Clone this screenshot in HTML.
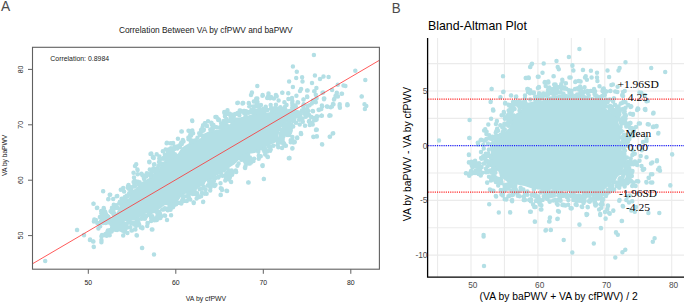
<!DOCTYPE html>
<html><head><meta charset="utf-8"><style>
html,body{margin:0;padding:0;background:#fff;width:685px;height:304px;overflow:hidden}
svg{display:block;font-family:"Liberation Sans",sans-serif}
</style></head><body>
<svg width="685" height="304" viewBox="0 0 685 304">
<rect width="685" height="304" fill="#fff"/>
<path d="M103.68 218.65 L106.18 220.34 L111.99 223.79 L112.3 224 L115.76 226.59 L118.83 225.81 L119.19 225.74 L119.55 225.7 L119.91 225.71 L120.27 225.75 L120.62 225.82 L120.96 225.94 L121.29 226.08 L122.38 226.64 L123.48 223.38 L123.61 223.07 L123.76 222.77 L123.94 222.49 L124.14 222.22 L124.37 221.98 L124.63 221.76 L124.9 221.56 L125.19 221.39 L125.49 221.25 L125.81 221.14 L126.13 221.06 L126.47 221.02 L126.8 221 L131.07 221 L135.13 219.98 L138.29 218.53 L141.64 216.3 L145.12 213.91 L145.42 213.73 L145.73 213.58 L146.05 213.46 L146.39 213.37 L146.73 213.32 L147.08 213.3 L147.42 213.31 L147.77 213.36 L148.1 213.45 L148.43 213.56 L148.74 213.71 L149.04 213.89 L149.32 214.09 L149.57 214.33 L150.66 215.42 L151.69 214.36 L151.95 214.12 L152.22 213.91 L152.52 213.73 L152.84 213.58 L153.17 213.46 L153.51 213.37 L153.85 213.32 L154.2 213.3 L156.76 213.3 L158.18 210.51 L158.34 210.23 L158.53 209.97 L158.73 209.72 L158.96 209.5 L159.21 209.29 L163.91 205.79 L164.19 205.6 L164.5 205.44 L164.81 205.31 L165.14 205.21 L165.48 205.14 L165.82 205.1 L166.16 205.1 L166.5 205.14 L166.84 205.2 L167.17 205.3 L168.64 205.82 L168.69 205.66 L168.81 205.36 L168.96 205.06 L169.14 204.78 L169.34 204.52 L169.57 204.28 L169.82 204.06 L170.09 203.87 L170.38 203.7 L170.68 203.56 L170.99 203.45 L171.31 203.37 L171.64 203.32 L171.97 203.3 L172.3 203.31 L174.64 203.51 L177.57 201.69 L181.86 195.75 L182.09 195.47 L182.34 195.21 L182.62 194.98 L182.92 194.78 L183.24 194.62 L183.58 194.48 L190.68 192.08 L190.85 192.03 L195.94 190.59 L198.79 187.66 L199.07 187.41 L199.37 187.18 L199.69 186.99 L200.03 186.84 L204.4 185.14 L205.08 183.09 L205.2 182.78 L205.35 182.48 L205.53 182.2 L205.73 181.94 L205.96 181.69 L206.21 181.47 L206.48 181.28 L206.76 181.11 L207.07 180.96 L207.38 180.85 L207.7 180.77 L212.21 179.85 L213.81 177.52 L214.02 177.24 L214.26 176.99 L214.52 176.76 L214.81 176.56 L215.11 176.38 L219.81 173.98 L220.08 173.86 L225.36 171.71 L227.25 169.9 L229.63 167.53 L229.91 167.27 L230.22 167.05 L234.6 164.26 L240.33 158.53 L240.54 158.33 L240.77 158.15 L241.01 157.99 L246.91 154.49 L247.2 154.34 L247.5 154.21 L247.8 154.12 L248.12 154.05 L254.82 152.92 L262.33 149.75 L266.67 146.42 L266.93 146.24 L267.2 146.09 L267.48 145.96 L273.27 143.6 L277.56 141.5 L279.86 139.78 L278.81 137.43 L278.68 137.1 L278.58 136.76 L278.52 136.41 L278.5 136.05 L278.51 135.69 L278.56 135.34 L279.56 130.14 L279.64 129.81 L279.75 129.49 L279.9 129.18 L280.07 128.89 L280.27 128.61 L280.49 128.36 L283.99 124.76 L284.21 124.56 L284.44 124.37 L289.24 120.87 L289.52 120.69 L289.81 120.53 L290.12 120.41 L290.43 120.31 L295.12 119.11 L301.86 117.32 L302.45 113.14 L302.01 111.16 L299.76 110.38 L291.29 108.58 L287.55 109.36 L281.97 111.72 L281.65 111.84 L281.33 111.92 L281.01 111.98 L280.68 112 L280.34 111.99 L280.02 111.95 L274.77 111.06 L270.73 111.92 L270.58 111.95 L264.68 112.95 L264.3 112.99 L263.91 112.99 L263.52 112.95 L258.39 112.1 L253.34 113.81 L246.75 116.11 L246.5 116.18 L246.24 116.24 L240.34 117.34 L240.02 117.39 L239.7 117.4 L234.76 117.4 L233.33 120.27 L233.14 120.59 L232.93 120.9 L232.67 121.17 L227.97 125.87 L227.72 126.11 L227.44 126.32 L227.14 126.49 L226.82 126.64 L220.92 129.04 L220.61 129.15 L220.28 129.23 L219.96 129.28 L216.31 129.66 L211.87 130.79 L207.5 131.91 L203.81 133.68 L200.83 137.76 L200.61 138.03 L200.38 138.27 L200.12 138.49 L199.84 138.68 L199.54 138.84 L194.84 141.14 L194.5 141.29 L194.15 141.4 L189.96 142.44 L186.98 144.49 L186.79 144.61 L181.63 147.67 L178.49 152.82 L178.29 153.11 L178.07 153.38 L177.82 153.62 L177.55 153.84 L177.25 154.03 L168.95 158.83 L168.75 158.94 L162.63 161.96 L158.76 168.9 L158.6 169.16 L158.42 169.4 L158.22 169.63 L158 169.84 L153.41 173.84 L150.01 177.34 L149.77 177.57 L149.51 177.77 L149.22 177.95 L141.43 182.36 L137.02 187.33 L136.71 187.63 L136.38 187.89 L133.13 190.12 L130.48 192.69 L129.61 196.48 L129.52 196.81 L129.4 197.13 L129.24 197.43 L129.06 197.72 L128.85 197.98 L128.62 198.23 L128.36 198.45 L128.08 198.65 L124.61 200.87 L120.78 203.8 L118.74 208.82 L118.63 209.06 L118.51 209.29 L115.01 215.19 L114.83 215.46 L114.62 215.72 L114.38 215.96 L114.13 216.18 L113.86 216.37 L113.57 216.53 L113.26 216.67 L112.94 216.77 L112.62 216.84 L104.25 218.35 L103.68 218.65 Z" fill="#b3dfe5"/>
<path d="M74.75 229.9a2.25 2.25 0 1 0 4.5 0a2.25 2.25 0 1 0 -4.5 0M81.75 235.2a2.25 2.25 0 1 0 4.5 0a2.25 2.25 0 1 0 -4.5 0M87.65 239.9a2.25 2.25 0 1 0 4.5 0a2.25 2.25 0 1 0 -4.5 0M91.15 241.5a2.25 2.25 0 1 0 4.5 0a2.25 2.25 0 1 0 -4.5 0M91.55 246.9a2.25 2.25 0 1 0 4.5 0a2.25 2.25 0 1 0 -4.5 0M99.25 236.4a2.25 2.25 0 1 0 4.5 0a2.25 2.25 0 1 0 -4.5 0M99.25 241a2.25 2.25 0 1 0 4.5 0a2.25 2.25 0 1 0 -4.5 0M102.75 235.2a2.25 2.25 0 1 0 4.5 0a2.25 2.25 0 1 0 -4.5 0M105.15 231.7a2.25 2.25 0 1 0 4.5 0a2.25 2.25 0 1 0 -4.5 0M107.45 235.2a2.25 2.25 0 1 0 4.5 0a2.25 2.25 0 1 0 -4.5 0M91.15 203.7a2.25 2.25 0 1 0 4.5 0a2.25 2.25 0 1 0 -4.5 0M94.65 207.9a2.25 2.25 0 1 0 4.5 0a2.25 2.25 0 1 0 -4.5 0M101.65 208.4a2.25 2.25 0 1 0 4.5 0a2.25 2.25 0 1 0 -4.5 0M102.75 213a2.25 2.25 0 1 0 4.5 0a2.25 2.25 0 1 0 -4.5 0M100.95 191.3a2.25 2.25 0 1 0 4.5 0a2.25 2.25 0 1 0 -4.5 0M107.45 194.8a2.25 2.25 0 1 0 4.5 0a2.25 2.25 0 1 0 -4.5 0M106.25 199a2.25 2.25 0 1 0 4.5 0a2.25 2.25 0 1 0 -4.5 0M109.75 208.4a2.25 2.25 0 1 0 4.5 0a2.25 2.25 0 1 0 -4.5 0M122.65 230.6a2.25 2.25 0 1 0 4.5 0a2.25 2.25 0 1 0 -4.5 0M129.65 230.6a2.25 2.25 0 1 0 4.5 0a2.25 2.25 0 1 0 -4.5 0M134.35 235.2a2.25 2.25 0 1 0 4.5 0a2.25 2.25 0 1 0 -4.5 0M133.15 229.4a2.25 2.25 0 1 0 4.5 0a2.25 2.25 0 1 0 -4.5 0M140.15 228.2a2.25 2.25 0 1 0 4.5 0a2.25 2.25 0 1 0 -4.5 0M149.55 229.4a2.25 2.25 0 1 0 4.5 0a2.25 2.25 0 1 0 -4.5 0M139.75 248a2.25 2.25 0 1 0 4.5 0a2.25 2.25 0 1 0 -4.5 0M151.75 254.6a2.25 2.25 0 1 0 4.5 0a2.25 2.25 0 1 0 -4.5 0M162.35 215.4a2.25 2.25 0 1 0 4.5 0a2.25 2.25 0 1 0 -4.5 0M164.75 220a2.25 2.25 0 1 0 4.5 0a2.25 2.25 0 1 0 -4.5 0M191.55 202.5a2.25 2.25 0 1 0 4.5 0a2.25 2.25 0 1 0 -4.5 0M200.95 201.8a2.25 2.25 0 1 0 4.5 0a2.25 2.25 0 1 0 -4.5 0M203.25 193.2a2.25 2.25 0 1 0 4.5 0a2.25 2.25 0 1 0 -4.5 0M218.45 194.8a2.25 2.25 0 1 0 4.5 0a2.25 2.25 0 1 0 -4.5 0M219.15 188.5a2.25 2.25 0 1 0 4.5 0a2.25 2.25 0 1 0 -4.5 0M224.25 190.8a2.25 2.25 0 1 0 4.5 0a2.25 2.25 0 1 0 -4.5 0M148.25 154a2.25 2.25 0 1 0 4.5 0a2.25 2.25 0 1 0 -4.5 0M150.65 157.5a2.25 2.25 0 1 0 4.5 0a2.25 2.25 0 1 0 -4.5 0M147.05 162.2a2.25 2.25 0 1 0 4.5 0a2.25 2.25 0 1 0 -4.5 0M151.75 164.5a2.25 2.25 0 1 0 4.5 0a2.25 2.25 0 1 0 -4.5 0M157.65 158.2a2.25 2.25 0 1 0 4.5 0a2.25 2.25 0 1 0 -4.5 0M163.45 155.2a2.25 2.25 0 1 0 4.5 0a2.25 2.25 0 1 0 -4.5 0M166.95 149.3a2.25 2.25 0 1 0 4.5 0a2.25 2.25 0 1 0 -4.5 0M164.65 142.8a2.25 2.25 0 1 0 4.5 0a2.25 2.25 0 1 0 -4.5 0M169.25 143.5a2.25 2.25 0 1 0 4.5 0a2.25 2.25 0 1 0 -4.5 0M140.05 175a2.25 2.25 0 1 0 4.5 0a2.25 2.25 0 1 0 -4.5 0M200.85 201.9a2.25 2.25 0 1 0 4.5 0a2.25 2.25 0 1 0 -4.5 0M191.45 203.1a2.25 2.25 0 1 0 4.5 0a2.25 2.25 0 1 0 -4.5 0M187.95 199.6a2.25 2.25 0 1 0 4.5 0a2.25 2.25 0 1 0 -4.5 0M204.35 193.7a2.25 2.25 0 1 0 4.5 0a2.25 2.25 0 1 0 -4.5 0M218.35 194.9a2.25 2.25 0 1 0 4.5 0a2.25 2.25 0 1 0 -4.5 0M219.55 189.1a2.25 2.25 0 1 0 4.5 0a2.25 2.25 0 1 0 -4.5 0M224.65 190.9a2.25 2.25 0 1 0 4.5 0a2.25 2.25 0 1 0 -4.5 0M228.85 182.1a2.25 2.25 0 1 0 4.5 0a2.25 2.25 0 1 0 -4.5 0M230.05 173.9a2.25 2.25 0 1 0 4.5 0a2.25 2.25 0 1 0 -4.5 0M233.55 170.4a2.25 2.25 0 1 0 4.5 0a2.25 2.25 0 1 0 -4.5 0M242.85 168a2.25 2.25 0 1 0 4.5 0a2.25 2.25 0 1 0 -4.5 0M246.35 163.4a2.25 2.25 0 1 0 4.5 0a2.25 2.25 0 1 0 -4.5 0M245.95 182.5a2.25 2.25 0 1 0 4.5 0a2.25 2.25 0 1 0 -4.5 0M260.45 165.2a2.25 2.25 0 1 0 4.5 0a2.25 2.25 0 1 0 -4.5 0M261.55 179a2.25 2.25 0 1 0 4.5 0a2.25 2.25 0 1 0 -4.5 0M265.05 156.4a2.25 2.25 0 1 0 4.5 0a2.25 2.25 0 1 0 -4.5 0M287.25 158.2a2.25 2.25 0 1 0 4.5 0a2.25 2.25 0 1 0 -4.5 0M290.05 148.2a2.25 2.25 0 1 0 4.5 0a2.25 2.25 0 1 0 -4.5 0M288.45 142.3a2.25 2.25 0 1 0 4.5 0a2.25 2.25 0 1 0 -4.5 0M291.95 142.3a2.25 2.25 0 1 0 4.5 0a2.25 2.25 0 1 0 -4.5 0M249.65 92.8a2.25 2.25 0 1 0 4.5 0a2.25 2.25 0 1 0 -4.5 0M260.35 95.1a2.25 2.25 0 1 0 4.5 0a2.25 2.25 0 1 0 -4.5 0M266.25 93.5a2.25 2.25 0 1 0 4.5 0a2.25 2.25 0 1 0 -4.5 0M273.65 95.1a2.25 2.25 0 1 0 4.5 0a2.25 2.25 0 1 0 -4.5 0M279.95 92.8a2.25 2.25 0 1 0 4.5 0a2.25 2.25 0 1 0 -4.5 0M286.05 93.3a2.25 2.25 0 1 0 4.5 0a2.25 2.25 0 1 0 -4.5 0M267.85 98.2a2.25 2.25 0 1 0 4.5 0a2.25 2.25 0 1 0 -4.5 0M253.85 99.3a2.25 2.25 0 1 0 4.5 0a2.25 2.25 0 1 0 -4.5 0M235.15 102.9a2.25 2.25 0 1 0 4.5 0a2.25 2.25 0 1 0 -4.5 0M240.95 102.9a2.25 2.25 0 1 0 4.5 0a2.25 2.25 0 1 0 -4.5 0M246.85 104a2.25 2.25 0 1 0 4.5 0a2.25 2.25 0 1 0 -4.5 0M254.95 104a2.25 2.25 0 1 0 4.5 0a2.25 2.25 0 1 0 -4.5 0M222.25 112.2a2.25 2.25 0 1 0 4.5 0a2.25 2.25 0 1 0 -4.5 0M226.95 113.4a2.25 2.25 0 1 0 4.5 0a2.25 2.25 0 1 0 -4.5 0M214.15 116.9a2.25 2.25 0 1 0 4.5 0a2.25 2.25 0 1 0 -4.5 0M202.85 123.2a2.25 2.25 0 1 0 4.5 0a2.25 2.25 0 1 0 -4.5 0M209.45 123.2a2.25 2.25 0 1 0 4.5 0a2.25 2.25 0 1 0 -4.5 0M215.95 119.9a2.25 2.25 0 1 0 4.5 0a2.25 2.25 0 1 0 -4.5 0M237.45 111a2.25 2.25 0 1 0 4.5 0a2.25 2.25 0 1 0 -4.5 0M344.95 105.2a2.25 2.25 0 1 0 4.5 0a2.25 2.25 0 1 0 -4.5 0M337.45 106.8a2.25 2.25 0 1 0 4.5 0a2.25 2.25 0 1 0 -4.5 0M329.75 106.4a2.25 2.25 0 1 0 4.5 0a2.25 2.25 0 1 0 -4.5 0M325.05 106.8a2.25 2.25 0 1 0 4.5 0a2.25 2.25 0 1 0 -4.5 0M319.25 115.7a2.25 2.25 0 1 0 4.5 0a2.25 2.25 0 1 0 -4.5 0M327.45 115.2a2.25 2.25 0 1 0 4.5 0a2.25 2.25 0 1 0 -4.5 0M313.45 119.9a2.25 2.25 0 1 0 4.5 0a2.25 2.25 0 1 0 -4.5 0M314.55 129.7a2.25 2.25 0 1 0 4.5 0a2.25 2.25 0 1 0 -4.5 0M330.95 133.2a2.25 2.25 0 1 0 4.5 0a2.25 2.25 0 1 0 -4.5 0M327.45 136.7a2.25 2.25 0 1 0 4.5 0a2.25 2.25 0 1 0 -4.5 0M311.05 136.7a2.25 2.25 0 1 0 4.5 0a2.25 2.25 0 1 0 -4.5 0M314.55 136.3a2.25 2.25 0 1 0 4.5 0a2.25 2.25 0 1 0 -4.5 0M319.75 144.2a2.25 2.25 0 1 0 4.5 0a2.25 2.25 0 1 0 -4.5 0M298.65 133.9a2.25 2.25 0 1 0 4.5 0a2.25 2.25 0 1 0 -4.5 0M294.75 137.9a2.25 2.25 0 1 0 4.5 0a2.25 2.25 0 1 0 -4.5 0M290.05 139.5a2.25 2.25 0 1 0 4.5 0a2.25 2.25 0 1 0 -4.5 0M291.25 142.6a2.25 2.25 0 1 0 4.5 0a2.25 2.25 0 1 0 -4.5 0M290.05 148.4a2.25 2.25 0 1 0 4.5 0a2.25 2.25 0 1 0 -4.5 0M281.85 143.7a2.25 2.25 0 1 0 4.5 0a2.25 2.25 0 1 0 -4.5 0M286.55 158.2a2.25 2.25 0 1 0 4.5 0a2.25 2.25 0 1 0 -4.5 0M276.05 147.2a2.25 2.25 0 1 0 4.5 0a2.25 2.25 0 1 0 -4.5 0M307.55 125a2.25 2.25 0 1 0 4.5 0a2.25 2.25 0 1 0 -4.5 0M309.85 122.7a2.25 2.25 0 1 0 4.5 0a2.25 2.25 0 1 0 -4.5 0M312.25 118a2.25 2.25 0 1 0 4.5 0a2.25 2.25 0 1 0 -4.5 0M311.65 55a2.25 2.25 0 1 0 4.5 0a2.25 2.25 0 1 0 -4.5 0M290.65 66.5a2.25 2.25 0 1 0 4.5 0a2.25 2.25 0 1 0 -4.5 0M294.55 71.8a2.25 2.25 0 1 0 4.5 0a2.25 2.25 0 1 0 -4.5 0M353.05 70.7a2.25 2.25 0 1 0 4.5 0a2.25 2.25 0 1 0 -4.5 0M312.65 75.6a2.25 2.25 0 1 0 4.5 0a2.25 2.25 0 1 0 -4.5 0M321.25 76.6a2.25 2.25 0 1 0 4.5 0a2.25 2.25 0 1 0 -4.5 0M326.35 77a2.25 2.25 0 1 0 4.5 0a2.25 2.25 0 1 0 -4.5 0M299.85 77.2a2.25 2.25 0 1 0 4.5 0a2.25 2.25 0 1 0 -4.5 0M293.95 77.9a2.25 2.25 0 1 0 4.5 0a2.25 2.25 0 1 0 -4.5 0M317.75 79.1a2.25 2.25 0 1 0 4.5 0a2.25 2.25 0 1 0 -4.5 0M363.05 80a2.25 2.25 0 1 0 4.5 0a2.25 2.25 0 1 0 -4.5 0M286.85 81.4a2.25 2.25 0 1 0 4.5 0a2.25 2.25 0 1 0 -4.5 0M300.25 81.4a2.25 2.25 0 1 0 4.5 0a2.25 2.25 0 1 0 -4.5 0M309.75 82.9a2.25 2.25 0 1 0 4.5 0a2.25 2.25 0 1 0 -4.5 0M255.05 86.1a2.25 2.25 0 1 0 4.5 0a2.25 2.25 0 1 0 -4.5 0M290.65 87.1a2.25 2.25 0 1 0 4.5 0a2.25 2.25 0 1 0 -4.5 0M314.15 88a2.25 2.25 0 1 0 4.5 0a2.25 2.25 0 1 0 -4.5 0M335.55 84.8a2.25 2.25 0 1 0 4.5 0a2.25 2.25 0 1 0 -4.5 0M341.25 85.5a2.25 2.25 0 1 0 4.5 0a2.25 2.25 0 1 0 -4.5 0M343.15 86.1a2.25 2.25 0 1 0 4.5 0a2.25 2.25 0 1 0 -4.5 0M298.85 89a2.25 2.25 0 1 0 4.5 0a2.25 2.25 0 1 0 -4.5 0M305.35 90.5a2.25 2.25 0 1 0 4.5 0a2.25 2.25 0 1 0 -4.5 0M297.75 90.9a2.25 2.25 0 1 0 4.5 0a2.25 2.25 0 1 0 -4.5 0M329.85 90a2.25 2.25 0 1 0 4.5 0a2.25 2.25 0 1 0 -4.5 0M312.25 91.3a2.25 2.25 0 1 0 4.5 0a2.25 2.25 0 1 0 -4.5 0M249.65 92.4a2.25 2.25 0 1 0 4.5 0a2.25 2.25 0 1 0 -4.5 0M280.15 92.8a2.25 2.25 0 1 0 4.5 0a2.25 2.25 0 1 0 -4.5 0M285.95 93.2a2.25 2.25 0 1 0 4.5 0a2.25 2.25 0 1 0 -4.5 0M266.25 93.8a2.25 2.25 0 1 0 4.5 0a2.25 2.25 0 1 0 -4.5 0M320.25 92.8a2.25 2.25 0 1 0 4.5 0a2.25 2.25 0 1 0 -4.5 0M334.55 92.8a2.25 2.25 0 1 0 4.5 0a2.25 2.25 0 1 0 -4.5 0M333.65 95.7a2.25 2.25 0 1 0 4.5 0a2.25 2.25 0 1 0 -4.5 0M339.35 93.8a2.25 2.25 0 1 0 4.5 0a2.25 2.25 0 1 0 -4.5 0M313.55 94.7a2.25 2.25 0 1 0 4.5 0a2.25 2.25 0 1 0 -4.5 0M294.15 95.7a2.25 2.25 0 1 0 4.5 0a2.25 2.25 0 1 0 -4.5 0M260.15 95.7a2.25 2.25 0 1 0 4.5 0a2.25 2.25 0 1 0 -4.5 0M305.05 97a2.25 2.25 0 1 0 4.5 0a2.25 2.25 0 1 0 -4.5 0M289.75 98.1a2.25 2.25 0 1 0 4.5 0a2.25 2.25 0 1 0 -4.5 0M274.45 96.2a2.25 2.25 0 1 0 4.5 0a2.25 2.25 0 1 0 -4.5 0M271.65 98.5a2.25 2.25 0 1 0 4.5 0a2.25 2.25 0 1 0 -4.5 0M268.75 97a2.25 2.25 0 1 0 4.5 0a2.25 2.25 0 1 0 -4.5 0M264.95 98.1a2.25 2.25 0 1 0 4.5 0a2.25 2.25 0 1 0 -4.5 0M255.05 98.5a2.25 2.25 0 1 0 4.5 0a2.25 2.25 0 1 0 -4.5 0M321.65 98.5a2.25 2.25 0 1 0 4.5 0a2.25 2.25 0 1 0 -4.5 0M331.75 99.5a2.25 2.25 0 1 0 4.5 0a2.25 2.25 0 1 0 -4.5 0M359.35 96.6a2.25 2.25 0 1 0 4.5 0a2.25 2.25 0 1 0 -4.5 0M301.15 99.5a2.25 2.25 0 1 0 4.5 0a2.25 2.25 0 1 0 -4.5 0M276.35 100.4a2.25 2.25 0 1 0 4.5 0a2.25 2.25 0 1 0 -4.5 0M310.75 100.4a2.25 2.25 0 1 0 4.5 0a2.25 2.25 0 1 0 -4.5 0M313.55 102.3a2.25 2.25 0 1 0 4.5 0a2.25 2.25 0 1 0 -4.5 0M251.55 101.4a2.25 2.25 0 1 0 4.5 0a2.25 2.25 0 1 0 -4.5 0M282.15 102.3a2.25 2.25 0 1 0 4.5 0a2.25 2.25 0 1 0 -4.5 0M295.45 102.3a2.25 2.25 0 1 0 4.5 0a2.25 2.25 0 1 0 -4.5 0M362.25 104.3a2.25 2.25 0 1 0 4.5 0a2.25 2.25 0 1 0 -4.5 0M345.05 104.3a2.25 2.25 0 1 0 4.5 0a2.25 2.25 0 1 0 -4.5 0M337.45 104.3a2.25 2.25 0 1 0 4.5 0a2.25 2.25 0 1 0 -4.5 0M330.75 103.9a2.25 2.25 0 1 0 4.5 0a2.25 2.25 0 1 0 -4.5 0M133.95 164.3a2.25 2.25 0 1 0 4.5 0a2.25 2.25 0 1 0 -4.5 0M135.15 169.6a2.25 2.25 0 1 0 4.5 0a2.25 2.25 0 1 0 -4.5 0M147.25 161.9a2.25 2.25 0 1 0 4.5 0a2.25 2.25 0 1 0 -4.5 0M149.15 154.2a2.25 2.25 0 1 0 4.5 0a2.25 2.25 0 1 0 -4.5 0M151.45 157.9a2.25 2.25 0 1 0 4.5 0a2.25 2.25 0 1 0 -4.5 0M164.35 143.2a2.25 2.25 0 1 0 4.5 0a2.25 2.25 0 1 0 -4.5 0M170.15 143.2a2.25 2.25 0 1 0 4.5 0a2.25 2.25 0 1 0 -4.5 0M167.85 149.1a2.25 2.25 0 1 0 4.5 0a2.25 2.25 0 1 0 -4.5 0M179.55 131.5a2.25 2.25 0 1 0 4.5 0a2.25 2.25 0 1 0 -4.5 0M187.75 131.5a2.25 2.25 0 1 0 4.5 0a2.25 2.25 0 1 0 -4.5 0M190.05 130.4a2.25 2.25 0 1 0 4.5 0a2.25 2.25 0 1 0 -4.5 0M187.75 136.2a2.25 2.25 0 1 0 4.5 0a2.25 2.25 0 1 0 -4.5 0M190.05 121a2.25 2.25 0 1 0 4.5 0a2.25 2.25 0 1 0 -4.5 0M202.85 123.4a2.25 2.25 0 1 0 4.5 0a2.25 2.25 0 1 0 -4.5 0M209.45 123.4a2.25 2.25 0 1 0 4.5 0a2.25 2.25 0 1 0 -4.5 0M214.55 117.5a2.25 2.25 0 1 0 4.5 0a2.25 2.25 0 1 0 -4.5 0M216.95 119.9a2.25 2.25 0 1 0 4.5 0a2.25 2.25 0 1 0 -4.5 0M222.05 112.1a2.25 2.25 0 1 0 4.5 0a2.25 2.25 0 1 0 -4.5 0M226.25 114a2.25 2.25 0 1 0 4.5 0a2.25 2.25 0 1 0 -4.5 0M235.65 102.8a2.25 2.25 0 1 0 4.5 0a2.25 2.25 0 1 0 -4.5 0M240.25 103.5a2.25 2.25 0 1 0 4.5 0a2.25 2.25 0 1 0 -4.5 0M246.55 103.5a2.25 2.25 0 1 0 4.5 0a2.25 2.25 0 1 0 -4.5 0M247.25 105.8a2.25 2.25 0 1 0 4.5 0a2.25 2.25 0 1 0 -4.5 0M253.85 101.9a2.25 2.25 0 1 0 4.5 0a2.25 2.25 0 1 0 -4.5 0M254.25 105.1a2.25 2.25 0 1 0 4.5 0a2.25 2.25 0 1 0 -4.5 0M237.45 110.5a2.25 2.25 0 1 0 4.5 0a2.25 2.25 0 1 0 -4.5 0M200.55 130.4a2.25 2.25 0 1 0 4.5 0a2.25 2.25 0 1 0 -4.5 0M244.95 160.7a2.25 2.25 0 1 0 4.5 0a2.25 2.25 0 1 0 -4.5 0M247.25 163.1a2.25 2.25 0 1 0 4.5 0a2.25 2.25 0 1 0 -4.5 0M242.65 167.8a2.25 2.25 0 1 0 4.5 0a2.25 2.25 0 1 0 -4.5 0M298.95 133.9a2.25 2.25 0 1 0 4.5 0a2.25 2.25 0 1 0 -4.5 0M295.05 137.9a2.25 2.25 0 1 0 4.5 0a2.25 2.25 0 1 0 -4.5 0M290.15 137a2.25 2.25 0 1 0 4.5 0a2.25 2.25 0 1 0 -4.5 0M288.95 140.5a2.25 2.25 0 1 0 4.5 0a2.25 2.25 0 1 0 -4.5 0M292.45 142.3a2.25 2.25 0 1 0 4.5 0a2.25 2.25 0 1 0 -4.5 0M290.15 148.4a2.25 2.25 0 1 0 4.5 0a2.25 2.25 0 1 0 -4.5 0M283.65 145.8a2.25 2.25 0 1 0 4.5 0a2.25 2.25 0 1 0 -4.5 0M287.15 158a2.25 2.25 0 1 0 4.5 0a2.25 2.25 0 1 0 -4.5 0M265.65 157.1a2.25 2.25 0 1 0 4.5 0a2.25 2.25 0 1 0 -4.5 0M260.35 165.9a2.25 2.25 0 1 0 4.5 0a2.25 2.25 0 1 0 -4.5 0M261.65 179a2.25 2.25 0 1 0 4.5 0a2.25 2.25 0 1 0 -4.5 0M311.15 137a2.25 2.25 0 1 0 4.5 0a2.25 2.25 0 1 0 -4.5 0M314.65 136.5a2.25 2.25 0 1 0 4.5 0a2.25 2.25 0 1 0 -4.5 0M319.95 144.4a2.25 2.25 0 1 0 4.5 0a2.25 2.25 0 1 0 -4.5 0M327.75 136.7a2.25 2.25 0 1 0 4.5 0a2.25 2.25 0 1 0 -4.5 0M330.45 133.5a2.25 2.25 0 1 0 4.5 0a2.25 2.25 0 1 0 -4.5 0M313.75 130a2.25 2.25 0 1 0 4.5 0a2.25 2.25 0 1 0 -4.5 0M288.35 130.9a2.25 2.25 0 1 0 4.5 0a2.25 2.25 0 1 0 -4.5 0M284.05 133.2a2.25 2.25 0 1 0 4.5 0a2.25 2.25 0 1 0 -4.5 0M359.55 96.5a2.25 2.25 0 1 0 4.5 0a2.25 2.25 0 1 0 -4.5 0M364.05 106a2.25 2.25 0 1 0 4.5 0a2.25 2.25 0 1 0 -4.5 0M362.65 108.9a2.25 2.25 0 1 0 4.5 0a2.25 2.25 0 1 0 -4.5 0M345.45 105.1a2.25 2.25 0 1 0 4.5 0a2.25 2.25 0 1 0 -4.5 0M337.35 105.4a2.25 2.25 0 1 0 4.5 0a2.25 2.25 0 1 0 -4.5 0M337.65 107.8a2.25 2.25 0 1 0 4.5 0a2.25 2.25 0 1 0 -4.5 0M331.25 104.2a2.25 2.25 0 1 0 4.5 0a2.25 2.25 0 1 0 -4.5 0M328.55 107.2a2.25 2.25 0 1 0 4.5 0a2.25 2.25 0 1 0 -4.5 0M324.95 106.6a2.25 2.25 0 1 0 4.5 0a2.25 2.25 0 1 0 -4.5 0M319.65 105.4a2.25 2.25 0 1 0 4.5 0a2.25 2.25 0 1 0 -4.5 0M316.65 110.1a2.25 2.25 0 1 0 4.5 0a2.25 2.25 0 1 0 -4.5 0M319.05 108.9a2.25 2.25 0 1 0 4.5 0a2.25 2.25 0 1 0 -4.5 0M322.05 98.5a2.25 2.25 0 1 0 4.5 0a2.25 2.25 0 1 0 -4.5 0M332.05 98.9a2.25 2.25 0 1 0 4.5 0a2.25 2.25 0 1 0 -4.5 0M334.45 93.6a2.25 2.25 0 1 0 4.5 0a2.25 2.25 0 1 0 -4.5 0M333.25 95.9a2.25 2.25 0 1 0 4.5 0a2.25 2.25 0 1 0 -4.5 0M339.75 93.8a2.25 2.25 0 1 0 4.5 0a2.25 2.25 0 1 0 -4.5 0M335.65 96.5a2.25 2.25 0 1 0 4.5 0a2.25 2.25 0 1 0 -4.5 0M328.25 115.4a2.25 2.25 0 1 0 4.5 0a2.25 2.25 0 1 0 -4.5 0M319.65 115.8a2.25 2.25 0 1 0 4.5 0a2.25 2.25 0 1 0 -4.5 0M315.25 116.6a2.25 2.25 0 1 0 4.5 0a2.25 2.25 0 1 0 -4.5 0M310.75 111.3a2.25 2.25 0 1 0 4.5 0a2.25 2.25 0 1 0 -4.5 0M306.05 111.1a2.25 2.25 0 1 0 4.5 0a2.25 2.25 0 1 0 -4.5 0M308.95 117.2a2.25 2.25 0 1 0 4.5 0a2.25 2.25 0 1 0 -4.5 0M311.95 120.2a2.25 2.25 0 1 0 4.5 0a2.25 2.25 0 1 0 -4.5 0M314.35 119.6a2.25 2.25 0 1 0 4.5 0a2.25 2.25 0 1 0 -4.5 0M306.65 121.4a2.25 2.25 0 1 0 4.5 0a2.25 2.25 0 1 0 -4.5 0M301.85 113.7a2.25 2.25 0 1 0 4.5 0a2.25 2.25 0 1 0 -4.5 0M304.85 96.5a2.25 2.25 0 1 0 4.5 0a2.25 2.25 0 1 0 -4.5 0M301.35 99.5a2.25 2.25 0 1 0 4.5 0a2.25 2.25 0 1 0 -4.5 0M309.55 103.6a2.25 2.25 0 1 0 4.5 0a2.25 2.25 0 1 0 -4.5 0M313.15 101.8a2.25 2.25 0 1 0 4.5 0a2.25 2.25 0 1 0 -4.5 0M314.35 98.3a2.25 2.25 0 1 0 4.5 0a2.25 2.25 0 1 0 -4.5 0M311.95 91.2a2.25 2.25 0 1 0 4.5 0a2.25 2.25 0 1 0 -4.5 0M320.85 92.4a2.25 2.25 0 1 0 4.5 0a2.25 2.25 0 1 0 -4.5 0M304.85 90.6a2.25 2.25 0 1 0 4.5 0a2.25 2.25 0 1 0 -4.5 0M149.15 154.1a2.25 2.25 0 1 0 4.5 0a2.25 2.25 0 1 0 -4.5 0M151.15 157.7a2.25 2.25 0 1 0 4.5 0a2.25 2.25 0 1 0 -4.5 0M146.95 161.8a2.25 2.25 0 1 0 4.5 0a2.25 2.25 0 1 0 -4.5 0M152.05 164.2a2.25 2.25 0 1 0 4.5 0a2.25 2.25 0 1 0 -4.5 0M157.05 158.3a2.25 2.25 0 1 0 4.5 0a2.25 2.25 0 1 0 -4.5 0M133.95 164.2a2.25 2.25 0 1 0 4.5 0a2.25 2.25 0 1 0 -4.5 0M132.75 166a2.25 2.25 0 1 0 4.5 0a2.25 2.25 0 1 0 -4.5 0M135.35 170.1a2.25 2.25 0 1 0 4.5 0a2.25 2.25 0 1 0 -4.5 0M131.25 172.8a2.25 2.25 0 1 0 4.5 0a2.25 2.25 0 1 0 -4.5 0M139.25 173.7a2.25 2.25 0 1 0 4.5 0a2.25 2.25 0 1 0 -4.5 0M147.55 169.5a2.25 2.25 0 1 0 4.5 0a2.25 2.25 0 1 0 -4.5 0M133.35 182a2.25 2.25 0 1 0 4.5 0a2.25 2.25 0 1 0 -4.5 0M126.25 184.9a2.25 2.25 0 1 0 4.5 0a2.25 2.25 0 1 0 -4.5 0M100.85 191.2a2.25 2.25 0 1 0 4.5 0a2.25 2.25 0 1 0 -4.5 0M107.95 194.7a2.25 2.25 0 1 0 4.5 0a2.25 2.25 0 1 0 -4.5 0M105.95 199.2a2.25 2.25 0 1 0 4.5 0a2.25 2.25 0 1 0 -4.5 0M91.35 203.7a2.25 2.25 0 1 0 4.5 0a2.25 2.25 0 1 0 -4.5 0M94.95 207.7a2.25 2.25 0 1 0 4.5 0a2.25 2.25 0 1 0 -4.5 0M101.45 208.1a2.25 2.25 0 1 0 4.5 0a2.25 2.25 0 1 0 -4.5 0M102.65 211.6a2.25 2.25 0 1 0 4.5 0a2.25 2.25 0 1 0 -4.5 0M109.75 207.7a2.25 2.25 0 1 0 4.5 0a2.25 2.25 0 1 0 -4.5 0M114.45 196.2a2.25 2.25 0 1 0 4.5 0a2.25 2.25 0 1 0 -4.5 0M118.55 189.7a2.25 2.25 0 1 0 4.5 0a2.25 2.25 0 1 0 -4.5 0M125.65 186.2a2.25 2.25 0 1 0 4.5 0a2.25 2.25 0 1 0 -4.5 0M99.05 217a2.25 2.25 0 1 0 4.5 0a2.25 2.25 0 1 0 -4.5 0M74.85 230.1a2.25 2.25 0 1 0 4.5 0a2.25 2.25 0 1 0 -4.5 0M81.75 235.1a2.25 2.25 0 1 0 4.5 0a2.25 2.25 0 1 0 -4.5 0M87.85 239.6a2.25 2.25 0 1 0 4.5 0a2.25 2.25 0 1 0 -4.5 0M90.85 241.6a2.25 2.25 0 1 0 4.5 0a2.25 2.25 0 1 0 -4.5 0M91.45 246.7a2.25 2.25 0 1 0 4.5 0a2.25 2.25 0 1 0 -4.5 0M96.15 228.6a2.25 2.25 0 1 0 4.5 0a2.25 2.25 0 1 0 -4.5 0M97.95 226.2a2.25 2.25 0 1 0 4.5 0a2.25 2.25 0 1 0 -4.5 0M99.15 236.3a2.25 2.25 0 1 0 4.5 0a2.25 2.25 0 1 0 -4.5 0M99.15 239.9a2.25 2.25 0 1 0 4.5 0a2.25 2.25 0 1 0 -4.5 0M99.15 242.2a2.25 2.25 0 1 0 4.5 0a2.25 2.25 0 1 0 -4.5 0M99.75 235.1a2.25 2.25 0 1 0 4.5 0a2.25 2.25 0 1 0 -4.5 0M103.25 233.9a2.25 2.25 0 1 0 4.5 0a2.25 2.25 0 1 0 -4.5 0M105.65 230.4a2.25 2.25 0 1 0 4.5 0a2.25 2.25 0 1 0 -4.5 0M106.85 234.5a2.25 2.25 0 1 0 4.5 0a2.25 2.25 0 1 0 -4.5 0M104.45 235.7a2.25 2.25 0 1 0 4.5 0a2.25 2.25 0 1 0 -4.5 0M109.15 229.8a2.25 2.25 0 1 0 4.5 0a2.25 2.25 0 1 0 -4.5 0M122.75 231.6a2.25 2.25 0 1 0 4.5 0a2.25 2.25 0 1 0 -4.5 0M129.25 230.4a2.25 2.25 0 1 0 4.5 0a2.25 2.25 0 1 0 -4.5 0M132.85 229.2a2.25 2.25 0 1 0 4.5 0a2.25 2.25 0 1 0 -4.5 0M139.95 227.4a2.25 2.25 0 1 0 4.5 0a2.25 2.25 0 1 0 -4.5 0M134.65 235.4a2.25 2.25 0 1 0 4.5 0a2.25 2.25 0 1 0 -4.5 0M139.95 248.1a2.25 2.25 0 1 0 4.5 0a2.25 2.25 0 1 0 -4.5 0M145.25 223a2.25 2.25 0 1 0 4.5 0a2.25 2.25 0 1 0 -4.5 0M140.15 227.5a2.25 2.25 0 1 0 4.5 0a2.25 2.25 0 1 0 -4.5 0M145.45 223.3a2.25 2.25 0 1 0 4.5 0a2.25 2.25 0 1 0 -4.5 0M150.15 229.5a2.25 2.25 0 1 0 4.5 0a2.25 2.25 0 1 0 -4.5 0M154.55 220.1a2.25 2.25 0 1 0 4.5 0a2.25 2.25 0 1 0 -4.5 0M162.85 215.7a2.25 2.25 0 1 0 4.5 0a2.25 2.25 0 1 0 -4.5 0M164.75 220.1a2.25 2.25 0 1 0 4.5 0a2.25 2.25 0 1 0 -4.5 0M168.25 209.7a2.25 2.25 0 1 0 4.5 0a2.25 2.25 0 1 0 -4.5 0M187.85 199.6a2.25 2.25 0 1 0 4.5 0a2.25 2.25 0 1 0 -4.5 0M191.35 202.5a2.25 2.25 0 1 0 4.5 0a2.25 2.25 0 1 0 -4.5 0M194.35 198.4a2.25 2.25 0 1 0 4.5 0a2.25 2.25 0 1 0 -4.5 0M200.85 202a2.25 2.25 0 1 0 4.5 0a2.25 2.25 0 1 0 -4.5 0M202.65 193.7a2.25 2.25 0 1 0 4.5 0a2.25 2.25 0 1 0 -4.5 0M218.55 188.3a2.25 2.25 0 1 0 4.5 0a2.25 2.25 0 1 0 -4.5 0M219.75 190.1a2.25 2.25 0 1 0 4.5 0a2.25 2.25 0 1 0 -4.5 0M224.85 191.1a2.25 2.25 0 1 0 4.5 0a2.25 2.25 0 1 0 -4.5 0M218.55 194.9a2.25 2.25 0 1 0 4.5 0a2.25 2.25 0 1 0 -4.5 0M228.65 181.8a2.25 2.25 0 1 0 4.5 0a2.25 2.25 0 1 0 -4.5 0M226.85 179.5a2.25 2.25 0 1 0 4.5 0a2.25 2.25 0 1 0 -4.5 0M246.35 182.4a2.25 2.25 0 1 0 4.5 0a2.25 2.25 0 1 0 -4.5 0M229.85 174.7a2.25 2.25 0 1 0 4.5 0a2.25 2.25 0 1 0 -4.5 0M233.95 172.1a2.25 2.25 0 1 0 4.5 0a2.25 2.25 0 1 0 -4.5 0M229.85 171.8a2.25 2.25 0 1 0 4.5 0a2.25 2.25 0 1 0 -4.5 0M244.65 161a2.25 2.25 0 1 0 4.5 0a2.25 2.25 0 1 0 -4.5 0M247.65 163.4a2.25 2.25 0 1 0 4.5 0a2.25 2.25 0 1 0 -4.5 0M256.45 158.7a2.25 2.25 0 1 0 4.5 0a2.25 2.25 0 1 0 -4.5 0M260.05 165.5a2.25 2.25 0 1 0 4.5 0a2.25 2.25 0 1 0 -4.5 0M265.55 156.9a2.25 2.25 0 1 0 4.5 0a2.25 2.25 0 1 0 -4.5 0M287.25 158.1a2.25 2.25 0 1 0 4.5 0a2.25 2.25 0 1 0 -4.5 0M290.25 148.3a2.25 2.25 0 1 0 4.5 0a2.25 2.25 0 1 0 -4.5 0M283.15 145.7a2.25 2.25 0 1 0 4.5 0a2.25 2.25 0 1 0 -4.5 0M292.55 142.1a2.25 2.25 0 1 0 4.5 0a2.25 2.25 0 1 0 -4.5 0M288.45 140.3a2.25 2.25 0 1 0 4.5 0a2.25 2.25 0 1 0 -4.5 0M294.95 137.6a2.25 2.25 0 1 0 4.5 0a2.25 2.25 0 1 0 -4.5 0M284.85 135a2.25 2.25 0 1 0 4.5 0a2.25 2.25 0 1 0 -4.5 0M189.85 120.4a2.25 2.25 0 1 0 4.5 0a2.25 2.25 0 1 0 -4.5 0M202.55 123.2a2.25 2.25 0 1 0 4.5 0a2.25 2.25 0 1 0 -4.5 0M209.05 122.8a2.25 2.25 0 1 0 4.5 0a2.25 2.25 0 1 0 -4.5 0M213.15 116.9a2.25 2.25 0 1 0 4.5 0a2.25 2.25 0 1 0 -4.5 0M216.15 119.3a2.25 2.25 0 1 0 4.5 0a2.25 2.25 0 1 0 -4.5 0M222.05 112.8a2.25 2.25 0 1 0 4.5 0a2.25 2.25 0 1 0 -4.5 0M226.25 113.9a2.25 2.25 0 1 0 4.5 0a2.25 2.25 0 1 0 -4.5 0M222.65 116.3a2.25 2.25 0 1 0 4.5 0a2.25 2.25 0 1 0 -4.5 0M223.25 121a2.25 2.25 0 1 0 4.5 0a2.25 2.25 0 1 0 -4.5 0M237.45 110.4a2.25 2.25 0 1 0 4.5 0a2.25 2.25 0 1 0 -4.5 0M235.05 103a2.25 2.25 0 1 0 4.5 0a2.25 2.25 0 1 0 -4.5 0M240.45 103a2.25 2.25 0 1 0 4.5 0a2.25 2.25 0 1 0 -4.5 0M246.55 103a2.25 2.25 0 1 0 4.5 0a2.25 2.25 0 1 0 -4.5 0M246.95 106.2a2.25 2.25 0 1 0 4.5 0a2.25 2.25 0 1 0 -4.5 0M254.05 98.6a2.25 2.25 0 1 0 4.5 0a2.25 2.25 0 1 0 -4.5 0M255.25 102.1a2.25 2.25 0 1 0 4.5 0a2.25 2.25 0 1 0 -4.5 0M248.75 95a2.25 2.25 0 1 0 4.5 0a2.25 2.25 0 1 0 -4.5 0M260.55 95.6a2.25 2.25 0 1 0 4.5 0a2.25 2.25 0 1 0 -4.5 0M265.85 96.2a2.25 2.25 0 1 0 4.5 0a2.25 2.25 0 1 0 -4.5 0M263.45 106.8a2.25 2.25 0 1 0 4.5 0a2.25 2.25 0 1 0 -4.5 0M212.65 127a2.25 2.25 0 1 0 4.5 0a2.25 2.25 0 1 0 -4.5 0M219.15 125.2a2.25 2.25 0 1 0 4.5 0a2.25 2.25 0 1 0 -4.5 0M148.95 153.6a2.25 2.25 0 1 0 4.5 0a2.25 2.25 0 1 0 -4.5 0M151.35 157.2a2.25 2.25 0 1 0 4.5 0a2.25 2.25 0 1 0 -4.5 0M162.65 154.6a2.25 2.25 0 1 0 4.5 0a2.25 2.25 0 1 0 -4.5 0M164.75 143a2.25 2.25 0 1 0 4.5 0a2.25 2.25 0 1 0 -4.5 0M168.25 143.3a2.25 2.25 0 1 0 4.5 0a2.25 2.25 0 1 0 -4.5 0M170.85 143a2.25 2.25 0 1 0 4.5 0a2.25 2.25 0 1 0 -4.5 0M167.35 149.3a2.25 2.25 0 1 0 4.5 0a2.25 2.25 0 1 0 -4.5 0M179.15 131.5a2.25 2.25 0 1 0 4.5 0a2.25 2.25 0 1 0 -4.5 0M186.25 130.7a2.25 2.25 0 1 0 4.5 0a2.25 2.25 0 1 0 -4.5 0M189.85 130.7a2.25 2.25 0 1 0 4.5 0a2.25 2.25 0 1 0 -4.5 0M188.05 134.5a2.25 2.25 0 1 0 4.5 0a2.25 2.25 0 1 0 -4.5 0M187.45 137.8a2.25 2.25 0 1 0 4.5 0a2.25 2.25 0 1 0 -4.5 0M196.95 133.3a2.25 2.25 0 1 0 4.5 0a2.25 2.25 0 1 0 -4.5 0M201.65 129.5a2.25 2.25 0 1 0 4.5 0a2.25 2.25 0 1 0 -4.5 0M305.75 111a2.25 2.25 0 1 0 4.5 0a2.25 2.25 0 1 0 -4.5 0M310.45 111a2.25 2.25 0 1 0 4.5 0a2.25 2.25 0 1 0 -4.5 0M316.35 109.8a2.25 2.25 0 1 0 4.5 0a2.25 2.25 0 1 0 -4.5 0M319.95 106.3a2.25 2.25 0 1 0 4.5 0a2.25 2.25 0 1 0 -4.5 0M324.65 106.5a2.25 2.25 0 1 0 4.5 0a2.25 2.25 0 1 0 -4.5 0M327.05 115.8a2.25 2.25 0 1 0 4.5 0a2.25 2.25 0 1 0 -4.5 0M319.35 115.8a2.25 2.25 0 1 0 4.5 0a2.25 2.25 0 1 0 -4.5 0M314.65 116.3a2.25 2.25 0 1 0 4.5 0a2.25 2.25 0 1 0 -4.5 0M309.25 116.9a2.25 2.25 0 1 0 4.5 0a2.25 2.25 0 1 0 -4.5 0M312.85 119.9a2.25 2.25 0 1 0 4.5 0a2.25 2.25 0 1 0 -4.5 0M306.95 121.1a2.25 2.25 0 1 0 4.5 0a2.25 2.25 0 1 0 -4.5 0M310.45 124.6a2.25 2.25 0 1 0 4.5 0a2.25 2.25 0 1 0 -4.5 0M302.75 125.8a2.25 2.25 0 1 0 4.5 0a2.25 2.25 0 1 0 -4.5 0M297.45 124.6a2.25 2.25 0 1 0 4.5 0a2.25 2.25 0 1 0 -4.5 0M290.95 126.4a2.25 2.25 0 1 0 4.5 0a2.25 2.25 0 1 0 -4.5 0M288.55 130a2.25 2.25 0 1 0 4.5 0a2.25 2.25 0 1 0 -4.5 0M314.05 129.4a2.25 2.25 0 1 0 4.5 0a2.25 2.25 0 1 0 -4.5 0M298.65 132.9a2.25 2.25 0 1 0 4.5 0a2.25 2.25 0 1 0 -4.5 0M321.75 99.2a2.25 2.25 0 1 0 4.5 0a2.25 2.25 0 1 0 -4.5 0M42.95 260.9a2.25 2.25 0 1 0 4.5 0a2.25 2.25 0 1 0 -4.5 0M199.32 130.77a2.25 2.25 0 1 0 4.5 0a2.25 2.25 0 1 0 -4.5 0M122.12 199.07a2.25 2.25 0 1 0 4.5 0a2.25 2.25 0 1 0 -4.5 0M91.62 221.54a2.25 2.25 0 1 0 4.5 0a2.25 2.25 0 1 0 -4.5 0M238.73 158.87a2.25 2.25 0 1 0 4.5 0a2.25 2.25 0 1 0 -4.5 0M155.18 168.27a2.25 2.25 0 1 0 4.5 0a2.25 2.25 0 1 0 -4.5 0M237.91 110.89a2.25 2.25 0 1 0 4.5 0a2.25 2.25 0 1 0 -4.5 0M112.48 226.05a2.25 2.25 0 1 0 4.5 0a2.25 2.25 0 1 0 -4.5 0M189.16 142.05a2.25 2.25 0 1 0 4.5 0a2.25 2.25 0 1 0 -4.5 0M304.07 113.66a2.25 2.25 0 1 0 4.5 0a2.25 2.25 0 1 0 -4.5 0M177.2 145.62a2.25 2.25 0 1 0 4.5 0a2.25 2.25 0 1 0 -4.5 0M147.01 214.55a2.25 2.25 0 1 0 4.5 0a2.25 2.25 0 1 0 -4.5 0M226.77 172.65a2.25 2.25 0 1 0 4.5 0a2.25 2.25 0 1 0 -4.5 0M131.72 186a2.25 2.25 0 1 0 4.5 0a2.25 2.25 0 1 0 -4.5 0M120.27 198.63a2.25 2.25 0 1 0 4.5 0a2.25 2.25 0 1 0 -4.5 0M286.19 128.45a2.25 2.25 0 1 0 4.5 0a2.25 2.25 0 1 0 -4.5 0M123.4 226.46a2.25 2.25 0 1 0 4.5 0a2.25 2.25 0 1 0 -4.5 0M121.83 191.47a2.25 2.25 0 1 0 4.5 0a2.25 2.25 0 1 0 -4.5 0M289.99 102.99a2.25 2.25 0 1 0 4.5 0a2.25 2.25 0 1 0 -4.5 0M109.72 210.53a2.25 2.25 0 1 0 4.5 0a2.25 2.25 0 1 0 -4.5 0M229.45 172.01a2.25 2.25 0 1 0 4.5 0a2.25 2.25 0 1 0 -4.5 0M168.09 156.37a2.25 2.25 0 1 0 4.5 0a2.25 2.25 0 1 0 -4.5 0M245.83 155.88a2.25 2.25 0 1 0 4.5 0a2.25 2.25 0 1 0 -4.5 0M124.18 226.43a2.25 2.25 0 1 0 4.5 0a2.25 2.25 0 1 0 -4.5 0M142.75 177.07a2.25 2.25 0 1 0 4.5 0a2.25 2.25 0 1 0 -4.5 0M248.11 112.02a2.25 2.25 0 1 0 4.5 0a2.25 2.25 0 1 0 -4.5 0M133.03 185.93a2.25 2.25 0 1 0 4.5 0a2.25 2.25 0 1 0 -4.5 0M102.62 214.49a2.25 2.25 0 1 0 4.5 0a2.25 2.25 0 1 0 -4.5 0M119.35 198.7a2.25 2.25 0 1 0 4.5 0a2.25 2.25 0 1 0 -4.5 0M111.35 214.84a2.25 2.25 0 1 0 4.5 0a2.25 2.25 0 1 0 -4.5 0M271.41 108.56a2.25 2.25 0 1 0 4.5 0a2.25 2.25 0 1 0 -4.5 0M199.79 192.94a2.25 2.25 0 1 0 4.5 0a2.25 2.25 0 1 0 -4.5 0M278.15 107.3a2.25 2.25 0 1 0 4.5 0a2.25 2.25 0 1 0 -4.5 0M136.32 222.71a2.25 2.25 0 1 0 4.5 0a2.25 2.25 0 1 0 -4.5 0M162.99 155.19a2.25 2.25 0 1 0 4.5 0a2.25 2.25 0 1 0 -4.5 0M228.38 117.01a2.25 2.25 0 1 0 4.5 0a2.25 2.25 0 1 0 -4.5 0M133.98 181.58a2.25 2.25 0 1 0 4.5 0a2.25 2.25 0 1 0 -4.5 0M99.07 213.24a2.25 2.25 0 1 0 4.5 0a2.25 2.25 0 1 0 -4.5 0M211.08 126.95a2.25 2.25 0 1 0 4.5 0a2.25 2.25 0 1 0 -4.5 0M216.48 176.8a2.25 2.25 0 1 0 4.5 0a2.25 2.25 0 1 0 -4.5 0M281.04 110.61a2.25 2.25 0 1 0 4.5 0a2.25 2.25 0 1 0 -4.5 0M281.5 143.26a2.25 2.25 0 1 0 4.5 0a2.25 2.25 0 1 0 -4.5 0M298.67 117.89a2.25 2.25 0 1 0 4.5 0a2.25 2.25 0 1 0 -4.5 0M113.31 208.03a2.25 2.25 0 1 0 4.5 0a2.25 2.25 0 1 0 -4.5 0M189.67 140.77a2.25 2.25 0 1 0 4.5 0a2.25 2.25 0 1 0 -4.5 0M281.96 125.14a2.25 2.25 0 1 0 4.5 0a2.25 2.25 0 1 0 -4.5 0M289.02 127.28a2.25 2.25 0 1 0 4.5 0a2.25 2.25 0 1 0 -4.5 0M282.65 106.92a2.25 2.25 0 1 0 4.5 0a2.25 2.25 0 1 0 -4.5 0M208.73 185.18a2.25 2.25 0 1 0 4.5 0a2.25 2.25 0 1 0 -4.5 0M135.69 181.72a2.25 2.25 0 1 0 4.5 0a2.25 2.25 0 1 0 -4.5 0M124.15 225.9a2.25 2.25 0 1 0 4.5 0a2.25 2.25 0 1 0 -4.5 0M166.71 154.87a2.25 2.25 0 1 0 4.5 0a2.25 2.25 0 1 0 -4.5 0M269.76 111.57a2.25 2.25 0 1 0 4.5 0a2.25 2.25 0 1 0 -4.5 0M268.43 105a2.25 2.25 0 1 0 4.5 0a2.25 2.25 0 1 0 -4.5 0M172.23 204.78a2.25 2.25 0 1 0 4.5 0a2.25 2.25 0 1 0 -4.5 0M140.59 216.09a2.25 2.25 0 1 0 4.5 0a2.25 2.25 0 1 0 -4.5 0M227.63 113.74a2.25 2.25 0 1 0 4.5 0a2.25 2.25 0 1 0 -4.5 0M155.02 170.43a2.25 2.25 0 1 0 4.5 0a2.25 2.25 0 1 0 -4.5 0M199.63 135.14a2.25 2.25 0 1 0 4.5 0a2.25 2.25 0 1 0 -4.5 0M126.99 222.58a2.25 2.25 0 1 0 4.5 0a2.25 2.25 0 1 0 -4.5 0M157.26 156.42a2.25 2.25 0 1 0 4.5 0a2.25 2.25 0 1 0 -4.5 0M125.54 195.97a2.25 2.25 0 1 0 4.5 0a2.25 2.25 0 1 0 -4.5 0M135.76 219.4a2.25 2.25 0 1 0 4.5 0a2.25 2.25 0 1 0 -4.5 0M268.84 108.26a2.25 2.25 0 1 0 4.5 0a2.25 2.25 0 1 0 -4.5 0M236.32 163.61a2.25 2.25 0 1 0 4.5 0a2.25 2.25 0 1 0 -4.5 0M195.22 137.67a2.25 2.25 0 1 0 4.5 0a2.25 2.25 0 1 0 -4.5 0M273.69 110.38a2.25 2.25 0 1 0 4.5 0a2.25 2.25 0 1 0 -4.5 0M97.65 217.09a2.25 2.25 0 1 0 4.5 0a2.25 2.25 0 1 0 -4.5 0M300.55 121.74a2.25 2.25 0 1 0 4.5 0a2.25 2.25 0 1 0 -4.5 0M275.6 110.08a2.25 2.25 0 1 0 4.5 0a2.25 2.25 0 1 0 -4.5 0M144.98 226a2.25 2.25 0 1 0 4.5 0a2.25 2.25 0 1 0 -4.5 0M109.77 224.89a2.25 2.25 0 1 0 4.5 0a2.25 2.25 0 1 0 -4.5 0M245.74 158.65a2.25 2.25 0 1 0 4.5 0a2.25 2.25 0 1 0 -4.5 0M287.06 123.46a2.25 2.25 0 1 0 4.5 0a2.25 2.25 0 1 0 -4.5 0M213.11 178.12a2.25 2.25 0 1 0 4.5 0a2.25 2.25 0 1 0 -4.5 0M279.68 110.69a2.25 2.25 0 1 0 4.5 0a2.25 2.25 0 1 0 -4.5 0M210.1 130.28a2.25 2.25 0 1 0 4.5 0a2.25 2.25 0 1 0 -4.5 0M280.49 141.14a2.25 2.25 0 1 0 4.5 0a2.25 2.25 0 1 0 -4.5 0M247.65 157.61a2.25 2.25 0 1 0 4.5 0a2.25 2.25 0 1 0 -4.5 0M138.66 227.59a2.25 2.25 0 1 0 4.5 0a2.25 2.25 0 1 0 -4.5 0M152.63 220.04a2.25 2.25 0 1 0 4.5 0a2.25 2.25 0 1 0 -4.5 0M209.59 124.61a2.25 2.25 0 1 0 4.5 0a2.25 2.25 0 1 0 -4.5 0M101.25 223.02a2.25 2.25 0 1 0 4.5 0a2.25 2.25 0 1 0 -4.5 0M282.28 144.45a2.25 2.25 0 1 0 4.5 0a2.25 2.25 0 1 0 -4.5 0M186.14 137.38a2.25 2.25 0 1 0 4.5 0a2.25 2.25 0 1 0 -4.5 0M113.49 229.76a2.25 2.25 0 1 0 4.5 0a2.25 2.25 0 1 0 -4.5 0M301.47 104.28a2.25 2.25 0 1 0 4.5 0a2.25 2.25 0 1 0 -4.5 0M179.53 144.08a2.25 2.25 0 1 0 4.5 0a2.25 2.25 0 1 0 -4.5 0M304.94 108.92a2.25 2.25 0 1 0 4.5 0a2.25 2.25 0 1 0 -4.5 0M244.96 157.7a2.25 2.25 0 1 0 4.5 0a2.25 2.25 0 1 0 -4.5 0M267.74 146.46a2.25 2.25 0 1 0 4.5 0a2.25 2.25 0 1 0 -4.5 0M248.74 162.59a2.25 2.25 0 1 0 4.5 0a2.25 2.25 0 1 0 -4.5 0M228.79 117.18a2.25 2.25 0 1 0 4.5 0a2.25 2.25 0 1 0 -4.5 0M289.99 107.63a2.25 2.25 0 1 0 4.5 0a2.25 2.25 0 1 0 -4.5 0M121.69 225.36a2.25 2.25 0 1 0 4.5 0a2.25 2.25 0 1 0 -4.5 0M120.94 235.46a2.25 2.25 0 1 0 4.5 0a2.25 2.25 0 1 0 -4.5 0M287.35 125.89a2.25 2.25 0 1 0 4.5 0a2.25 2.25 0 1 0 -4.5 0M239.2 159.74a2.25 2.25 0 1 0 4.5 0a2.25 2.25 0 1 0 -4.5 0M168.73 148.16a2.25 2.25 0 1 0 4.5 0a2.25 2.25 0 1 0 -4.5 0M178.69 143.26a2.25 2.25 0 1 0 4.5 0a2.25 2.25 0 1 0 -4.5 0M271.03 110.49a2.25 2.25 0 1 0 4.5 0a2.25 2.25 0 1 0 -4.5 0M245.84 154.8a2.25 2.25 0 1 0 4.5 0a2.25 2.25 0 1 0 -4.5 0M107.79 230.07a2.25 2.25 0 1 0 4.5 0a2.25 2.25 0 1 0 -4.5 0M167.2 206.87a2.25 2.25 0 1 0 4.5 0a2.25 2.25 0 1 0 -4.5 0M168.82 215.36a2.25 2.25 0 1 0 4.5 0a2.25 2.25 0 1 0 -4.5 0M242.12 159.31a2.25 2.25 0 1 0 4.5 0a2.25 2.25 0 1 0 -4.5 0M223.96 174.51a2.25 2.25 0 1 0 4.5 0a2.25 2.25 0 1 0 -4.5 0M255.91 151.55a2.25 2.25 0 1 0 4.5 0a2.25 2.25 0 1 0 -4.5 0M135.36 174.2a2.25 2.25 0 1 0 4.5 0a2.25 2.25 0 1 0 -4.5 0M258.87 111.51a2.25 2.25 0 1 0 4.5 0a2.25 2.25 0 1 0 -4.5 0M176.9 202.68a2.25 2.25 0 1 0 4.5 0a2.25 2.25 0 1 0 -4.5 0M281.14 142.78a2.25 2.25 0 1 0 4.5 0a2.25 2.25 0 1 0 -4.5 0M291.98 119.83a2.25 2.25 0 1 0 4.5 0a2.25 2.25 0 1 0 -4.5 0M168.52 151.86a2.25 2.25 0 1 0 4.5 0a2.25 2.25 0 1 0 -4.5 0M123.79 223.92a2.25 2.25 0 1 0 4.5 0a2.25 2.25 0 1 0 -4.5 0M229.2 117.52a2.25 2.25 0 1 0 4.5 0a2.25 2.25 0 1 0 -4.5 0M163.37 149.38a2.25 2.25 0 1 0 4.5 0a2.25 2.25 0 1 0 -4.5 0M256.82 107.29a2.25 2.25 0 1 0 4.5 0a2.25 2.25 0 1 0 -4.5 0M258.69 105.12a2.25 2.25 0 1 0 4.5 0a2.25 2.25 0 1 0 -4.5 0M120.92 226.46a2.25 2.25 0 1 0 4.5 0a2.25 2.25 0 1 0 -4.5 0M172.1 148.97a2.25 2.25 0 1 0 4.5 0a2.25 2.25 0 1 0 -4.5 0M121.02 201.04a2.25 2.25 0 1 0 4.5 0a2.25 2.25 0 1 0 -4.5 0M207.47 180.87a2.25 2.25 0 1 0 4.5 0a2.25 2.25 0 1 0 -4.5 0M148.85 217.82a2.25 2.25 0 1 0 4.5 0a2.25 2.25 0 1 0 -4.5 0M274.61 111.26a2.25 2.25 0 1 0 4.5 0a2.25 2.25 0 1 0 -4.5 0M142.68 218.76a2.25 2.25 0 1 0 4.5 0a2.25 2.25 0 1 0 -4.5 0M201.43 130.3a2.25 2.25 0 1 0 4.5 0a2.25 2.25 0 1 0 -4.5 0M188.65 193.48a2.25 2.25 0 1 0 4.5 0a2.25 2.25 0 1 0 -4.5 0M224.11 175.06a2.25 2.25 0 1 0 4.5 0a2.25 2.25 0 1 0 -4.5 0M128.71 190.53a2.25 2.25 0 1 0 4.5 0a2.25 2.25 0 1 0 -4.5 0M179.09 142.58a2.25 2.25 0 1 0 4.5 0a2.25 2.25 0 1 0 -4.5 0M271.11 145.68a2.25 2.25 0 1 0 4.5 0a2.25 2.25 0 1 0 -4.5 0M135.81 222.13a2.25 2.25 0 1 0 4.5 0a2.25 2.25 0 1 0 -4.5 0M239.37 157.96a2.25 2.25 0 1 0 4.5 0a2.25 2.25 0 1 0 -4.5 0M151.48 168.59a2.25 2.25 0 1 0 4.5 0a2.25 2.25 0 1 0 -4.5 0M132.42 186.48a2.25 2.25 0 1 0 4.5 0a2.25 2.25 0 1 0 -4.5 0M181.24 200.91a2.25 2.25 0 1 0 4.5 0a2.25 2.25 0 1 0 -4.5 0M247 112.07a2.25 2.25 0 1 0 4.5 0a2.25 2.25 0 1 0 -4.5 0M284.6 130.1a2.25 2.25 0 1 0 4.5 0a2.25 2.25 0 1 0 -4.5 0M152.86 170.64a2.25 2.25 0 1 0 4.5 0a2.25 2.25 0 1 0 -4.5 0M200.49 188.42a2.25 2.25 0 1 0 4.5 0a2.25 2.25 0 1 0 -4.5 0M241.46 111.12a2.25 2.25 0 1 0 4.5 0a2.25 2.25 0 1 0 -4.5 0M251.44 108.17a2.25 2.25 0 1 0 4.5 0a2.25 2.25 0 1 0 -4.5 0M164.07 159.91a2.25 2.25 0 1 0 4.5 0a2.25 2.25 0 1 0 -4.5 0M223.03 180.61a2.25 2.25 0 1 0 4.5 0a2.25 2.25 0 1 0 -4.5 0M264.38 150.98a2.25 2.25 0 1 0 4.5 0a2.25 2.25 0 1 0 -4.5 0M283.75 127.44a2.25 2.25 0 1 0 4.5 0a2.25 2.25 0 1 0 -4.5 0M268.02 148.8a2.25 2.25 0 1 0 4.5 0a2.25 2.25 0 1 0 -4.5 0M157.45 160.21a2.25 2.25 0 1 0 4.5 0a2.25 2.25 0 1 0 -4.5 0M293.54 106.42a2.25 2.25 0 1 0 4.5 0a2.25 2.25 0 1 0 -4.5 0M228.45 120.68a2.25 2.25 0 1 0 4.5 0a2.25 2.25 0 1 0 -4.5 0M149.24 218.1a2.25 2.25 0 1 0 4.5 0a2.25 2.25 0 1 0 -4.5 0M287.16 121.23a2.25 2.25 0 1 0 4.5 0a2.25 2.25 0 1 0 -4.5 0M225.19 113.63a2.25 2.25 0 1 0 4.5 0a2.25 2.25 0 1 0 -4.5 0M186.08 193.57a2.25 2.25 0 1 0 4.5 0a2.25 2.25 0 1 0 -4.5 0M225.26 110.33a2.25 2.25 0 1 0 4.5 0a2.25 2.25 0 1 0 -4.5 0M156.91 164.93a2.25 2.25 0 1 0 4.5 0a2.25 2.25 0 1 0 -4.5 0M155.5 218.6a2.25 2.25 0 1 0 4.5 0a2.25 2.25 0 1 0 -4.5 0M227.58 173.87a2.25 2.25 0 1 0 4.5 0a2.25 2.25 0 1 0 -4.5 0M243.83 111.22a2.25 2.25 0 1 0 4.5 0a2.25 2.25 0 1 0 -4.5 0M193.12 193.98a2.25 2.25 0 1 0 4.5 0a2.25 2.25 0 1 0 -4.5 0M131.35 182.11a2.25 2.25 0 1 0 4.5 0a2.25 2.25 0 1 0 -4.5 0M148.42 175.91a2.25 2.25 0 1 0 4.5 0a2.25 2.25 0 1 0 -4.5 0M300.33 118.44a2.25 2.25 0 1 0 4.5 0a2.25 2.25 0 1 0 -4.5 0M218.9 123.48a2.25 2.25 0 1 0 4.5 0a2.25 2.25 0 1 0 -4.5 0M180.77 198.57a2.25 2.25 0 1 0 4.5 0a2.25 2.25 0 1 0 -4.5 0M136.77 184.17a2.25 2.25 0 1 0 4.5 0a2.25 2.25 0 1 0 -4.5 0M217.68 127.5a2.25 2.25 0 1 0 4.5 0a2.25 2.25 0 1 0 -4.5 0M122.65 196.93a2.25 2.25 0 1 0 4.5 0a2.25 2.25 0 1 0 -4.5 0M266.21 146.61a2.25 2.25 0 1 0 4.5 0a2.25 2.25 0 1 0 -4.5 0M291.02 120.8a2.25 2.25 0 1 0 4.5 0a2.25 2.25 0 1 0 -4.5 0M179.06 203.54a2.25 2.25 0 1 0 4.5 0a2.25 2.25 0 1 0 -4.5 0M109.87 227.78a2.25 2.25 0 1 0 4.5 0a2.25 2.25 0 1 0 -4.5 0M105.18 215.9a2.25 2.25 0 1 0 4.5 0a2.25 2.25 0 1 0 -4.5 0M118 202.61a2.25 2.25 0 1 0 4.5 0a2.25 2.25 0 1 0 -4.5 0M127.97 227.14a2.25 2.25 0 1 0 4.5 0a2.25 2.25 0 1 0 -4.5 0M151.07 168.43a2.25 2.25 0 1 0 4.5 0a2.25 2.25 0 1 0 -4.5 0M143.83 216.45a2.25 2.25 0 1 0 4.5 0a2.25 2.25 0 1 0 -4.5 0M219.4 127.02a2.25 2.25 0 1 0 4.5 0a2.25 2.25 0 1 0 -4.5 0M275.89 142.39a2.25 2.25 0 1 0 4.5 0a2.25 2.25 0 1 0 -4.5 0M190.65 194.01a2.25 2.25 0 1 0 4.5 0a2.25 2.25 0 1 0 -4.5 0M120.01 189.54a2.25 2.25 0 1 0 4.5 0a2.25 2.25 0 1 0 -4.5 0M225.34 121.3a2.25 2.25 0 1 0 4.5 0a2.25 2.25 0 1 0 -4.5 0M211.18 124.94a2.25 2.25 0 1 0 4.5 0a2.25 2.25 0 1 0 -4.5 0M293.72 122.68a2.25 2.25 0 1 0 4.5 0a2.25 2.25 0 1 0 -4.5 0M124.11 227.36a2.25 2.25 0 1 0 4.5 0a2.25 2.25 0 1 0 -4.5 0M267.92 150.81a2.25 2.25 0 1 0 4.5 0a2.25 2.25 0 1 0 -4.5 0M226.03 121.09a2.25 2.25 0 1 0 4.5 0a2.25 2.25 0 1 0 -4.5 0M139.05 218.84a2.25 2.25 0 1 0 4.5 0a2.25 2.25 0 1 0 -4.5 0M279.66 131.67a2.25 2.25 0 1 0 4.5 0a2.25 2.25 0 1 0 -4.5 0M295.86 102.46a2.25 2.25 0 1 0 4.5 0a2.25 2.25 0 1 0 -4.5 0M258.46 156.2a2.25 2.25 0 1 0 4.5 0a2.25 2.25 0 1 0 -4.5 0M98.93 211.01a2.25 2.25 0 1 0 4.5 0a2.25 2.25 0 1 0 -4.5 0M237.14 115.35a2.25 2.25 0 1 0 4.5 0a2.25 2.25 0 1 0 -4.5 0M256 151.6a2.25 2.25 0 1 0 4.5 0a2.25 2.25 0 1 0 -4.5 0M212.77 185.29a2.25 2.25 0 1 0 4.5 0a2.25 2.25 0 1 0 -4.5 0M280.3 142.82a2.25 2.25 0 1 0 4.5 0a2.25 2.25 0 1 0 -4.5 0M280.67 134.98a2.25 2.25 0 1 0 4.5 0a2.25 2.25 0 1 0 -4.5 0M263.67 108.45a2.25 2.25 0 1 0 4.5 0a2.25 2.25 0 1 0 -4.5 0M121.2 225.39a2.25 2.25 0 1 0 4.5 0a2.25 2.25 0 1 0 -4.5 0M256.5 155.63a2.25 2.25 0 1 0 4.5 0a2.25 2.25 0 1 0 -4.5 0M262.97 154.59a2.25 2.25 0 1 0 4.5 0a2.25 2.25 0 1 0 -4.5 0M187.32 193.18a2.25 2.25 0 1 0 4.5 0a2.25 2.25 0 1 0 -4.5 0M303.85 115.71a2.25 2.25 0 1 0 4.5 0a2.25 2.25 0 1 0 -4.5 0M277.84 138.91a2.25 2.25 0 1 0 4.5 0a2.25 2.25 0 1 0 -4.5 0M248 158.79a2.25 2.25 0 1 0 4.5 0a2.25 2.25 0 1 0 -4.5 0M278.05 137.78a2.25 2.25 0 1 0 4.5 0a2.25 2.25 0 1 0 -4.5 0M167.46 204.74a2.25 2.25 0 1 0 4.5 0a2.25 2.25 0 1 0 -4.5 0M282.46 109.81a2.25 2.25 0 1 0 4.5 0a2.25 2.25 0 1 0 -4.5 0M279.2 129.64a2.25 2.25 0 1 0 4.5 0a2.25 2.25 0 1 0 -4.5 0M261.32 149.67a2.25 2.25 0 1 0 4.5 0a2.25 2.25 0 1 0 -4.5 0M262.74 110.7a2.25 2.25 0 1 0 4.5 0a2.25 2.25 0 1 0 -4.5 0M174.52 203.11a2.25 2.25 0 1 0 4.5 0a2.25 2.25 0 1 0 -4.5 0M109.41 212.19a2.25 2.25 0 1 0 4.5 0a2.25 2.25 0 1 0 -4.5 0M121.68 223.71a2.25 2.25 0 1 0 4.5 0a2.25 2.25 0 1 0 -4.5 0M103.01 212.01a2.25 2.25 0 1 0 4.5 0a2.25 2.25 0 1 0 -4.5 0M268.45 149.61a2.25 2.25 0 1 0 4.5 0a2.25 2.25 0 1 0 -4.5 0M172.3 146.83a2.25 2.25 0 1 0 4.5 0a2.25 2.25 0 1 0 -4.5 0M216.06 177.57a2.25 2.25 0 1 0 4.5 0a2.25 2.25 0 1 0 -4.5 0M264.85 151.52a2.25 2.25 0 1 0 4.5 0a2.25 2.25 0 1 0 -4.5 0M126.9 193.24a2.25 2.25 0 1 0 4.5 0a2.25 2.25 0 1 0 -4.5 0M156.74 162.11a2.25 2.25 0 1 0 4.5 0a2.25 2.25 0 1 0 -4.5 0M210.41 126.55a2.25 2.25 0 1 0 4.5 0a2.25 2.25 0 1 0 -4.5 0M177.67 146.99a2.25 2.25 0 1 0 4.5 0a2.25 2.25 0 1 0 -4.5 0M127.95 190.31a2.25 2.25 0 1 0 4.5 0a2.25 2.25 0 1 0 -4.5 0M170.7 207.16a2.25 2.25 0 1 0 4.5 0a2.25 2.25 0 1 0 -4.5 0M196.87 197.06a2.25 2.25 0 1 0 4.5 0a2.25 2.25 0 1 0 -4.5 0M169.97 204.62a2.25 2.25 0 1 0 4.5 0a2.25 2.25 0 1 0 -4.5 0M117.96 229.21a2.25 2.25 0 1 0 4.5 0a2.25 2.25 0 1 0 -4.5 0M219.44 126.95a2.25 2.25 0 1 0 4.5 0a2.25 2.25 0 1 0 -4.5 0M304.38 114.52a2.25 2.25 0 1 0 4.5 0a2.25 2.25 0 1 0 -4.5 0M164.45 208.94a2.25 2.25 0 1 0 4.5 0a2.25 2.25 0 1 0 -4.5 0M115.01 195.98a2.25 2.25 0 1 0 4.5 0a2.25 2.25 0 1 0 -4.5 0M131.75 177.54a2.25 2.25 0 1 0 4.5 0a2.25 2.25 0 1 0 -4.5 0M107.47 232.37a2.25 2.25 0 1 0 4.5 0a2.25 2.25 0 1 0 -4.5 0M153.28 218.38a2.25 2.25 0 1 0 4.5 0a2.25 2.25 0 1 0 -4.5 0M122.56 229.09a2.25 2.25 0 1 0 4.5 0a2.25 2.25 0 1 0 -4.5 0M197.56 189.16a2.25 2.25 0 1 0 4.5 0a2.25 2.25 0 1 0 -4.5 0M113.11 229.65a2.25 2.25 0 1 0 4.5 0a2.25 2.25 0 1 0 -4.5 0M151.97 171.54a2.25 2.25 0 1 0 4.5 0a2.25 2.25 0 1 0 -4.5 0M257.3 107.54a2.25 2.25 0 1 0 4.5 0a2.25 2.25 0 1 0 -4.5 0M280.39 139.48a2.25 2.25 0 1 0 4.5 0a2.25 2.25 0 1 0 -4.5 0M186.65 197.47a2.25 2.25 0 1 0 4.5 0a2.25 2.25 0 1 0 -4.5 0M283.24 110.12a2.25 2.25 0 1 0 4.5 0a2.25 2.25 0 1 0 -4.5 0M304.6 112.35a2.25 2.25 0 1 0 4.5 0a2.25 2.25 0 1 0 -4.5 0M262.24 111.97a2.25 2.25 0 1 0 4.5 0a2.25 2.25 0 1 0 -4.5 0M204.82 125.96a2.25 2.25 0 1 0 4.5 0a2.25 2.25 0 1 0 -4.5 0M231.54 116.61a2.25 2.25 0 1 0 4.5 0a2.25 2.25 0 1 0 -4.5 0M160.03 209.39a2.25 2.25 0 1 0 4.5 0a2.25 2.25 0 1 0 -4.5 0M175.67 138.87a2.25 2.25 0 1 0 4.5 0a2.25 2.25 0 1 0 -4.5 0M219.18 125.91a2.25 2.25 0 1 0 4.5 0a2.25 2.25 0 1 0 -4.5 0M144.56 173.3a2.25 2.25 0 1 0 4.5 0a2.25 2.25 0 1 0 -4.5 0M149.11 171.47a2.25 2.25 0 1 0 4.5 0a2.25 2.25 0 1 0 -4.5 0M109.38 231.6a2.25 2.25 0 1 0 4.5 0a2.25 2.25 0 1 0 -4.5 0M255.58 110.82a2.25 2.25 0 1 0 4.5 0a2.25 2.25 0 1 0 -4.5 0M103.49 222.9a2.25 2.25 0 1 0 4.5 0a2.25 2.25 0 1 0 -4.5 0M169.79 154.52a2.25 2.25 0 1 0 4.5 0a2.25 2.25 0 1 0 -4.5 0M210.96 185.15a2.25 2.25 0 1 0 4.5 0a2.25 2.25 0 1 0 -4.5 0M256.57 105.89a2.25 2.25 0 1 0 4.5 0a2.25 2.25 0 1 0 -4.5 0M229.75 120.79a2.25 2.25 0 1 0 4.5 0a2.25 2.25 0 1 0 -4.5 0M242.23 160.39a2.25 2.25 0 1 0 4.5 0a2.25 2.25 0 1 0 -4.5 0M249.49 111.28a2.25 2.25 0 1 0 4.5 0a2.25 2.25 0 1 0 -4.5 0M218.25 183.32a2.25 2.25 0 1 0 4.5 0a2.25 2.25 0 1 0 -4.5 0M134.7 225.46a2.25 2.25 0 1 0 4.5 0a2.25 2.25 0 1 0 -4.5 0M206.9 181.39a2.25 2.25 0 1 0 4.5 0a2.25 2.25 0 1 0 -4.5 0M245.84 156.52a2.25 2.25 0 1 0 4.5 0a2.25 2.25 0 1 0 -4.5 0M232.99 114.11a2.25 2.25 0 1 0 4.5 0a2.25 2.25 0 1 0 -4.5 0M230.53 119.48a2.25 2.25 0 1 0 4.5 0a2.25 2.25 0 1 0 -4.5 0M110.96 198.89a2.25 2.25 0 1 0 4.5 0a2.25 2.25 0 1 0 -4.5 0M148.9 173.43a2.25 2.25 0 1 0 4.5 0a2.25 2.25 0 1 0 -4.5 0M224.99 173.71a2.25 2.25 0 1 0 4.5 0a2.25 2.25 0 1 0 -4.5 0M146.18 214.78a2.25 2.25 0 1 0 4.5 0a2.25 2.25 0 1 0 -4.5 0M93.65 220a2.25 2.25 0 1 0 4.5 0a2.25 2.25 0 1 0 -4.5 0M246.46 112.82a2.25 2.25 0 1 0 4.5 0a2.25 2.25 0 1 0 -4.5 0M179.89 200.6a2.25 2.25 0 1 0 4.5 0a2.25 2.25 0 1 0 -4.5 0M226.36 170.36a2.25 2.25 0 1 0 4.5 0a2.25 2.25 0 1 0 -4.5 0M165.93 152.12a2.25 2.25 0 1 0 4.5 0a2.25 2.25 0 1 0 -4.5 0M184.14 196.23a2.25 2.25 0 1 0 4.5 0a2.25 2.25 0 1 0 -4.5 0M241.94 159.14a2.25 2.25 0 1 0 4.5 0a2.25 2.25 0 1 0 -4.5 0M162.57 208.18a2.25 2.25 0 1 0 4.5 0a2.25 2.25 0 1 0 -4.5 0M211.08 181.48a2.25 2.25 0 1 0 4.5 0a2.25 2.25 0 1 0 -4.5 0M243.18 116.39a2.25 2.25 0 1 0 4.5 0a2.25 2.25 0 1 0 -4.5 0M257.68 110.27a2.25 2.25 0 1 0 4.5 0a2.25 2.25 0 1 0 -4.5 0M287.71 132.65a2.25 2.25 0 1 0 4.5 0a2.25 2.25 0 1 0 -4.5 0M286.63 135.11a2.25 2.25 0 1 0 4.5 0a2.25 2.25 0 1 0 -4.5 0M227.66 177.14a2.25 2.25 0 1 0 4.5 0a2.25 2.25 0 1 0 -4.5 0M166.79 156a2.25 2.25 0 1 0 4.5 0a2.25 2.25 0 1 0 -4.5 0M112.31 214.9a2.25 2.25 0 1 0 4.5 0a2.25 2.25 0 1 0 -4.5 0M108.31 211.18a2.25 2.25 0 1 0 4.5 0a2.25 2.25 0 1 0 -4.5 0M281.13 134.22a2.25 2.25 0 1 0 4.5 0a2.25 2.25 0 1 0 -4.5 0M190.85 133.22a2.25 2.25 0 1 0 4.5 0a2.25 2.25 0 1 0 -4.5 0M249.44 111.04a2.25 2.25 0 1 0 4.5 0a2.25 2.25 0 1 0 -4.5 0M300.94 106.18a2.25 2.25 0 1 0 4.5 0a2.25 2.25 0 1 0 -4.5 0M132.38 180.68a2.25 2.25 0 1 0 4.5 0a2.25 2.25 0 1 0 -4.5 0M261.85 109.19a2.25 2.25 0 1 0 4.5 0a2.25 2.25 0 1 0 -4.5 0M110.27 226.02a2.25 2.25 0 1 0 4.5 0a2.25 2.25 0 1 0 -4.5 0M200.2 127.72a2.25 2.25 0 1 0 4.5 0a2.25 2.25 0 1 0 -4.5 0M158.17 217.97a2.25 2.25 0 1 0 4.5 0a2.25 2.25 0 1 0 -4.5 0M257.87 112.04a2.25 2.25 0 1 0 4.5 0a2.25 2.25 0 1 0 -4.5 0M207.38 181.17a2.25 2.25 0 1 0 4.5 0a2.25 2.25 0 1 0 -4.5 0M235.43 113.06a2.25 2.25 0 1 0 4.5 0a2.25 2.25 0 1 0 -4.5 0M278.94 110.81a2.25 2.25 0 1 0 4.5 0a2.25 2.25 0 1 0 -4.5 0M169.24 156.57a2.25 2.25 0 1 0 4.5 0a2.25 2.25 0 1 0 -4.5 0M283.19 125.38a2.25 2.25 0 1 0 4.5 0a2.25 2.25 0 1 0 -4.5 0M98.63 221.84a2.25 2.25 0 1 0 4.5 0a2.25 2.25 0 1 0 -4.5 0M155.33 212.15a2.25 2.25 0 1 0 4.5 0a2.25 2.25 0 1 0 -4.5 0M303.55 116.63a2.25 2.25 0 1 0 4.5 0a2.25 2.25 0 1 0 -4.5 0M121.2 200.62a2.25 2.25 0 1 0 4.5 0a2.25 2.25 0 1 0 -4.5 0M118.7 229.65a2.25 2.25 0 1 0 4.5 0a2.25 2.25 0 1 0 -4.5 0M176.05 146.3a2.25 2.25 0 1 0 4.5 0a2.25 2.25 0 1 0 -4.5 0M119.94 229.45a2.25 2.25 0 1 0 4.5 0a2.25 2.25 0 1 0 -4.5 0M283.57 132.7a2.25 2.25 0 1 0 4.5 0a2.25 2.25 0 1 0 -4.5 0M101.85 215.33a2.25 2.25 0 1 0 4.5 0a2.25 2.25 0 1 0 -4.5 0M224.1 126.7a2.25 2.25 0 1 0 4.5 0a2.25 2.25 0 1 0 -4.5 0M156.16 166.12a2.25 2.25 0 1 0 4.5 0a2.25 2.25 0 1 0 -4.5 0M301.47 112.18a2.25 2.25 0 1 0 4.5 0a2.25 2.25 0 1 0 -4.5 0M128.89 187.17a2.25 2.25 0 1 0 4.5 0a2.25 2.25 0 1 0 -4.5 0M210.41 129.69a2.25 2.25 0 1 0 4.5 0a2.25 2.25 0 1 0 -4.5 0M201.43 187.11a2.25 2.25 0 1 0 4.5 0a2.25 2.25 0 1 0 -4.5 0M137.35 182.3a2.25 2.25 0 1 0 4.5 0a2.25 2.25 0 1 0 -4.5 0M157.01 158.5a2.25 2.25 0 1 0 4.5 0a2.25 2.25 0 1 0 -4.5 0M149.99 216.18a2.25 2.25 0 1 0 4.5 0a2.25 2.25 0 1 0 -4.5 0M252.87 111.09a2.25 2.25 0 1 0 4.5 0a2.25 2.25 0 1 0 -4.5 0M188.87 135.54a2.25 2.25 0 1 0 4.5 0a2.25 2.25 0 1 0 -4.5 0M235.15 165.76a2.25 2.25 0 1 0 4.5 0a2.25 2.25 0 1 0 -4.5 0M290.09 101.01a2.25 2.25 0 1 0 4.5 0a2.25 2.25 0 1 0 -4.5 0M286.15 98.93a2.25 2.25 0 1 0 4.5 0a2.25 2.25 0 1 0 -4.5 0M160.91 158.64a2.25 2.25 0 1 0 4.5 0a2.25 2.25 0 1 0 -4.5 0M198.77 130a2.25 2.25 0 1 0 4.5 0a2.25 2.25 0 1 0 -4.5 0M279.8 148.1a2.25 2.25 0 1 0 4.5 0a2.25 2.25 0 1 0 -4.5 0M193.3 192.2a2.25 2.25 0 1 0 4.5 0a2.25 2.25 0 1 0 -4.5 0M299.7 110.48a2.25 2.25 0 1 0 4.5 0a2.25 2.25 0 1 0 -4.5 0M223.73 178.31a2.25 2.25 0 1 0 4.5 0a2.25 2.25 0 1 0 -4.5 0M146.69 174.48a2.25 2.25 0 1 0 4.5 0a2.25 2.25 0 1 0 -4.5 0M158.51 158.69a2.25 2.25 0 1 0 4.5 0a2.25 2.25 0 1 0 -4.5 0M184.51 201.1a2.25 2.25 0 1 0 4.5 0a2.25 2.25 0 1 0 -4.5 0M174.14 146.75a2.25 2.25 0 1 0 4.5 0a2.25 2.25 0 1 0 -4.5 0M292.9 105.6a2.25 2.25 0 1 0 4.5 0a2.25 2.25 0 1 0 -4.5 0M240.46 111.64a2.25 2.25 0 1 0 4.5 0a2.25 2.25 0 1 0 -4.5 0M149.63 170.28a2.25 2.25 0 1 0 4.5 0a2.25 2.25 0 1 0 -4.5 0M200.82 125.28a2.25 2.25 0 1 0 4.5 0a2.25 2.25 0 1 0 -4.5 0M197.68 134.86a2.25 2.25 0 1 0 4.5 0a2.25 2.25 0 1 0 -4.5 0M143.96 176.53a2.25 2.25 0 1 0 4.5 0a2.25 2.25 0 1 0 -4.5 0M165.55 210.32a2.25 2.25 0 1 0 4.5 0a2.25 2.25 0 1 0 -4.5 0M124.36 195.7a2.25 2.25 0 1 0 4.5 0a2.25 2.25 0 1 0 -4.5 0M242.88 161.38a2.25 2.25 0 1 0 4.5 0a2.25 2.25 0 1 0 -4.5 0M289.22 125.12a2.25 2.25 0 1 0 4.5 0a2.25 2.25 0 1 0 -4.5 0M172.63 154.17a2.25 2.25 0 1 0 4.5 0a2.25 2.25 0 1 0 -4.5 0M200.7 130.69a2.25 2.25 0 1 0 4.5 0a2.25 2.25 0 1 0 -4.5 0M153.85 169.25a2.25 2.25 0 1 0 4.5 0a2.25 2.25 0 1 0 -4.5 0M251.11 106.46a2.25 2.25 0 1 0 4.5 0a2.25 2.25 0 1 0 -4.5 0M299.69 118.43a2.25 2.25 0 1 0 4.5 0a2.25 2.25 0 1 0 -4.5 0M241.81 156.27a2.25 2.25 0 1 0 4.5 0a2.25 2.25 0 1 0 -4.5 0M237.96 110.53a2.25 2.25 0 1 0 4.5 0a2.25 2.25 0 1 0 -4.5 0M224.76 125.77a2.25 2.25 0 1 0 4.5 0a2.25 2.25 0 1 0 -4.5 0M306.82 115.12a2.25 2.25 0 1 0 4.5 0a2.25 2.25 0 1 0 -4.5 0M243.37 115.59a2.25 2.25 0 1 0 4.5 0a2.25 2.25 0 1 0 -4.5 0M227.36 113.74a2.25 2.25 0 1 0 4.5 0a2.25 2.25 0 1 0 -4.5 0M279.75 109.04a2.25 2.25 0 1 0 4.5 0a2.25 2.25 0 1 0 -4.5 0M307.29 105.21a2.25 2.25 0 1 0 4.5 0a2.25 2.25 0 1 0 -4.5 0M230.22 115.08a2.25 2.25 0 1 0 4.5 0a2.25 2.25 0 1 0 -4.5 0M188.79 141.96a2.25 2.25 0 1 0 4.5 0a2.25 2.25 0 1 0 -4.5 0M276.03 108.94a2.25 2.25 0 1 0 4.5 0a2.25 2.25 0 1 0 -4.5 0M244.74 157.4a2.25 2.25 0 1 0 4.5 0a2.25 2.25 0 1 0 -4.5 0M212.55 184.69a2.25 2.25 0 1 0 4.5 0a2.25 2.25 0 1 0 -4.5 0M173.88 204.22a2.25 2.25 0 1 0 4.5 0a2.25 2.25 0 1 0 -4.5 0M154.42 154.36a2.25 2.25 0 1 0 4.5 0a2.25 2.25 0 1 0 -4.5 0M136.97 224.74a2.25 2.25 0 1 0 4.5 0a2.25 2.25 0 1 0 -4.5 0M114.02 205.28a2.25 2.25 0 1 0 4.5 0a2.25 2.25 0 1 0 -4.5 0M119.45 228.02a2.25 2.25 0 1 0 4.5 0a2.25 2.25 0 1 0 -4.5 0M236.89 113.29a2.25 2.25 0 1 0 4.5 0a2.25 2.25 0 1 0 -4.5 0M263.05 149.34a2.25 2.25 0 1 0 4.5 0a2.25 2.25 0 1 0 -4.5 0M142.92 215.44a2.25 2.25 0 1 0 4.5 0a2.25 2.25 0 1 0 -4.5 0M167.22 157.78a2.25 2.25 0 1 0 4.5 0a2.25 2.25 0 1 0 -4.5 0M131.85 224.54a2.25 2.25 0 1 0 4.5 0a2.25 2.25 0 1 0 -4.5 0M123.54 199.34a2.25 2.25 0 1 0 4.5 0a2.25 2.25 0 1 0 -4.5 0M278.58 135.25a2.25 2.25 0 1 0 4.5 0a2.25 2.25 0 1 0 -4.5 0M243.49 155.44a2.25 2.25 0 1 0 4.5 0a2.25 2.25 0 1 0 -4.5 0M161.39 209.57a2.25 2.25 0 1 0 4.5 0a2.25 2.25 0 1 0 -4.5 0M152.12 171.38a2.25 2.25 0 1 0 4.5 0a2.25 2.25 0 1 0 -4.5 0M283.33 129.13a2.25 2.25 0 1 0 4.5 0a2.25 2.25 0 1 0 -4.5 0M190.02 191.63a2.25 2.25 0 1 0 4.5 0a2.25 2.25 0 1 0 -4.5 0M210.14 129.91a2.25 2.25 0 1 0 4.5 0a2.25 2.25 0 1 0 -4.5 0M180.61 139.96a2.25 2.25 0 1 0 4.5 0a2.25 2.25 0 1 0 -4.5 0M126.6 188.85a2.25 2.25 0 1 0 4.5 0a2.25 2.25 0 1 0 -4.5 0M125.13 233a2.25 2.25 0 1 0 4.5 0a2.25 2.25 0 1 0 -4.5 0M99.43 218.84a2.25 2.25 0 1 0 4.5 0a2.25 2.25 0 1 0 -4.5 0M275.41 144.94a2.25 2.25 0 1 0 4.5 0a2.25 2.25 0 1 0 -4.5 0M103.79 214.36a2.25 2.25 0 1 0 4.5 0a2.25 2.25 0 1 0 -4.5 0M128.97 222.95a2.25 2.25 0 1 0 4.5 0a2.25 2.25 0 1 0 -4.5 0M152.45 220.29a2.25 2.25 0 1 0 4.5 0a2.25 2.25 0 1 0 -4.5 0M170.45 156.6a2.25 2.25 0 1 0 4.5 0a2.25 2.25 0 1 0 -4.5 0M208.72 182.72a2.25 2.25 0 1 0 4.5 0a2.25 2.25 0 1 0 -4.5 0M281.49 126.32a2.25 2.25 0 1 0 4.5 0a2.25 2.25 0 1 0 -4.5 0M251.31 112.84a2.25 2.25 0 1 0 4.5 0a2.25 2.25 0 1 0 -4.5 0M114.79 229.88a2.25 2.25 0 1 0 4.5 0a2.25 2.25 0 1 0 -4.5 0M171.6 205.5a2.25 2.25 0 1 0 4.5 0a2.25 2.25 0 1 0 -4.5 0M208.45 130.74a2.25 2.25 0 1 0 4.5 0a2.25 2.25 0 1 0 -4.5 0M278.59 129.63a2.25 2.25 0 1 0 4.5 0a2.25 2.25 0 1 0 -4.5 0M120.7 230.75a2.25 2.25 0 1 0 4.5 0a2.25 2.25 0 1 0 -4.5 0M242.02 113.35a2.25 2.25 0 1 0 4.5 0a2.25 2.25 0 1 0 -4.5 0M280.94 130.75a2.25 2.25 0 1 0 4.5 0a2.25 2.25 0 1 0 -4.5 0M208.06 183.96a2.25 2.25 0 1 0 4.5 0a2.25 2.25 0 1 0 -4.5 0M246.29 158.47a2.25 2.25 0 1 0 4.5 0a2.25 2.25 0 1 0 -4.5 0M141.86 178.88a2.25 2.25 0 1 0 4.5 0a2.25 2.25 0 1 0 -4.5 0M275.8 110.6a2.25 2.25 0 1 0 4.5 0a2.25 2.25 0 1 0 -4.5 0M206.46 185.02a2.25 2.25 0 1 0 4.5 0a2.25 2.25 0 1 0 -4.5 0M212.4 186.03a2.25 2.25 0 1 0 4.5 0a2.25 2.25 0 1 0 -4.5 0M305.14 115.49a2.25 2.25 0 1 0 4.5 0a2.25 2.25 0 1 0 -4.5 0M129.23 188.05a2.25 2.25 0 1 0 4.5 0a2.25 2.25 0 1 0 -4.5 0M167.34 204.73a2.25 2.25 0 1 0 4.5 0a2.25 2.25 0 1 0 -4.5 0M165.07 158.15a2.25 2.25 0 1 0 4.5 0a2.25 2.25 0 1 0 -4.5 0M285.98 122.22a2.25 2.25 0 1 0 4.5 0a2.25 2.25 0 1 0 -4.5 0M102.15 214.1a2.25 2.25 0 1 0 4.5 0a2.25 2.25 0 1 0 -4.5 0M291.45 107.84a2.25 2.25 0 1 0 4.5 0a2.25 2.25 0 1 0 -4.5 0M117.63 201.64a2.25 2.25 0 1 0 4.5 0a2.25 2.25 0 1 0 -4.5 0M221.57 124.19a2.25 2.25 0 1 0 4.5 0a2.25 2.25 0 1 0 -4.5 0M207.65 180.89a2.25 2.25 0 1 0 4.5 0a2.25 2.25 0 1 0 -4.5 0M225.16 175.54a2.25 2.25 0 1 0 4.5 0a2.25 2.25 0 1 0 -4.5 0M120.97 188.07a2.25 2.25 0 1 0 4.5 0a2.25 2.25 0 1 0 -4.5 0M122.53 200.71a2.25 2.25 0 1 0 4.5 0a2.25 2.25 0 1 0 -4.5 0M222.07 124.57a2.25 2.25 0 1 0 4.5 0a2.25 2.25 0 1 0 -4.5 0M126.63 194.77a2.25 2.25 0 1 0 4.5 0a2.25 2.25 0 1 0 -4.5 0M281.06 143.7a2.25 2.25 0 1 0 4.5 0a2.25 2.25 0 1 0 -4.5 0M261.46 108.74a2.25 2.25 0 1 0 4.5 0a2.25 2.25 0 1 0 -4.5 0M115.78 226.31a2.25 2.25 0 1 0 4.5 0a2.25 2.25 0 1 0 -4.5 0M194.92 193.13a2.25 2.25 0 1 0 4.5 0a2.25 2.25 0 1 0 -4.5 0M203.35 189.6a2.25 2.25 0 1 0 4.5 0a2.25 2.25 0 1 0 -4.5 0M143.13 176.66a2.25 2.25 0 1 0 4.5 0a2.25 2.25 0 1 0 -4.5 0M305.41 106.05a2.25 2.25 0 1 0 4.5 0a2.25 2.25 0 1 0 -4.5 0M132.17 184.05a2.25 2.25 0 1 0 4.5 0a2.25 2.25 0 1 0 -4.5 0M220.18 175.79a2.25 2.25 0 1 0 4.5 0a2.25 2.25 0 1 0 -4.5 0M106.96 222.4a2.25 2.25 0 1 0 4.5 0a2.25 2.25 0 1 0 -4.5 0M170.08 152.86a2.25 2.25 0 1 0 4.5 0a2.25 2.25 0 1 0 -4.5 0M133.88 223.23a2.25 2.25 0 1 0 4.5 0a2.25 2.25 0 1 0 -4.5 0M161.64 157.82a2.25 2.25 0 1 0 4.5 0a2.25 2.25 0 1 0 -4.5 0M242.1 110.9a2.25 2.25 0 1 0 4.5 0a2.25 2.25 0 1 0 -4.5 0M251.87 158.87a2.25 2.25 0 1 0 4.5 0a2.25 2.25 0 1 0 -4.5 0M224.04 173.27a2.25 2.25 0 1 0 4.5 0a2.25 2.25 0 1 0 -4.5 0M281.74 131.29a2.25 2.25 0 1 0 4.5 0a2.25 2.25 0 1 0 -4.5 0M155.72 218.39a2.25 2.25 0 1 0 4.5 0a2.25 2.25 0 1 0 -4.5 0M180.78 195.93a2.25 2.25 0 1 0 4.5 0a2.25 2.25 0 1 0 -4.5 0M282.47 130.27a2.25 2.25 0 1 0 4.5 0a2.25 2.25 0 1 0 -4.5 0M156.76 211.66a2.25 2.25 0 1 0 4.5 0a2.25 2.25 0 1 0 -4.5 0M95.1 223.07a2.25 2.25 0 1 0 4.5 0a2.25 2.25 0 1 0 -4.5 0M141.41 177.28a2.25 2.25 0 1 0 4.5 0a2.25 2.25 0 1 0 -4.5 0M301.28 108.73a2.25 2.25 0 1 0 4.5 0a2.25 2.25 0 1 0 -4.5 0M180.96 197.85a2.25 2.25 0 1 0 4.5 0a2.25 2.25 0 1 0 -4.5 0M219.13 174.24a2.25 2.25 0 1 0 4.5 0a2.25 2.25 0 1 0 -4.5 0M110.94 211.02a2.25 2.25 0 1 0 4.5 0a2.25 2.25 0 1 0 -4.5 0M152.76 171.38a2.25 2.25 0 1 0 4.5 0a2.25 2.25 0 1 0 -4.5 0M131.77 222.68a2.25 2.25 0 1 0 4.5 0a2.25 2.25 0 1 0 -4.5 0M300.43 111.49a2.25 2.25 0 1 0 4.5 0a2.25 2.25 0 1 0 -4.5 0M189.49 140.46a2.25 2.25 0 1 0 4.5 0a2.25 2.25 0 1 0 -4.5 0M170.75 150.4a2.25 2.25 0 1 0 4.5 0a2.25 2.25 0 1 0 -4.5 0M195.47 195.33a2.25 2.25 0 1 0 4.5 0a2.25 2.25 0 1 0 -4.5 0M211.77 180.72a2.25 2.25 0 1 0 4.5 0a2.25 2.25 0 1 0 -4.5 0M205.76 121.28a2.25 2.25 0 1 0 4.5 0a2.25 2.25 0 1 0 -4.5 0M214.3 127.24a2.25 2.25 0 1 0 4.5 0a2.25 2.25 0 1 0 -4.5 0M213.29 184.77a2.25 2.25 0 1 0 4.5 0a2.25 2.25 0 1 0 -4.5 0M160.55 151.24a2.25 2.25 0 1 0 4.5 0a2.25 2.25 0 1 0 -4.5 0M109.4 224.7a2.25 2.25 0 1 0 4.5 0a2.25 2.25 0 1 0 -4.5 0M92.05 219.41a2.25 2.25 0 1 0 4.5 0a2.25 2.25 0 1 0 -4.5 0M205.5 185.46a2.25 2.25 0 1 0 4.5 0a2.25 2.25 0 1 0 -4.5 0M209.78 183.71a2.25 2.25 0 1 0 4.5 0a2.25 2.25 0 1 0 -4.5 0M156.66 165.83a2.25 2.25 0 1 0 4.5 0a2.25 2.25 0 1 0 -4.5 0M265.31 109.96a2.25 2.25 0 1 0 4.5 0a2.25 2.25 0 1 0 -4.5 0M252.75 106.82a2.25 2.25 0 1 0 4.5 0a2.25 2.25 0 1 0 -4.5 0M110.31 212.73a2.25 2.25 0 1 0 4.5 0a2.25 2.25 0 1 0 -4.5 0M157.78 213.72a2.25 2.25 0 1 0 4.5 0a2.25 2.25 0 1 0 -4.5 0M102.15 217.95a2.25 2.25 0 1 0 4.5 0a2.25 2.25 0 1 0 -4.5 0M148.85 221a2.25 2.25 0 1 0 4.5 0a2.25 2.25 0 1 0 -4.5 0M151.82 170.19a2.25 2.25 0 1 0 4.5 0a2.25 2.25 0 1 0 -4.5 0M289.29 124.76a2.25 2.25 0 1 0 4.5 0a2.25 2.25 0 1 0 -4.5 0M274.25 108.58a2.25 2.25 0 1 0 4.5 0a2.25 2.25 0 1 0 -4.5 0M134.37 219.84a2.25 2.25 0 1 0 4.5 0a2.25 2.25 0 1 0 -4.5 0M296.91 119.72a2.25 2.25 0 1 0 4.5 0a2.25 2.25 0 1 0 -4.5 0M231.42 114.56a2.25 2.25 0 1 0 4.5 0a2.25 2.25 0 1 0 -4.5 0M211.78 178.54a2.25 2.25 0 1 0 4.5 0a2.25 2.25 0 1 0 -4.5 0M243.26 166.08a2.25 2.25 0 1 0 4.5 0a2.25 2.25 0 1 0 -4.5 0M155.08 213.34a2.25 2.25 0 1 0 4.5 0a2.25 2.25 0 1 0 -4.5 0M280.08 137a2.25 2.25 0 1 0 4.5 0a2.25 2.25 0 1 0 -4.5 0M249.31 109.93a2.25 2.25 0 1 0 4.5 0a2.25 2.25 0 1 0 -4.5 0M118.06 203.68a2.25 2.25 0 1 0 4.5 0a2.25 2.25 0 1 0 -4.5 0M224.31 125.41a2.25 2.25 0 1 0 4.5 0a2.25 2.25 0 1 0 -4.5 0M243.34 162.35a2.25 2.25 0 1 0 4.5 0a2.25 2.25 0 1 0 -4.5 0M125.92 222.52a2.25 2.25 0 1 0 4.5 0a2.25 2.25 0 1 0 -4.5 0M186.21 139.21a2.25 2.25 0 1 0 4.5 0a2.25 2.25 0 1 0 -4.5 0M188.68 141.91a2.25 2.25 0 1 0 4.5 0a2.25 2.25 0 1 0 -4.5 0M221.5 120.97a2.25 2.25 0 1 0 4.5 0a2.25 2.25 0 1 0 -4.5 0M192.09 192.91a2.25 2.25 0 1 0 4.5 0a2.25 2.25 0 1 0 -4.5 0M276.83 142.67a2.25 2.25 0 1 0 4.5 0a2.25 2.25 0 1 0 -4.5 0M262.99 149.25a2.25 2.25 0 1 0 4.5 0a2.25 2.25 0 1 0 -4.5 0M174.95 148.48a2.25 2.25 0 1 0 4.5 0a2.25 2.25 0 1 0 -4.5 0M226.19 120.66a2.25 2.25 0 1 0 4.5 0a2.25 2.25 0 1 0 -4.5 0M158.93 163.46a2.25 2.25 0 1 0 4.5 0a2.25 2.25 0 1 0 -4.5 0M100.64 218.1a2.25 2.25 0 1 0 4.5 0a2.25 2.25 0 1 0 -4.5 0M285.83 127.46a2.25 2.25 0 1 0 4.5 0a2.25 2.25 0 1 0 -4.5 0M154.93 216.87a2.25 2.25 0 1 0 4.5 0a2.25 2.25 0 1 0 -4.5 0M256.05 151.65a2.25 2.25 0 1 0 4.5 0a2.25 2.25 0 1 0 -4.5 0M280.93 136.96a2.25 2.25 0 1 0 4.5 0a2.25 2.25 0 1 0 -4.5 0M229.45 170.58a2.25 2.25 0 1 0 4.5 0a2.25 2.25 0 1 0 -4.5 0M102.97 220.73a2.25 2.25 0 1 0 4.5 0a2.25 2.25 0 1 0 -4.5 0M277.29 108.84a2.25 2.25 0 1 0 4.5 0a2.25 2.25 0 1 0 -4.5 0M165.03 209.4a2.25 2.25 0 1 0 4.5 0a2.25 2.25 0 1 0 -4.5 0M159.04 216.25a2.25 2.25 0 1 0 4.5 0a2.25 2.25 0 1 0 -4.5 0M211.26 126.71a2.25 2.25 0 1 0 4.5 0a2.25 2.25 0 1 0 -4.5 0M262.13 151.6a2.25 2.25 0 1 0 4.5 0a2.25 2.25 0 1 0 -4.5 0M111.53 204.87a2.25 2.25 0 1 0 4.5 0a2.25 2.25 0 1 0 -4.5 0M191.59 193.06a2.25 2.25 0 1 0 4.5 0a2.25 2.25 0 1 0 -4.5 0M192.72 140.6a2.25 2.25 0 1 0 4.5 0a2.25 2.25 0 1 0 -4.5 0M133.75 225.25a2.25 2.25 0 1 0 4.5 0a2.25 2.25 0 1 0 -4.5 0M111.79 213.23a2.25 2.25 0 1 0 4.5 0a2.25 2.25 0 1 0 -4.5 0M144.07 174.45a2.25 2.25 0 1 0 4.5 0a2.25 2.25 0 1 0 -4.5 0M133.29 181.22a2.25 2.25 0 1 0 4.5 0a2.25 2.25 0 1 0 -4.5 0M282.12 124.85a2.25 2.25 0 1 0 4.5 0a2.25 2.25 0 1 0 -4.5 0M257.99 110.06a2.25 2.25 0 1 0 4.5 0a2.25 2.25 0 1 0 -4.5 0M208.17 187.79a2.25 2.25 0 1 0 4.5 0a2.25 2.25 0 1 0 -4.5 0M221.59 125.75a2.25 2.25 0 1 0 4.5 0a2.25 2.25 0 1 0 -4.5 0M278.45 133.79a2.25 2.25 0 1 0 4.5 0a2.25 2.25 0 1 0 -4.5 0M251.22 160.94a2.25 2.25 0 1 0 4.5 0a2.25 2.25 0 1 0 -4.5 0M116.98 203.22a2.25 2.25 0 1 0 4.5 0a2.25 2.25 0 1 0 -4.5 0M208.06 129.46a2.25 2.25 0 1 0 4.5 0a2.25 2.25 0 1 0 -4.5 0M279.34 138.03a2.25 2.25 0 1 0 4.5 0a2.25 2.25 0 1 0 -4.5 0M236.03 114.13a2.25 2.25 0 1 0 4.5 0a2.25 2.25 0 1 0 -4.5 0M198.64 188.68a2.25 2.25 0 1 0 4.5 0a2.25 2.25 0 1 0 -4.5 0M99.93 212.94a2.25 2.25 0 1 0 4.5 0a2.25 2.25 0 1 0 -4.5 0M140.63 218.53a2.25 2.25 0 1 0 4.5 0a2.25 2.25 0 1 0 -4.5 0M115.49 207.88a2.25 2.25 0 1 0 4.5 0a2.25 2.25 0 1 0 -4.5 0M207.96 190.47a2.25 2.25 0 1 0 4.5 0a2.25 2.25 0 1 0 -4.5 0M220.18 128.31a2.25 2.25 0 1 0 4.5 0a2.25 2.25 0 1 0 -4.5 0M253.02 112.64a2.25 2.25 0 1 0 4.5 0a2.25 2.25 0 1 0 -4.5 0M106.13 216.75a2.25 2.25 0 1 0 4.5 0a2.25 2.25 0 1 0 -4.5 0M156.42 213.82a2.25 2.25 0 1 0 4.5 0a2.25 2.25 0 1 0 -4.5 0M198.87 196.18a2.25 2.25 0 1 0 4.5 0a2.25 2.25 0 1 0 -4.5 0M284.27 105.12a2.25 2.25 0 1 0 4.5 0a2.25 2.25 0 1 0 -4.5 0M116.95 226.8a2.25 2.25 0 1 0 4.5 0a2.25 2.25 0 1 0 -4.5 0M137.51 182.99a2.25 2.25 0 1 0 4.5 0a2.25 2.25 0 1 0 -4.5 0M207.26 181.21a2.25 2.25 0 1 0 4.5 0a2.25 2.25 0 1 0 -4.5 0M181.26 141.52a2.25 2.25 0 1 0 4.5 0a2.25 2.25 0 1 0 -4.5 0M211.18 127.2a2.25 2.25 0 1 0 4.5 0a2.25 2.25 0 1 0 -4.5 0M97.83 217.47a2.25 2.25 0 1 0 4.5 0a2.25 2.25 0 1 0 -4.5 0M290.11 105.1a2.25 2.25 0 1 0 4.5 0a2.25 2.25 0 1 0 -4.5 0M96.35 223.7a2.25 2.25 0 1 0 4.5 0a2.25 2.25 0 1 0 -4.5 0M273.68 104.68a2.25 2.25 0 1 0 4.5 0a2.25 2.25 0 1 0 -4.5 0M224.03 118.91a2.25 2.25 0 1 0 4.5 0a2.25 2.25 0 1 0 -4.5 0M124.47 227.7a2.25 2.25 0 1 0 4.5 0a2.25 2.25 0 1 0 -4.5 0M129 190a2.25 2.25 0 1 0 4.5 0a2.25 2.25 0 1 0 -4.5 0M125.61 187.87a2.25 2.25 0 1 0 4.5 0a2.25 2.25 0 1 0 -4.5 0" fill="#b3dfe5"/>
<line x1="32.5" y1="263.79" x2="379.4" y2="60.27" stroke="#ff3030" stroke-width="0.8"/>
<rect x="32.5" y="47.3" width="346.9" height="221.9" fill="none" stroke="#606060" stroke-width="1.1"/>
<line x1="88.3" y1="269.2" x2="88.3" y2="273.8" stroke="#606060" stroke-width="1"/>
<text x="88.3" y="285.2" font-size="6.9" text-anchor="middle" fill="#222">50</text>
<line x1="175.8" y1="269.2" x2="175.8" y2="273.8" stroke="#606060" stroke-width="1"/>
<text x="175.8" y="285.2" font-size="6.9" text-anchor="middle" fill="#222">60</text>
<line x1="263.3" y1="269.2" x2="263.3" y2="273.8" stroke="#606060" stroke-width="1"/>
<text x="263.3" y="285.2" font-size="6.9" text-anchor="middle" fill="#222">70</text>
<line x1="350.8" y1="269.2" x2="350.8" y2="273.8" stroke="#606060" stroke-width="1"/>
<text x="350.8" y="285.2" font-size="6.9" text-anchor="middle" fill="#222">80</text>
<line x1="28" y1="235.6" x2="32.5" y2="235.6" stroke="#606060" stroke-width="1"/>
<text transform="translate(23.4 235.6) rotate(-90)" font-size="6.9" text-anchor="middle" fill="#222">50</text>
<line x1="28" y1="180.2" x2="32.5" y2="180.2" stroke="#606060" stroke-width="1"/>
<text transform="translate(23.4 180.2) rotate(-90)" font-size="6.9" text-anchor="middle" fill="#222">60</text>
<line x1="28" y1="124.8" x2="32.5" y2="124.8" stroke="#606060" stroke-width="1"/>
<text transform="translate(23.4 124.8) rotate(-90)" font-size="6.9" text-anchor="middle" fill="#222">70</text>
<line x1="28" y1="69.4" x2="32.5" y2="69.4" stroke="#606060" stroke-width="1"/>
<text transform="translate(23.4 69.4) rotate(-90)" font-size="6.9" text-anchor="middle" fill="#222">80</text>
<text x="185.7" y="301.2" font-size="7.1" textLength="40.4" lengthAdjust="spacingAndGlyphs" fill="#222">VA by cfPWV</text>
<text transform="translate(6.6 175.9) rotate(-90)" font-size="7.1" textLength="41" lengthAdjust="spacingAndGlyphs" fill="#222">VA by baPWV</text>
<text x="50.3" y="60.5" font-size="7.4" textLength="58.8" lengthAdjust="spacingAndGlyphs" fill="#222">Correlation: 0.8984</text>
<text x="118.9" y="33.1" font-size="8.8" textLength="173.8" lengthAdjust="spacingAndGlyphs" fill="#222">Correlation Between VA by cfPWV and baPWV</text>
<text x="1" y="11.1" font-size="14.4" textLength="9.2" lengthAdjust="spacingAndGlyphs" fill="#4a4a4a">A</text>
<path d="M437.55 38V277M471 38V277M504.45 38V277M537.9 38V277M571.35 38V277M604.8 38V277M638.25 38V277M671.7 38V277M427.5 63.65H684M427.5 91H684M427.5 118.35H684M427.5 145.7H684M427.5 173.05H684M427.5 200.4H684M427.5 227.75H684M427.5 255.1H684" stroke="#ebebeb" stroke-width="1.1" fill="none"/>
<path d="M487.58 166.48 L491.63 167.17 L492.16 167.29 L492.67 167.46 L493.16 167.69 L493.63 167.98 L497.13 170.38 L497.51 170.67 L497.86 170.99 L498.18 171.35 L498.47 171.74 L498.71 172.15 L498.92 172.59 L499.08 173.04 L499.2 173.5 L499.92 177.04 L502.28 178.25 L502.67 178.47 L503.04 178.73 L507.69 182.29 L511.13 184.8 L517.8 184.8 L518.3 184.83 L518.8 184.9 L524.7 186.1 L525.3 186.26 L531.97 188.52 L539.82 189.65 L540.1 189.7 L545.08 190.71 L551.27 189.67 L551.82 189.61 L552.38 189.61 L552.93 189.67 L558.56 190.62 L558.75 190.56 L559.26 190.45 L559.79 190.4 L560.31 190.41 L560.83 190.47 L567.93 191.67 L568.39 191.77 L568.84 191.91 L569.28 192.1 L569.69 192.33 L570.09 192.59 L572.72 194.55 L577.36 193.04 L577.86 192.91 L578.38 192.83 L578.9 192.8 L579.42 192.83 L579.94 192.91 L580.44 193.04 L587.19 195.23 L593.93 196.37 L594.45 196.49 L594.96 196.66 L598.85 198.21 L599.38 197.94 L600.1 194.4 L600.23 193.91 L600.41 193.43 L600.63 192.97 L600.9 192.54 L601.22 192.13 L601.57 191.76 L601.96 191.43 L606.4 188.03 L610.86 183.56 L611.26 183.21 L611.7 182.89 L612.16 182.63 L615.45 180.98 L617.01 177.8 L617.26 177.35 L617.55 176.93 L617.89 176.54 L618.27 176.19 L618.68 175.87 L619.12 175.6 L619.58 175.38 L620.07 175.21 L620.57 175.09 L623.16 174.6 L622.98 174.32 L622.75 173.88 L622.57 173.41 L622.43 172.94 L622.34 172.44 L622.3 171.95 L622.31 171.45 L622.37 170.95 L622.48 170.47 L622.64 169.99 L622.84 169.54 L626.19 162.93 L626.99 159.8 L626.68 158.03 L623.89 154.29 L623.65 153.94 L623.45 153.57 L621.05 148.87 L620.85 148.44 L620.7 148 L620.59 147.54 L620.52 147.07 L620.5 146.6 L620.5 141.96 L620.21 137.53 L620.2 137.05 L620.24 136.57 L620.32 136.1 L620.45 135.64 L620.62 135.19 L620.83 134.77 L621.08 134.36 L621.37 133.98 L621.7 133.63 L622.05 133.31 L622.44 133.03 L625.19 131.21 L624.44 130.49 L621.27 128.32 L620.86 128.01 L620.49 127.66 L620.15 127.27 L619.86 126.85 L619.61 126.4 L619.41 125.93 L619.26 125.44 L618.06 120.74 L617.96 120.25 L617.91 119.75 L617.91 119.26 L617.95 118.76 L618.05 118.27 L618.2 117.8 L618.32 117.51 L618.25 117.49 L617.81 117.3 L617.4 117.07 L617 116.8 L612.21 113.21 L607.51 109.71 L607.46 109.67 L602.76 106.07 L602.4 105.76 L602.06 105.42 L601.76 105.05 L601.5 104.65 L601.28 104.23 L601.1 103.79 L600.96 103.34 L599.76 98.64 L599.67 98.23 L599.64 98 L599.35 98.06 L598.86 98.1 L598.36 98.09 L597.87 98.03 L591.8 97 L588.01 97.95 L587.5 98.05 L586.97 98.1 L586.45 98.09 L585.93 98.02 L585.41 97.9 L584.92 97.73 L579.05 95.35 L574.85 93.71 L572.55 94.46 L572.08 94.58 L571.61 94.66 L571.13 94.7 L570.64 94.69 L570.17 94.63 L564.11 93.61 L560.44 94.54 L560.32 94.57 L555.52 95.67 L555.23 95.73 L548.54 96.86 L546.19 97.67 L542.14 100.77 L541.75 101.04 L541.34 101.27 L540.9 101.46 L540.45 101.61 L539.99 101.72 L539.52 101.78 L539.04 101.8 L538.57 101.77 L538.1 101.7 L537.64 101.58 L535.37 100.89 L527.9 102.78 L521.94 106.22 L521.93 106.23 L521.97 106.44 L522 106.94 L521.98 107.43 L521.91 107.93 L521.8 108.41 L521.63 108.88 L521.42 109.33 L521.17 109.76 L520.87 110.16 L520.54 110.53 L520.17 110.86 L519.77 111.16 L514.71 114.54 L512.57 118.1 L509.74 126.58 L509.58 127.01 L509.38 127.42 L509.14 127.81 L508.86 128.18 L508.55 128.52 L508.22 128.83 L496.32 138.83 L495.86 139.17 L495.37 139.45 L491.27 141.55 L489.65 143.03 L489.56 143.56 L489.94 146.24 L490.93 152.18 L490.98 152.59 L491 153 L491 159 L490.98 159.46 L490.91 159.92 L490.81 160.37 L490.66 160.81 L490.47 161.24 L488.47 165.24 L488.24 165.65 L487.97 166.03 L487.67 166.39 L487.58 166.48 Z" fill="#b3dfe5"/>
<path d="M577.15 48.9a2.25 2.25 0 1 0 4.5 0a2.25 2.25 0 1 0 -4.5 0M566.65 57.1a2.25 2.25 0 1 0 4.5 0a2.25 2.25 0 1 0 -4.5 0M554.25 61a2.25 2.25 0 1 0 4.5 0a2.25 2.25 0 1 0 -4.5 0M541.45 63.4a2.25 2.25 0 1 0 4.5 0a2.25 2.25 0 1 0 -4.5 0M529.75 63.8a2.25 2.25 0 1 0 4.5 0a2.25 2.25 0 1 0 -4.5 0M528.05 66.9a2.25 2.25 0 1 0 4.5 0a2.25 2.25 0 1 0 -4.5 0M555.45 66.9a2.25 2.25 0 1 0 4.5 0a2.25 2.25 0 1 0 -4.5 0M556.55 69.2a2.25 2.25 0 1 0 4.5 0a2.25 2.25 0 1 0 -4.5 0M570.15 65.7a2.25 2.25 0 1 0 4.5 0a2.25 2.25 0 1 0 -4.5 0M571.05 70.4a2.25 2.25 0 1 0 4.5 0a2.25 2.25 0 1 0 -4.5 0M580.65 69.9a2.25 2.25 0 1 0 4.5 0a2.25 2.25 0 1 0 -4.5 0M540.25 72.7a2.25 2.25 0 1 0 4.5 0a2.25 2.25 0 1 0 -4.5 0M535.55 76.7a2.25 2.25 0 1 0 4.5 0a2.25 2.25 0 1 0 -4.5 0M551.45 76.2a2.25 2.25 0 1 0 4.5 0a2.25 2.25 0 1 0 -4.5 0M523.45 77.9a2.25 2.25 0 1 0 4.5 0a2.25 2.25 0 1 0 -4.5 0M526.65 77.9a2.25 2.25 0 1 0 4.5 0a2.25 2.25 0 1 0 -4.5 0M500.75 76.2a2.25 2.25 0 1 0 4.5 0a2.25 2.25 0 1 0 -4.5 0M489.35 89.1a2.25 2.25 0 1 0 4.5 0a2.25 2.25 0 1 0 -4.5 0M500.95 91.9a2.25 2.25 0 1 0 4.5 0a2.25 2.25 0 1 0 -4.5 0M508.75 95.4a2.25 2.25 0 1 0 4.5 0a2.25 2.25 0 1 0 -4.5 0M513.65 97a2.25 2.25 0 1 0 4.5 0a2.25 2.25 0 1 0 -4.5 0M498.15 97.2a2.25 2.25 0 1 0 4.5 0a2.25 2.25 0 1 0 -4.5 0M488.35 101.9a2.25 2.25 0 1 0 4.5 0a2.25 2.25 0 1 0 -4.5 0M490.75 109.6a2.25 2.25 0 1 0 4.5 0a2.25 2.25 0 1 0 -4.5 0M502.85 103.1a2.25 2.25 0 1 0 4.5 0a2.25 2.25 0 1 0 -4.5 0M525.05 89.1a2.25 2.25 0 1 0 4.5 0a2.25 2.25 0 1 0 -4.5 0M525.75 91.9a2.25 2.25 0 1 0 4.5 0a2.25 2.25 0 1 0 -4.5 0M531.55 92.6a2.25 2.25 0 1 0 4.5 0a2.25 2.25 0 1 0 -4.5 0M536.75 87.4a2.25 2.25 0 1 0 4.5 0a2.25 2.25 0 1 0 -4.5 0M542.55 82.5a2.25 2.25 0 1 0 4.5 0a2.25 2.25 0 1 0 -4.5 0M546.05 81.6a2.25 2.25 0 1 0 4.5 0a2.25 2.25 0 1 0 -4.5 0M551.95 84.4a2.25 2.25 0 1 0 4.5 0a2.25 2.25 0 1 0 -4.5 0M560.05 79.7a2.25 2.25 0 1 0 4.5 0a2.25 2.25 0 1 0 -4.5 0M567.15 77.4a2.25 2.25 0 1 0 4.5 0a2.25 2.25 0 1 0 -4.5 0M573.45 81.6a2.25 2.25 0 1 0 4.5 0a2.25 2.25 0 1 0 -4.5 0M576.45 80.9a2.25 2.25 0 1 0 4.5 0a2.25 2.25 0 1 0 -4.5 0M582.75 77.4a2.25 2.25 0 1 0 4.5 0a2.25 2.25 0 1 0 -4.5 0M563.65 83.2a2.25 2.25 0 1 0 4.5 0a2.25 2.25 0 1 0 -4.5 0M529.25 64.5a2.25 2.25 0 1 0 4.5 0a2.25 2.25 0 1 0 -4.5 0M527.85 66.9a2.25 2.25 0 1 0 4.5 0a2.25 2.25 0 1 0 -4.5 0M570.15 65.2a2.25 2.25 0 1 0 4.5 0a2.25 2.25 0 1 0 -4.5 0M571.15 70.4a2.25 2.25 0 1 0 4.5 0a2.25 2.25 0 1 0 -4.5 0M580.75 69.9a2.25 2.25 0 1 0 4.5 0a2.25 2.25 0 1 0 -4.5 0M588.65 70.8a2.25 2.25 0 1 0 4.5 0a2.25 2.25 0 1 0 -4.5 0M594.75 72.7a2.25 2.25 0 1 0 4.5 0a2.25 2.25 0 1 0 -4.5 0M605.25 70.4a2.25 2.25 0 1 0 4.5 0a2.25 2.25 0 1 0 -4.5 0M616.25 70.4a2.25 2.25 0 1 0 4.5 0a2.25 2.25 0 1 0 -4.5 0M617.35 68a2.25 2.25 0 1 0 4.5 0a2.25 2.25 0 1 0 -4.5 0M623.25 62.2a2.25 2.25 0 1 0 4.5 0a2.25 2.25 0 1 0 -4.5 0M648.95 68a2.25 2.25 0 1 0 4.5 0a2.25 2.25 0 1 0 -4.5 0M662.95 72a2.25 2.25 0 1 0 4.5 0a2.25 2.25 0 1 0 -4.5 0M606.85 76.9a2.25 2.25 0 1 0 4.5 0a2.25 2.25 0 1 0 -4.5 0M609.15 85.1a2.25 2.25 0 1 0 4.5 0a2.25 2.25 0 1 0 -4.5 0M540.25 72.7a2.25 2.25 0 1 0 4.5 0a2.25 2.25 0 1 0 -4.5 0M536.35 76.7a2.25 2.25 0 1 0 4.5 0a2.25 2.25 0 1 0 -4.5 0M551.25 76.2a2.25 2.25 0 1 0 4.5 0a2.25 2.25 0 1 0 -4.5 0M526.25 77.4a2.25 2.25 0 1 0 4.5 0a2.25 2.25 0 1 0 -4.5 0M523.95 77.9a2.25 2.25 0 1 0 4.5 0a2.25 2.25 0 1 0 -4.5 0M583.45 76.2a2.25 2.25 0 1 0 4.5 0a2.25 2.25 0 1 0 -4.5 0M584.65 79.7a2.25 2.25 0 1 0 4.5 0a2.25 2.25 0 1 0 -4.5 0M589.35 77.4a2.25 2.25 0 1 0 4.5 0a2.25 2.25 0 1 0 -4.5 0M594.75 77.4a2.25 2.25 0 1 0 4.5 0a2.25 2.25 0 1 0 -4.5 0M595.15 80.9a2.25 2.25 0 1 0 4.5 0a2.25 2.25 0 1 0 -4.5 0M568.35 77.4a2.25 2.25 0 1 0 4.5 0a2.25 2.25 0 1 0 -4.5 0M560.15 80.9a2.25 2.25 0 1 0 4.5 0a2.25 2.25 0 1 0 -4.5 0M546.15 82.5a2.25 2.25 0 1 0 4.5 0a2.25 2.25 0 1 0 -4.5 0M542.65 82.1a2.25 2.25 0 1 0 4.5 0a2.25 2.25 0 1 0 -4.5 0M572.95 82.1a2.25 2.25 0 1 0 4.5 0a2.25 2.25 0 1 0 -4.5 0M578.35 81.6a2.25 2.25 0 1 0 4.5 0a2.25 2.25 0 1 0 -4.5 0M553.15 84.4a2.25 2.25 0 1 0 4.5 0a2.25 2.25 0 1 0 -4.5 0M525.55 90.2a2.25 2.25 0 1 0 4.5 0a2.25 2.25 0 1 0 -4.5 0M535.65 87.9a2.25 2.25 0 1 0 4.5 0a2.25 2.25 0 1 0 -4.5 0M608.05 90.9a2.25 2.25 0 1 0 4.5 0a2.25 2.25 0 1 0 -4.5 0M615.05 91.9a2.25 2.25 0 1 0 4.5 0a2.25 2.25 0 1 0 -4.5 0M620.85 91.9a2.25 2.25 0 1 0 4.5 0a2.25 2.25 0 1 0 -4.5 0M601.45 88.6a2.25 2.25 0 1 0 4.5 0a2.25 2.25 0 1 0 -4.5 0M637.25 92.6a2.25 2.25 0 1 0 4.5 0a2.25 2.25 0 1 0 -4.5 0M620.85 96.1a2.25 2.25 0 1 0 4.5 0a2.25 2.25 0 1 0 -4.5 0M611.55 98.4a2.25 2.25 0 1 0 4.5 0a2.25 2.25 0 1 0 -4.5 0M644.25 101.2a2.25 2.25 0 1 0 4.5 0a2.25 2.25 0 1 0 -4.5 0M636.05 108.9a2.25 2.25 0 1 0 4.5 0a2.25 2.25 0 1 0 -4.5 0M643.05 108.9a2.25 2.25 0 1 0 4.5 0a2.25 2.25 0 1 0 -4.5 0M627.85 106.1a2.25 2.25 0 1 0 4.5 0a2.25 2.25 0 1 0 -4.5 0M619.75 103.1a2.25 2.25 0 1 0 4.5 0a2.25 2.25 0 1 0 -4.5 0M623.25 107.8a2.25 2.25 0 1 0 4.5 0a2.25 2.25 0 1 0 -4.5 0M488.35 101.9a2.25 2.25 0 1 0 4.5 0a2.25 2.25 0 1 0 -4.5 0M502.85 103.5a2.25 2.25 0 1 0 4.5 0a2.25 2.25 0 1 0 -4.5 0M506.35 104.7a2.25 2.25 0 1 0 4.5 0a2.25 2.25 0 1 0 -4.5 0M491.15 110.5a2.25 2.25 0 1 0 4.5 0a2.25 2.25 0 1 0 -4.5 0M501.65 112.9a2.25 2.25 0 1 0 4.5 0a2.25 2.25 0 1 0 -4.5 0M499.35 115.2a2.25 2.25 0 1 0 4.5 0a2.25 2.25 0 1 0 -4.5 0M488.85 118.7a2.25 2.25 0 1 0 4.5 0a2.25 2.25 0 1 0 -4.5 0M494.65 121a2.25 2.25 0 1 0 4.5 0a2.25 2.25 0 1 0 -4.5 0M486.05 124.5a2.25 2.25 0 1 0 4.5 0a2.25 2.25 0 1 0 -4.5 0M482.95 129.2a2.25 2.25 0 1 0 4.5 0a2.25 2.25 0 1 0 -4.5 0M481.85 130.4a2.25 2.25 0 1 0 4.5 0a2.25 2.25 0 1 0 -4.5 0M484.15 133.9a2.25 2.25 0 1 0 4.5 0a2.25 2.25 0 1 0 -4.5 0M467.35 119.9a2.25 2.25 0 1 0 4.5 0a2.25 2.25 0 1 0 -4.5 0M467.35 138.1a2.25 2.25 0 1 0 4.5 0a2.25 2.25 0 1 0 -4.5 0M436.75 140.4a2.25 2.25 0 1 0 4.5 0a2.25 2.25 0 1 0 -4.5 0M478.35 140.2a2.25 2.25 0 1 0 4.5 0a2.25 2.25 0 1 0 -4.5 0M475.95 144.4a2.25 2.25 0 1 0 4.5 0a2.25 2.25 0 1 0 -4.5 0M466.65 154.9a2.25 2.25 0 1 0 4.5 0a2.25 2.25 0 1 0 -4.5 0M466.65 162.6a2.25 2.25 0 1 0 4.5 0a2.25 2.25 0 1 0 -4.5 0M479.05 157.9a2.25 2.25 0 1 0 4.5 0a2.25 2.25 0 1 0 -4.5 0M473.65 163.1a2.25 2.25 0 1 0 4.5 0a2.25 2.25 0 1 0 -4.5 0M612.75 104.7a2.25 2.25 0 1 0 4.5 0a2.25 2.25 0 1 0 -4.5 0M618.55 103.5a2.25 2.25 0 1 0 4.5 0a2.25 2.25 0 1 0 -4.5 0M623.25 102.3a2.25 2.25 0 1 0 4.5 0a2.25 2.25 0 1 0 -4.5 0M629.05 106.5a2.25 2.25 0 1 0 4.5 0a2.25 2.25 0 1 0 -4.5 0M636.05 108.9a2.25 2.25 0 1 0 4.5 0a2.25 2.25 0 1 0 -4.5 0M643.05 109.3a2.25 2.25 0 1 0 4.5 0a2.25 2.25 0 1 0 -4.5 0M651.25 112.9a2.25 2.25 0 1 0 4.5 0a2.25 2.25 0 1 0 -4.5 0M630.25 114.5a2.25 2.25 0 1 0 4.5 0a2.25 2.25 0 1 0 -4.5 0M622.05 116.4a2.25 2.25 0 1 0 4.5 0a2.25 2.25 0 1 0 -4.5 0M617.35 111.7a2.25 2.25 0 1 0 4.5 0a2.25 2.25 0 1 0 -4.5 0M623.25 118.7a2.25 2.25 0 1 0 4.5 0a2.25 2.25 0 1 0 -4.5 0M624.35 125.7a2.25 2.25 0 1 0 4.5 0a2.25 2.25 0 1 0 -4.5 0M637.25 123.4a2.25 2.25 0 1 0 4.5 0a2.25 2.25 0 1 0 -4.5 0M646.55 124.5a2.25 2.25 0 1 0 4.5 0a2.25 2.25 0 1 0 -4.5 0M653.55 126.2a2.25 2.25 0 1 0 4.5 0a2.25 2.25 0 1 0 -4.5 0M651.25 126.9a2.25 2.25 0 1 0 4.5 0a2.25 2.25 0 1 0 -4.5 0M655.95 133.4a2.25 2.25 0 1 0 4.5 0a2.25 2.25 0 1 0 -4.5 0M630.25 129.2a2.25 2.25 0 1 0 4.5 0a2.25 2.25 0 1 0 -4.5 0M620.85 136.2a2.25 2.25 0 1 0 4.5 0a2.25 2.25 0 1 0 -4.5 0M625.55 140.9a2.25 2.25 0 1 0 4.5 0a2.25 2.25 0 1 0 -4.5 0M618.55 146.7a2.25 2.25 0 1 0 4.5 0a2.25 2.25 0 1 0 -4.5 0M622.05 153.7a2.25 2.25 0 1 0 4.5 0a2.25 2.25 0 1 0 -4.5 0M632.55 153.7a2.25 2.25 0 1 0 4.5 0a2.25 2.25 0 1 0 -4.5 0M639.55 150.2a2.25 2.25 0 1 0 4.5 0a2.25 2.25 0 1 0 -4.5 0M644.25 140.9a2.25 2.25 0 1 0 4.5 0a2.25 2.25 0 1 0 -4.5 0M644.25 157.2a2.25 2.25 0 1 0 4.5 0a2.25 2.25 0 1 0 -4.5 0M638.45 156.1a2.25 2.25 0 1 0 4.5 0a2.25 2.25 0 1 0 -4.5 0M637.25 160.7a2.25 2.25 0 1 0 4.5 0a2.25 2.25 0 1 0 -4.5 0M650.05 162.6a2.25 2.25 0 1 0 4.5 0a2.25 2.25 0 1 0 -4.5 0M654.75 160.3a2.25 2.25 0 1 0 4.5 0a2.25 2.25 0 1 0 -4.5 0M669.95 154.4a2.25 2.25 0 1 0 4.5 0a2.25 2.25 0 1 0 -4.5 0M641.95 168.9a2.25 2.25 0 1 0 4.5 0a2.25 2.25 0 1 0 -4.5 0M657.05 168.9a2.25 2.25 0 1 0 4.5 0a2.25 2.25 0 1 0 -4.5 0M630.25 163.1a2.25 2.25 0 1 0 4.5 0a2.25 2.25 0 1 0 -4.5 0M625.55 167.8a2.25 2.25 0 1 0 4.5 0a2.25 2.25 0 1 0 -4.5 0M463.85 173.2a2.25 2.25 0 1 0 4.5 0a2.25 2.25 0 1 0 -4.5 0M469.65 173.2a2.25 2.25 0 1 0 4.5 0a2.25 2.25 0 1 0 -4.5 0M475.95 170.8a2.25 2.25 0 1 0 4.5 0a2.25 2.25 0 1 0 -4.5 0M484.85 182.5a2.25 2.25 0 1 0 4.5 0a2.25 2.25 0 1 0 -4.5 0M487.65 189.5a2.25 2.25 0 1 0 4.5 0a2.25 2.25 0 1 0 -4.5 0M491.15 190.7a2.25 2.25 0 1 0 4.5 0a2.25 2.25 0 1 0 -4.5 0M502.85 189.5a2.25 2.25 0 1 0 4.5 0a2.25 2.25 0 1 0 -4.5 0M493.55 196.1a2.25 2.25 0 1 0 4.5 0a2.25 2.25 0 1 0 -4.5 0M500.55 195.4a2.25 2.25 0 1 0 4.5 0a2.25 2.25 0 1 0 -4.5 0M507.05 195.4a2.25 2.25 0 1 0 4.5 0a2.25 2.25 0 1 0 -4.5 0M504.05 199.6a2.25 2.25 0 1 0 4.5 0a2.25 2.25 0 1 0 -4.5 0M509.85 201.2a2.25 2.25 0 1 0 4.5 0a2.25 2.25 0 1 0 -4.5 0M515.75 195.8a2.25 2.25 0 1 0 4.5 0a2.25 2.25 0 1 0 -4.5 0M521.55 196.5a2.25 2.25 0 1 0 4.5 0a2.25 2.25 0 1 0 -4.5 0M522.75 200a2.25 2.25 0 1 0 4.5 0a2.25 2.25 0 1 0 -4.5 0M528.55 201.2a2.25 2.25 0 1 0 4.5 0a2.25 2.25 0 1 0 -4.5 0M535.55 200a2.25 2.25 0 1 0 4.5 0a2.25 2.25 0 1 0 -4.5 0M540.25 200a2.25 2.25 0 1 0 4.5 0a2.25 2.25 0 1 0 -4.5 0M532.05 207.1a2.25 2.25 0 1 0 4.5 0a2.25 2.25 0 1 0 -4.5 0M537.85 204.7a2.25 2.25 0 1 0 4.5 0a2.25 2.25 0 1 0 -4.5 0M539.05 209.4a2.25 2.25 0 1 0 4.5 0a2.25 2.25 0 1 0 -4.5 0M528.55 211.7a2.25 2.25 0 1 0 4.5 0a2.25 2.25 0 1 0 -4.5 0M547.25 201.2a2.25 2.25 0 1 0 4.5 0a2.25 2.25 0 1 0 -4.5 0M553.05 200a2.25 2.25 0 1 0 4.5 0a2.25 2.25 0 1 0 -4.5 0M555.45 204.7a2.25 2.25 0 1 0 4.5 0a2.25 2.25 0 1 0 -4.5 0M561.25 204.7a2.25 2.25 0 1 0 4.5 0a2.25 2.25 0 1 0 -4.5 0M565.95 204.7a2.25 2.25 0 1 0 4.5 0a2.25 2.25 0 1 0 -4.5 0M569.45 208.2a2.25 2.25 0 1 0 4.5 0a2.25 2.25 0 1 0 -4.5 0M573.45 204.3a2.25 2.25 0 1 0 4.5 0a2.25 2.25 0 1 0 -4.5 0M579.45 206.6a2.25 2.25 0 1 0 4.5 0a2.25 2.25 0 1 0 -4.5 0M584.15 214.1a2.25 2.25 0 1 0 4.5 0a2.25 2.25 0 1 0 -4.5 0M486.95 204.3a2.25 2.25 0 1 0 4.5 0a2.25 2.25 0 1 0 -4.5 0M496.55 212.4a2.25 2.25 0 1 0 4.5 0a2.25 2.25 0 1 0 -4.5 0M507.95 212.4a2.25 2.25 0 1 0 4.5 0a2.25 2.25 0 1 0 -4.5 0M556.15 211.3a2.25 2.25 0 1 0 4.5 0a2.25 2.25 0 1 0 -4.5 0M547.75 217.6a2.25 2.25 0 1 0 4.5 0a2.25 2.25 0 1 0 -4.5 0M547.25 221.5a2.25 2.25 0 1 0 4.5 0a2.25 2.25 0 1 0 -4.5 0M555.45 218.7a2.25 2.25 0 1 0 4.5 0a2.25 2.25 0 1 0 -4.5 0M532.75 221.8a2.25 2.25 0 1 0 4.5 0a2.25 2.25 0 1 0 -4.5 0M543.75 230a2.25 2.25 0 1 0 4.5 0a2.25 2.25 0 1 0 -4.5 0M548.45 230a2.25 2.25 0 1 0 4.5 0a2.25 2.25 0 1 0 -4.5 0M577.15 224.6a2.25 2.25 0 1 0 4.5 0a2.25 2.25 0 1 0 -4.5 0M481.35 235.1a2.25 2.25 0 1 0 4.5 0a2.25 2.25 0 1 0 -4.5 0M527.85 211.7a2.25 2.25 0 1 0 4.5 0a2.25 2.25 0 1 0 -4.5 0M539.15 209.4a2.25 2.25 0 1 0 4.5 0a2.25 2.25 0 1 0 -4.5 0M556.65 211.7a2.25 2.25 0 1 0 4.5 0a2.25 2.25 0 1 0 -4.5 0M568.35 208.2a2.25 2.25 0 1 0 4.5 0a2.25 2.25 0 1 0 -4.5 0M573.65 204.7a2.25 2.25 0 1 0 4.5 0a2.25 2.25 0 1 0 -4.5 0M579.95 207.1a2.25 2.25 0 1 0 4.5 0a2.25 2.25 0 1 0 -4.5 0M585.35 207.1a2.25 2.25 0 1 0 4.5 0a2.25 2.25 0 1 0 -4.5 0M584.65 214.5a2.25 2.25 0 1 0 4.5 0a2.25 2.25 0 1 0 -4.5 0M592.85 204.7a2.25 2.25 0 1 0 4.5 0a2.25 2.25 0 1 0 -4.5 0M597.95 214.1a2.25 2.25 0 1 0 4.5 0a2.25 2.25 0 1 0 -4.5 0M603.35 218.7a2.25 2.25 0 1 0 4.5 0a2.25 2.25 0 1 0 -4.5 0M605.75 205.9a2.25 2.25 0 1 0 4.5 0a2.25 2.25 0 1 0 -4.5 0M611.05 210.6a2.25 2.25 0 1 0 4.5 0a2.25 2.25 0 1 0 -4.5 0M606.85 212.9a2.25 2.25 0 1 0 4.5 0a2.25 2.25 0 1 0 -4.5 0M617.35 200a2.25 2.25 0 1 0 4.5 0a2.25 2.25 0 1 0 -4.5 0M620.85 206.6a2.25 2.25 0 1 0 4.5 0a2.25 2.25 0 1 0 -4.5 0M629.05 210.6a2.25 2.25 0 1 0 4.5 0a2.25 2.25 0 1 0 -4.5 0M632.55 211.7a2.25 2.25 0 1 0 4.5 0a2.25 2.25 0 1 0 -4.5 0M646.15 212.9a2.25 2.25 0 1 0 4.5 0a2.25 2.25 0 1 0 -4.5 0M657.05 212.9a2.25 2.25 0 1 0 4.5 0a2.25 2.25 0 1 0 -4.5 0M619.75 221.1a2.25 2.25 0 1 0 4.5 0a2.25 2.25 0 1 0 -4.5 0M633.75 207.1a2.25 2.25 0 1 0 4.5 0a2.25 2.25 0 1 0 -4.5 0M532.55 221.5a2.25 2.25 0 1 0 4.5 0a2.25 2.25 0 1 0 -4.5 0M598.65 228.1a2.25 2.25 0 1 0 4.5 0a2.25 2.25 0 1 0 -4.5 0M613.85 232.8a2.25 2.25 0 1 0 4.5 0a2.25 2.25 0 1 0 -4.5 0M625.55 174.8a2.25 2.25 0 1 0 4.5 0a2.25 2.25 0 1 0 -4.5 0M629.05 181.4a2.25 2.25 0 1 0 4.5 0a2.25 2.25 0 1 0 -4.5 0M636.05 181.4a2.25 2.25 0 1 0 4.5 0a2.25 2.25 0 1 0 -4.5 0M644.25 182.5a2.25 2.25 0 1 0 4.5 0a2.25 2.25 0 1 0 -4.5 0M650.05 182.5a2.25 2.25 0 1 0 4.5 0a2.25 2.25 0 1 0 -4.5 0M646.55 177.9a2.25 2.25 0 1 0 4.5 0a2.25 2.25 0 1 0 -4.5 0M650.05 174.3a2.25 2.25 0 1 0 4.5 0a2.25 2.25 0 1 0 -4.5 0M640.75 170.1a2.25 2.25 0 1 0 4.5 0a2.25 2.25 0 1 0 -4.5 0M657.05 167.8a2.25 2.25 0 1 0 4.5 0a2.25 2.25 0 1 0 -4.5 0M657.75 170.8a2.25 2.25 0 1 0 4.5 0a2.25 2.25 0 1 0 -4.5 0M668.05 185.6a2.25 2.25 0 1 0 4.5 0a2.25 2.25 0 1 0 -4.5 0M634.85 165a2.25 2.25 0 1 0 4.5 0a2.25 2.25 0 1 0 -4.5 0M629.05 174.3a2.25 2.25 0 1 0 4.5 0a2.25 2.25 0 1 0 -4.5 0M625.55 196.5a2.25 2.25 0 1 0 4.5 0a2.25 2.25 0 1 0 -4.5 0M626.75 202.4a2.25 2.25 0 1 0 4.5 0a2.25 2.25 0 1 0 -4.5 0M481.35 236.5a2.25 2.25 0 1 0 4.5 0a2.25 2.25 0 1 0 -4.5 0M481.75 266.1a2.25 2.25 0 1 0 4.5 0a2.25 2.25 0 1 0 -4.5 0M532.55 221.8a2.25 2.25 0 1 0 4.5 0a2.25 2.25 0 1 0 -4.5 0M547.55 217.9a2.25 2.25 0 1 0 4.5 0a2.25 2.25 0 1 0 -4.5 0M546.85 221.4a2.25 2.25 0 1 0 4.5 0a2.25 2.25 0 1 0 -4.5 0M555.05 218.9a2.25 2.25 0 1 0 4.5 0a2.25 2.25 0 1 0 -4.5 0M543.25 230.4a2.25 2.25 0 1 0 4.5 0a2.25 2.25 0 1 0 -4.5 0M548.65 230a2.25 2.25 0 1 0 4.5 0a2.25 2.25 0 1 0 -4.5 0M561.45 240a2.25 2.25 0 1 0 4.5 0a2.25 2.25 0 1 0 -4.5 0M570.05 252.6a2.25 2.25 0 1 0 4.5 0a2.25 2.25 0 1 0 -4.5 0M577.25 224.7a2.25 2.25 0 1 0 4.5 0a2.25 2.25 0 1 0 -4.5 0M584.35 215a2.25 2.25 0 1 0 4.5 0a2.25 2.25 0 1 0 -4.5 0M591.55 243.6a2.25 2.25 0 1 0 4.5 0a2.25 2.25 0 1 0 -4.5 0M598.75 228.2a2.25 2.25 0 1 0 4.5 0a2.25 2.25 0 1 0 -4.5 0M603.35 218.6a2.25 2.25 0 1 0 4.5 0a2.25 2.25 0 1 0 -4.5 0M597.95 215a2.25 2.25 0 1 0 4.5 0a2.25 2.25 0 1 0 -4.5 0M619.45 221.1a2.25 2.25 0 1 0 4.5 0a2.25 2.25 0 1 0 -4.5 0M613.75 232.2a2.25 2.25 0 1 0 4.5 0a2.25 2.25 0 1 0 -4.5 0M615.55 234.7a2.25 2.25 0 1 0 4.5 0a2.25 2.25 0 1 0 -4.5 0M623.05 249.7a2.25 2.25 0 1 0 4.5 0a2.25 2.25 0 1 0 -4.5 0M620.15 252.2a2.25 2.25 0 1 0 4.5 0a2.25 2.25 0 1 0 -4.5 0M613.05 257.6a2.25 2.25 0 1 0 4.5 0a2.25 2.25 0 1 0 -4.5 0M652.35 238.2a2.25 2.25 0 1 0 4.5 0a2.25 2.25 0 1 0 -4.5 0M650.55 241.8a2.25 2.25 0 1 0 4.5 0a2.25 2.25 0 1 0 -4.5 0M645.35 100.9a2.25 2.25 0 1 0 4.5 0a2.25 2.25 0 1 0 -4.5 0M628.75 106.2a2.25 2.25 0 1 0 4.5 0a2.25 2.25 0 1 0 -4.5 0M635.85 109a2.25 2.25 0 1 0 4.5 0a2.25 2.25 0 1 0 -4.5 0M642.95 109.2a2.25 2.25 0 1 0 4.5 0a2.25 2.25 0 1 0 -4.5 0M651.25 112.8a2.25 2.25 0 1 0 4.5 0a2.25 2.25 0 1 0 -4.5 0M630.55 114.5a2.25 2.25 0 1 0 4.5 0a2.25 2.25 0 1 0 -4.5 0M637.65 123.4a2.25 2.25 0 1 0 4.5 0a2.25 2.25 0 1 0 -4.5 0M645.95 124.3a2.25 2.25 0 1 0 4.5 0a2.25 2.25 0 1 0 -4.5 0M650.65 127a2.25 2.25 0 1 0 4.5 0a2.25 2.25 0 1 0 -4.5 0M654.25 126.4a2.25 2.25 0 1 0 4.5 0a2.25 2.25 0 1 0 -4.5 0M624.05 126.4a2.25 2.25 0 1 0 4.5 0a2.25 2.25 0 1 0 -4.5 0M631.15 128.7a2.25 2.25 0 1 0 4.5 0a2.25 2.25 0 1 0 -4.5 0M621.65 119.3a2.25 2.25 0 1 0 4.5 0a2.25 2.25 0 1 0 -4.5 0M619.95 95a2.25 2.25 0 1 0 4.5 0a2.25 2.25 0 1 0 -4.5 0M611.65 98.6a2.25 2.25 0 1 0 4.5 0a2.25 2.25 0 1 0 -4.5 0M489.45 88.9a2.25 2.25 0 1 0 4.5 0a2.25 2.25 0 1 0 -4.5 0M501.25 91.8a2.25 2.25 0 1 0 4.5 0a2.25 2.25 0 1 0 -4.5 0M498.25 97.2a2.25 2.25 0 1 0 4.5 0a2.25 2.25 0 1 0 -4.5 0M488.45 101.5a2.25 2.25 0 1 0 4.5 0a2.25 2.25 0 1 0 -4.5 0M490.85 110.4a2.25 2.25 0 1 0 4.5 0a2.25 2.25 0 1 0 -4.5 0M508.95 95.4a2.25 2.25 0 1 0 4.5 0a2.25 2.25 0 1 0 -4.5 0M513.95 96.6a2.25 2.25 0 1 0 4.5 0a2.25 2.25 0 1 0 -4.5 0M503.05 103.1a2.25 2.25 0 1 0 4.5 0a2.25 2.25 0 1 0 -4.5 0M506.85 105.4a2.25 2.25 0 1 0 4.5 0a2.25 2.25 0 1 0 -4.5 0M522.75 95.4a2.25 2.25 0 1 0 4.5 0a2.25 2.25 0 1 0 -4.5 0M525.75 88.9a2.25 2.25 0 1 0 4.5 0a2.25 2.25 0 1 0 -4.5 0M525.75 91.8a2.25 2.25 0 1 0 4.5 0a2.25 2.25 0 1 0 -4.5 0M531.65 93a2.25 2.25 0 1 0 4.5 0a2.25 2.25 0 1 0 -4.5 0M536.65 87.1a2.25 2.25 0 1 0 4.5 0a2.25 2.25 0 1 0 -4.5 0M542.35 82.4a2.25 2.25 0 1 0 4.5 0a2.25 2.25 0 1 0 -4.5 0M543.45 85.9a2.25 2.25 0 1 0 4.5 0a2.25 2.25 0 1 0 -4.5 0M466.95 138a2.25 2.25 0 1 0 4.5 0a2.25 2.25 0 1 0 -4.5 0M466.65 154.5a2.25 2.25 0 1 0 4.5 0a2.25 2.25 0 1 0 -4.5 0M466.65 162.2a2.25 2.25 0 1 0 4.5 0a2.25 2.25 0 1 0 -4.5 0M478.85 139.7a2.25 2.25 0 1 0 4.5 0a2.25 2.25 0 1 0 -4.5 0M478.85 158.1a2.25 2.25 0 1 0 4.5 0a2.25 2.25 0 1 0 -4.5 0M475.55 142.7a2.25 2.25 0 1 0 4.5 0a2.25 2.25 0 1 0 -4.5 0M463.65 173.3a2.25 2.25 0 1 0 4.5 0a2.25 2.25 0 1 0 -4.5 0M469.55 173.5a2.25 2.25 0 1 0 4.5 0a2.25 2.25 0 1 0 -4.5 0M476.05 170.3a2.25 2.25 0 1 0 4.5 0a2.25 2.25 0 1 0 -4.5 0M486.75 176.8a2.25 2.25 0 1 0 4.5 0a2.25 2.25 0 1 0 -4.5 0M484.95 182.8a2.25 2.25 0 1 0 4.5 0a2.25 2.25 0 1 0 -4.5 0M493.25 177.4a2.25 2.25 0 1 0 4.5 0a2.25 2.25 0 1 0 -4.5 0M488.55 189.9a2.25 2.25 0 1 0 4.5 0a2.25 2.25 0 1 0 -4.5 0M490.85 191a2.25 2.25 0 1 0 4.5 0a2.25 2.25 0 1 0 -4.5 0M493.85 196.4a2.25 2.25 0 1 0 4.5 0a2.25 2.25 0 1 0 -4.5 0M499.15 194.6a2.25 2.25 0 1 0 4.5 0a2.25 2.25 0 1 0 -4.5 0M502.75 188.7a2.25 2.25 0 1 0 4.5 0a2.25 2.25 0 1 0 -4.5 0M503.95 199.3a2.25 2.25 0 1 0 4.5 0a2.25 2.25 0 1 0 -4.5 0M507.45 195.8a2.25 2.25 0 1 0 4.5 0a2.25 2.25 0 1 0 -4.5 0M509.85 199.9a2.25 2.25 0 1 0 4.5 0a2.25 2.25 0 1 0 -4.5 0M515.75 195.8a2.25 2.25 0 1 0 4.5 0a2.25 2.25 0 1 0 -4.5 0M521.65 197a2.25 2.25 0 1 0 4.5 0a2.25 2.25 0 1 0 -4.5 0M528.75 199.3a2.25 2.25 0 1 0 4.5 0a2.25 2.25 0 1 0 -4.5 0M533.45 195.8a2.25 2.25 0 1 0 4.5 0a2.25 2.25 0 1 0 -4.5 0M669.85 154.2a2.25 2.25 0 1 0 4.5 0a2.25 2.25 0 1 0 -4.5 0M668.05 185.3a2.25 2.25 0 1 0 4.5 0a2.25 2.25 0 1 0 -4.5 0M502.45 199.3a2.25 2.25 0 1 0 4.5 0a2.25 2.25 0 1 0 -4.5 0M509.55 200.5a2.25 2.25 0 1 0 4.5 0a2.25 2.25 0 1 0 -4.5 0M507.25 195.8a2.25 2.25 0 1 0 4.5 0a2.25 2.25 0 1 0 -4.5 0M515.55 195.8a2.25 2.25 0 1 0 4.5 0a2.25 2.25 0 1 0 -4.5 0M521.45 199.9a2.25 2.25 0 1 0 4.5 0a2.25 2.25 0 1 0 -4.5 0M528.55 201.1a2.25 2.25 0 1 0 4.5 0a2.25 2.25 0 1 0 -4.5 0M530.85 204.6a2.25 2.25 0 1 0 4.5 0a2.25 2.25 0 1 0 -4.5 0M533.25 207a2.25 2.25 0 1 0 4.5 0a2.25 2.25 0 1 0 -4.5 0M536.85 202.3a2.25 2.25 0 1 0 4.5 0a2.25 2.25 0 1 0 -4.5 0M539.15 205.2a2.25 2.25 0 1 0 4.5 0a2.25 2.25 0 1 0 -4.5 0M538.55 209.4a2.25 2.25 0 1 0 4.5 0a2.25 2.25 0 1 0 -4.5 0M540.35 199.9a2.25 2.25 0 1 0 4.5 0a2.25 2.25 0 1 0 -4.5 0M547.45 201.7a2.25 2.25 0 1 0 4.5 0a2.25 2.25 0 1 0 -4.5 0M551.05 200.5a2.25 2.25 0 1 0 4.5 0a2.25 2.25 0 1 0 -4.5 0M554.55 203.4a2.25 2.25 0 1 0 4.5 0a2.25 2.25 0 1 0 -4.5 0M561.65 205.2a2.25 2.25 0 1 0 4.5 0a2.25 2.25 0 1 0 -4.5 0M568.75 208.2a2.25 2.25 0 1 0 4.5 0a2.25 2.25 0 1 0 -4.5 0M573.45 204.6a2.25 2.25 0 1 0 4.5 0a2.25 2.25 0 1 0 -4.5 0M555.75 211.1a2.25 2.25 0 1 0 4.5 0a2.25 2.25 0 1 0 -4.5 0M528.55 211.7a2.25 2.25 0 1 0 4.5 0a2.25 2.25 0 1 0 -4.5 0M507.85 212.3a2.25 2.25 0 1 0 4.5 0a2.25 2.25 0 1 0 -4.5 0M571.15 199.9a2.25 2.25 0 1 0 4.5 0a2.25 2.25 0 1 0 -4.5 0M560.15 204.9a2.25 2.25 0 1 0 4.5 0a2.25 2.25 0 1 0 -4.5 0M563.05 205.4a2.25 2.25 0 1 0 4.5 0a2.25 2.25 0 1 0 -4.5 0M568.95 208.4a2.25 2.25 0 1 0 4.5 0a2.25 2.25 0 1 0 -4.5 0M573.75 204.3a2.25 2.25 0 1 0 4.5 0a2.25 2.25 0 1 0 -4.5 0M579.65 206.6a2.25 2.25 0 1 0 4.5 0a2.25 2.25 0 1 0 -4.5 0M585.55 207.2a2.25 2.25 0 1 0 4.5 0a2.25 2.25 0 1 0 -4.5 0M593.25 205.4a2.25 2.25 0 1 0 4.5 0a2.25 2.25 0 1 0 -4.5 0M596.85 209.6a2.25 2.25 0 1 0 4.5 0a2.25 2.25 0 1 0 -4.5 0M599.15 207.8a2.25 2.25 0 1 0 4.5 0a2.25 2.25 0 1 0 -4.5 0M605.65 205.4a2.25 2.25 0 1 0 4.5 0a2.25 2.25 0 1 0 -4.5 0M605.05 209a2.25 2.25 0 1 0 4.5 0a2.25 2.25 0 1 0 -4.5 0M602.75 212a2.25 2.25 0 1 0 4.5 0a2.25 2.25 0 1 0 -4.5 0M611.05 210.8a2.25 2.25 0 1 0 4.5 0a2.25 2.25 0 1 0 -4.5 0M607.45 213.7a2.25 2.25 0 1 0 4.5 0a2.25 2.25 0 1 0 -4.5 0M597.95 214.3a2.25 2.25 0 1 0 4.5 0a2.25 2.25 0 1 0 -4.5 0M584.95 214.3a2.25 2.25 0 1 0 4.5 0a2.25 2.25 0 1 0 -4.5 0M616.95 200.7a2.25 2.25 0 1 0 4.5 0a2.25 2.25 0 1 0 -4.5 0M620.45 206a2.25 2.25 0 1 0 4.5 0a2.25 2.25 0 1 0 -4.5 0M624.05 200.1a2.25 2.25 0 1 0 4.5 0a2.25 2.25 0 1 0 -4.5 0M629.95 201.3a2.25 2.25 0 1 0 4.5 0a2.25 2.25 0 1 0 -4.5 0M633.45 207.2a2.25 2.25 0 1 0 4.5 0a2.25 2.25 0 1 0 -4.5 0M627.55 195.4a2.25 2.25 0 1 0 4.5 0a2.25 2.25 0 1 0 -4.5 0M629.95 185.9a2.25 2.25 0 1 0 4.5 0a2.25 2.25 0 1 0 -4.5 0M634.65 181.2a2.25 2.25 0 1 0 4.5 0a2.25 2.25 0 1 0 -4.5 0M631.15 182.4a2.25 2.25 0 1 0 4.5 0a2.25 2.25 0 1 0 -4.5 0M630.65 114.7a2.25 2.25 0 1 0 4.5 0a2.25 2.25 0 1 0 -4.5 0M636.55 123.6a2.25 2.25 0 1 0 4.5 0a2.25 2.25 0 1 0 -4.5 0M645.45 124.2a2.25 2.25 0 1 0 4.5 0a2.25 2.25 0 1 0 -4.5 0M651.35 126.6a2.25 2.25 0 1 0 4.5 0a2.25 2.25 0 1 0 -4.5 0M654.35 126a2.25 2.25 0 1 0 4.5 0a2.25 2.25 0 1 0 -4.5 0M656.15 133.1a2.25 2.25 0 1 0 4.5 0a2.25 2.25 0 1 0 -4.5 0M651.35 113a2.25 2.25 0 1 0 4.5 0a2.25 2.25 0 1 0 -4.5 0M643.15 110a2.25 2.25 0 1 0 4.5 0a2.25 2.25 0 1 0 -4.5 0M634.85 110a2.25 2.25 0 1 0 4.5 0a2.25 2.25 0 1 0 -4.5 0M644.25 139a2.25 2.25 0 1 0 4.5 0a2.25 2.25 0 1 0 -4.5 0M640.75 142a2.25 2.25 0 1 0 4.5 0a2.25 2.25 0 1 0 -4.5 0M610.65 84.4a2.25 2.25 0 1 0 4.5 0a2.25 2.25 0 1 0 -4.5 0M608.25 90.9a2.25 2.25 0 1 0 4.5 0a2.25 2.25 0 1 0 -4.5 0M612.95 91.5a2.25 2.25 0 1 0 4.5 0a2.25 2.25 0 1 0 -4.5 0M615.35 86.7a2.25 2.25 0 1 0 4.5 0a2.25 2.25 0 1 0 -4.5 0M622.45 90.9a2.25 2.25 0 1 0 4.5 0a2.25 2.25 0 1 0 -4.5 0M620.05 95.6a2.25 2.25 0 1 0 4.5 0a2.25 2.25 0 1 0 -4.5 0M611.85 98.6a2.25 2.25 0 1 0 4.5 0a2.25 2.25 0 1 0 -4.5 0M621.25 101.5a2.25 2.25 0 1 0 4.5 0a2.25 2.25 0 1 0 -4.5 0M626.05 105.1a2.25 2.25 0 1 0 4.5 0a2.25 2.25 0 1 0 -4.5 0M628.35 106.9a2.25 2.25 0 1 0 4.5 0a2.25 2.25 0 1 0 -4.5 0M630.75 114a2.25 2.25 0 1 0 4.5 0a2.25 2.25 0 1 0 -4.5 0M635.45 108.6a2.25 2.25 0 1 0 4.5 0a2.25 2.25 0 1 0 -4.5 0M642.55 109.2a2.25 2.25 0 1 0 4.5 0a2.25 2.25 0 1 0 -4.5 0M645.55 100.9a2.25 2.25 0 1 0 4.5 0a2.25 2.25 0 1 0 -4.5 0M639.05 92.7a2.25 2.25 0 1 0 4.5 0a2.25 2.25 0 1 0 -4.5 0M642.55 95a2.25 2.25 0 1 0 4.5 0a2.25 2.25 0 1 0 -4.5 0M650.85 113.4a2.25 2.25 0 1 0 4.5 0a2.25 2.25 0 1 0 -4.5 0M620.05 109.2a2.25 2.25 0 1 0 4.5 0a2.25 2.25 0 1 0 -4.5 0M622.45 111.6a2.25 2.25 0 1 0 4.5 0a2.25 2.25 0 1 0 -4.5 0M623.65 115.7a2.25 2.25 0 1 0 4.5 0a2.25 2.25 0 1 0 -4.5 0M634.55 162.4a2.25 2.25 0 1 0 4.5 0a2.25 2.25 0 1 0 -4.5 0M640.45 169.5a2.25 2.25 0 1 0 4.5 0a2.25 2.25 0 1 0 -4.5 0M648.75 163.6a2.25 2.25 0 1 0 4.5 0a2.25 2.25 0 1 0 -4.5 0M654.65 161.2a2.25 2.25 0 1 0 4.5 0a2.25 2.25 0 1 0 -4.5 0M655.85 169.5a2.25 2.25 0 1 0 4.5 0a2.25 2.25 0 1 0 -4.5 0M648.75 174.2a2.25 2.25 0 1 0 4.5 0a2.25 2.25 0 1 0 -4.5 0M646.35 177.8a2.25 2.25 0 1 0 4.5 0a2.25 2.25 0 1 0 -4.5 0M648.75 182.5a2.25 2.25 0 1 0 4.5 0a2.25 2.25 0 1 0 -4.5 0M644.05 181.9a2.25 2.25 0 1 0 4.5 0a2.25 2.25 0 1 0 -4.5 0M635.75 181.3a2.25 2.25 0 1 0 4.5 0a2.25 2.25 0 1 0 -4.5 0M628.65 181.3a2.25 2.25 0 1 0 4.5 0a2.25 2.25 0 1 0 -4.5 0M633.35 186a2.25 2.25 0 1 0 4.5 0a2.25 2.25 0 1 0 -4.5 0M639.25 165.9a2.25 2.25 0 1 0 4.5 0a2.25 2.25 0 1 0 -4.5 0M627.75 128a2.25 2.25 0 1 0 4.5 0a2.25 2.25 0 1 0 -4.5 0M631.75 131a2.25 2.25 0 1 0 4.5 0a2.25 2.25 0 1 0 -4.5 0M633.75 127a2.25 2.25 0 1 0 4.5 0a2.25 2.25 0 1 0 -4.5 0M630.75 136a2.25 2.25 0 1 0 4.5 0a2.25 2.25 0 1 0 -4.5 0M625.75 138a2.25 2.25 0 1 0 4.5 0a2.25 2.25 0 1 0 -4.5 0M625.56 161.99a2.25 2.25 0 1 0 4.5 0a2.25 2.25 0 1 0 -4.5 0M472.81 165.82a2.25 2.25 0 1 0 4.5 0a2.25 2.25 0 1 0 -4.5 0M553.7 191.82a2.25 2.25 0 1 0 4.5 0a2.25 2.25 0 1 0 -4.5 0M466.97 175.71a2.25 2.25 0 1 0 4.5 0a2.25 2.25 0 1 0 -4.5 0M507.17 186.57a2.25 2.25 0 1 0 4.5 0a2.25 2.25 0 1 0 -4.5 0M487.81 138.45a2.25 2.25 0 1 0 4.5 0a2.25 2.25 0 1 0 -4.5 0M566.41 195.42a2.25 2.25 0 1 0 4.5 0a2.25 2.25 0 1 0 -4.5 0M633.08 163.48a2.25 2.25 0 1 0 4.5 0a2.25 2.25 0 1 0 -4.5 0M495.97 185.38a2.25 2.25 0 1 0 4.5 0a2.25 2.25 0 1 0 -4.5 0M599.96 193.12a2.25 2.25 0 1 0 4.5 0a2.25 2.25 0 1 0 -4.5 0M556.53 199.67a2.25 2.25 0 1 0 4.5 0a2.25 2.25 0 1 0 -4.5 0M624.77 123.58a2.25 2.25 0 1 0 4.5 0a2.25 2.25 0 1 0 -4.5 0M506.21 125.71a2.25 2.25 0 1 0 4.5 0a2.25 2.25 0 1 0 -4.5 0M550.18 89.2a2.25 2.25 0 1 0 4.5 0a2.25 2.25 0 1 0 -4.5 0M581.53 194.6a2.25 2.25 0 1 0 4.5 0a2.25 2.25 0 1 0 -4.5 0M483.85 172.21a2.25 2.25 0 1 0 4.5 0a2.25 2.25 0 1 0 -4.5 0M621.43 109.12a2.25 2.25 0 1 0 4.5 0a2.25 2.25 0 1 0 -4.5 0M627.35 127.33a2.25 2.25 0 1 0 4.5 0a2.25 2.25 0 1 0 -4.5 0M566.72 90.14a2.25 2.25 0 1 0 4.5 0a2.25 2.25 0 1 0 -4.5 0M622.93 138.9a2.25 2.25 0 1 0 4.5 0a2.25 2.25 0 1 0 -4.5 0M531.56 189.6a2.25 2.25 0 1 0 4.5 0a2.25 2.25 0 1 0 -4.5 0M629.57 176.12a2.25 2.25 0 1 0 4.5 0a2.25 2.25 0 1 0 -4.5 0M559.07 84.03a2.25 2.25 0 1 0 4.5 0a2.25 2.25 0 1 0 -4.5 0M502.65 124.69a2.25 2.25 0 1 0 4.5 0a2.25 2.25 0 1 0 -4.5 0M608.08 105.95a2.25 2.25 0 1 0 4.5 0a2.25 2.25 0 1 0 -4.5 0M517.29 101.4a2.25 2.25 0 1 0 4.5 0a2.25 2.25 0 1 0 -4.5 0M509.01 114.62a2.25 2.25 0 1 0 4.5 0a2.25 2.25 0 1 0 -4.5 0M511.1 115.25a2.25 2.25 0 1 0 4.5 0a2.25 2.25 0 1 0 -4.5 0M486.05 171.18a2.25 2.25 0 1 0 4.5 0a2.25 2.25 0 1 0 -4.5 0M615.48 107.95a2.25 2.25 0 1 0 4.5 0a2.25 2.25 0 1 0 -4.5 0M480.97 145a2.25 2.25 0 1 0 4.5 0a2.25 2.25 0 1 0 -4.5 0M498.55 189.92a2.25 2.25 0 1 0 4.5 0a2.25 2.25 0 1 0 -4.5 0M477.63 169.41a2.25 2.25 0 1 0 4.5 0a2.25 2.25 0 1 0 -4.5 0M615.23 186.02a2.25 2.25 0 1 0 4.5 0a2.25 2.25 0 1 0 -4.5 0M532.9 96.79a2.25 2.25 0 1 0 4.5 0a2.25 2.25 0 1 0 -4.5 0M486.28 164.26a2.25 2.25 0 1 0 4.5 0a2.25 2.25 0 1 0 -4.5 0M558.87 191.47a2.25 2.25 0 1 0 4.5 0a2.25 2.25 0 1 0 -4.5 0M569.46 194.17a2.25 2.25 0 1 0 4.5 0a2.25 2.25 0 1 0 -4.5 0M541.4 190.7a2.25 2.25 0 1 0 4.5 0a2.25 2.25 0 1 0 -4.5 0M622.42 186.62a2.25 2.25 0 1 0 4.5 0a2.25 2.25 0 1 0 -4.5 0M572.66 196.16a2.25 2.25 0 1 0 4.5 0a2.25 2.25 0 1 0 -4.5 0M506.21 119.97a2.25 2.25 0 1 0 4.5 0a2.25 2.25 0 1 0 -4.5 0M614.82 107.29a2.25 2.25 0 1 0 4.5 0a2.25 2.25 0 1 0 -4.5 0M599.73 103.01a2.25 2.25 0 1 0 4.5 0a2.25 2.25 0 1 0 -4.5 0M505.09 188.52a2.25 2.25 0 1 0 4.5 0a2.25 2.25 0 1 0 -4.5 0M622.11 149.9a2.25 2.25 0 1 0 4.5 0a2.25 2.25 0 1 0 -4.5 0M620.64 108.91a2.25 2.25 0 1 0 4.5 0a2.25 2.25 0 1 0 -4.5 0M512.68 102.11a2.25 2.25 0 1 0 4.5 0a2.25 2.25 0 1 0 -4.5 0M532.66 194.37a2.25 2.25 0 1 0 4.5 0a2.25 2.25 0 1 0 -4.5 0M584.28 195.51a2.25 2.25 0 1 0 4.5 0a2.25 2.25 0 1 0 -4.5 0M572.79 88.99a2.25 2.25 0 1 0 4.5 0a2.25 2.25 0 1 0 -4.5 0M568.5 93.29a2.25 2.25 0 1 0 4.5 0a2.25 2.25 0 1 0 -4.5 0M602.57 94.98a2.25 2.25 0 1 0 4.5 0a2.25 2.25 0 1 0 -4.5 0M492.99 136.88a2.25 2.25 0 1 0 4.5 0a2.25 2.25 0 1 0 -4.5 0M566.03 200.03a2.25 2.25 0 1 0 4.5 0a2.25 2.25 0 1 0 -4.5 0M510.33 194.9a2.25 2.25 0 1 0 4.5 0a2.25 2.25 0 1 0 -4.5 0M509.29 190.82a2.25 2.25 0 1 0 4.5 0a2.25 2.25 0 1 0 -4.5 0M590.69 91.11a2.25 2.25 0 1 0 4.5 0a2.25 2.25 0 1 0 -4.5 0M627.94 128.22a2.25 2.25 0 1 0 4.5 0a2.25 2.25 0 1 0 -4.5 0M476.29 167.44a2.25 2.25 0 1 0 4.5 0a2.25 2.25 0 1 0 -4.5 0M498.33 178.89a2.25 2.25 0 1 0 4.5 0a2.25 2.25 0 1 0 -4.5 0M485.7 143.57a2.25 2.25 0 1 0 4.5 0a2.25 2.25 0 1 0 -4.5 0M580.27 96.45a2.25 2.25 0 1 0 4.5 0a2.25 2.25 0 1 0 -4.5 0M547.24 193.56a2.25 2.25 0 1 0 4.5 0a2.25 2.25 0 1 0 -4.5 0M626.33 163.55a2.25 2.25 0 1 0 4.5 0a2.25 2.25 0 1 0 -4.5 0M619.19 137.44a2.25 2.25 0 1 0 4.5 0a2.25 2.25 0 1 0 -4.5 0M616.22 106.5a2.25 2.25 0 1 0 4.5 0a2.25 2.25 0 1 0 -4.5 0M599.78 198.64a2.25 2.25 0 1 0 4.5 0a2.25 2.25 0 1 0 -4.5 0M514.12 104.43a2.25 2.25 0 1 0 4.5 0a2.25 2.25 0 1 0 -4.5 0M538.9 94.78a2.25 2.25 0 1 0 4.5 0a2.25 2.25 0 1 0 -4.5 0M549.37 91.96a2.25 2.25 0 1 0 4.5 0a2.25 2.25 0 1 0 -4.5 0M503.37 117.85a2.25 2.25 0 1 0 4.5 0a2.25 2.25 0 1 0 -4.5 0M526.95 199.97a2.25 2.25 0 1 0 4.5 0a2.25 2.25 0 1 0 -4.5 0M594.22 204.5a2.25 2.25 0 1 0 4.5 0a2.25 2.25 0 1 0 -4.5 0M606.54 192.27a2.25 2.25 0 1 0 4.5 0a2.25 2.25 0 1 0 -4.5 0M622.73 134.75a2.25 2.25 0 1 0 4.5 0a2.25 2.25 0 1 0 -4.5 0M541.21 93.43a2.25 2.25 0 1 0 4.5 0a2.25 2.25 0 1 0 -4.5 0M616.95 114.45a2.25 2.25 0 1 0 4.5 0a2.25 2.25 0 1 0 -4.5 0M630.29 150.45a2.25 2.25 0 1 0 4.5 0a2.25 2.25 0 1 0 -4.5 0M512.34 108.97a2.25 2.25 0 1 0 4.5 0a2.25 2.25 0 1 0 -4.5 0M588.2 200.87a2.25 2.25 0 1 0 4.5 0a2.25 2.25 0 1 0 -4.5 0M490.84 176.06a2.25 2.25 0 1 0 4.5 0a2.25 2.25 0 1 0 -4.5 0M512.99 185.68a2.25 2.25 0 1 0 4.5 0a2.25 2.25 0 1 0 -4.5 0M512.27 192.23a2.25 2.25 0 1 0 4.5 0a2.25 2.25 0 1 0 -4.5 0M600.3 204.54a2.25 2.25 0 1 0 4.5 0a2.25 2.25 0 1 0 -4.5 0M620.34 118.28a2.25 2.25 0 1 0 4.5 0a2.25 2.25 0 1 0 -4.5 0M545.88 89.71a2.25 2.25 0 1 0 4.5 0a2.25 2.25 0 1 0 -4.5 0M513.53 189.29a2.25 2.25 0 1 0 4.5 0a2.25 2.25 0 1 0 -4.5 0M628.43 160.95a2.25 2.25 0 1 0 4.5 0a2.25 2.25 0 1 0 -4.5 0M493.49 132.75a2.25 2.25 0 1 0 4.5 0a2.25 2.25 0 1 0 -4.5 0M609.72 106.8a2.25 2.25 0 1 0 4.5 0a2.25 2.25 0 1 0 -4.5 0M473.72 166.57a2.25 2.25 0 1 0 4.5 0a2.25 2.25 0 1 0 -4.5 0M610.44 190.54a2.25 2.25 0 1 0 4.5 0a2.25 2.25 0 1 0 -4.5 0M483.5 160.94a2.25 2.25 0 1 0 4.5 0a2.25 2.25 0 1 0 -4.5 0M582.3 87.14a2.25 2.25 0 1 0 4.5 0a2.25 2.25 0 1 0 -4.5 0M535.92 99.57a2.25 2.25 0 1 0 4.5 0a2.25 2.25 0 1 0 -4.5 0M621.74 151.41a2.25 2.25 0 1 0 4.5 0a2.25 2.25 0 1 0 -4.5 0M625.14 171.46a2.25 2.25 0 1 0 4.5 0a2.25 2.25 0 1 0 -4.5 0M497.99 179.19a2.25 2.25 0 1 0 4.5 0a2.25 2.25 0 1 0 -4.5 0M619.19 183.37a2.25 2.25 0 1 0 4.5 0a2.25 2.25 0 1 0 -4.5 0M506.99 113.17a2.25 2.25 0 1 0 4.5 0a2.25 2.25 0 1 0 -4.5 0M617.84 178.14a2.25 2.25 0 1 0 4.5 0a2.25 2.25 0 1 0 -4.5 0M602.68 103.56a2.25 2.25 0 1 0 4.5 0a2.25 2.25 0 1 0 -4.5 0M507.5 122.72a2.25 2.25 0 1 0 4.5 0a2.25 2.25 0 1 0 -4.5 0M519.73 103.06a2.25 2.25 0 1 0 4.5 0a2.25 2.25 0 1 0 -4.5 0M519.24 103.38a2.25 2.25 0 1 0 4.5 0a2.25 2.25 0 1 0 -4.5 0M619.22 179.24a2.25 2.25 0 1 0 4.5 0a2.25 2.25 0 1 0 -4.5 0M551.72 195.51a2.25 2.25 0 1 0 4.5 0a2.25 2.25 0 1 0 -4.5 0M611.84 182.22a2.25 2.25 0 1 0 4.5 0a2.25 2.25 0 1 0 -4.5 0M490.46 170.01a2.25 2.25 0 1 0 4.5 0a2.25 2.25 0 1 0 -4.5 0M615.99 117.04a2.25 2.25 0 1 0 4.5 0a2.25 2.25 0 1 0 -4.5 0M622.52 143.57a2.25 2.25 0 1 0 4.5 0a2.25 2.25 0 1 0 -4.5 0M513.15 192.15a2.25 2.25 0 1 0 4.5 0a2.25 2.25 0 1 0 -4.5 0M586.48 95.51a2.25 2.25 0 1 0 4.5 0a2.25 2.25 0 1 0 -4.5 0M558.33 200.87a2.25 2.25 0 1 0 4.5 0a2.25 2.25 0 1 0 -4.5 0M500.46 132.09a2.25 2.25 0 1 0 4.5 0a2.25 2.25 0 1 0 -4.5 0M552.95 90.2a2.25 2.25 0 1 0 4.5 0a2.25 2.25 0 1 0 -4.5 0M622.73 150.62a2.25 2.25 0 1 0 4.5 0a2.25 2.25 0 1 0 -4.5 0M498.82 179.79a2.25 2.25 0 1 0 4.5 0a2.25 2.25 0 1 0 -4.5 0M585.22 91.09a2.25 2.25 0 1 0 4.5 0a2.25 2.25 0 1 0 -4.5 0M602.49 102.66a2.25 2.25 0 1 0 4.5 0a2.25 2.25 0 1 0 -4.5 0M558.74 85.53a2.25 2.25 0 1 0 4.5 0a2.25 2.25 0 1 0 -4.5 0M502.6 118.79a2.25 2.25 0 1 0 4.5 0a2.25 2.25 0 1 0 -4.5 0M599.87 201.29a2.25 2.25 0 1 0 4.5 0a2.25 2.25 0 1 0 -4.5 0M477.36 163.84a2.25 2.25 0 1 0 4.5 0a2.25 2.25 0 1 0 -4.5 0M622.51 144.51a2.25 2.25 0 1 0 4.5 0a2.25 2.25 0 1 0 -4.5 0M512.12 188.42a2.25 2.25 0 1 0 4.5 0a2.25 2.25 0 1 0 -4.5 0M488.6 157.49a2.25 2.25 0 1 0 4.5 0a2.25 2.25 0 1 0 -4.5 0M622.67 115.78a2.25 2.25 0 1 0 4.5 0a2.25 2.25 0 1 0 -4.5 0M474.97 170.7a2.25 2.25 0 1 0 4.5 0a2.25 2.25 0 1 0 -4.5 0M496.92 179.63a2.25 2.25 0 1 0 4.5 0a2.25 2.25 0 1 0 -4.5 0M580.68 92.99a2.25 2.25 0 1 0 4.5 0a2.25 2.25 0 1 0 -4.5 0M625.79 182.37a2.25 2.25 0 1 0 4.5 0a2.25 2.25 0 1 0 -4.5 0M510.64 193.07a2.25 2.25 0 1 0 4.5 0a2.25 2.25 0 1 0 -4.5 0M547.19 92.84a2.25 2.25 0 1 0 4.5 0a2.25 2.25 0 1 0 -4.5 0M598.99 97.81a2.25 2.25 0 1 0 4.5 0a2.25 2.25 0 1 0 -4.5 0M576.78 200.66a2.25 2.25 0 1 0 4.5 0a2.25 2.25 0 1 0 -4.5 0M604.49 193.72a2.25 2.25 0 1 0 4.5 0a2.25 2.25 0 1 0 -4.5 0M600.43 191.51a2.25 2.25 0 1 0 4.5 0a2.25 2.25 0 1 0 -4.5 0M607.61 110.01a2.25 2.25 0 1 0 4.5 0a2.25 2.25 0 1 0 -4.5 0M516.8 191.49a2.25 2.25 0 1 0 4.5 0a2.25 2.25 0 1 0 -4.5 0M517.35 196.15a2.25 2.25 0 1 0 4.5 0a2.25 2.25 0 1 0 -4.5 0M592.67 95.12a2.25 2.25 0 1 0 4.5 0a2.25 2.25 0 1 0 -4.5 0M529.58 195.11a2.25 2.25 0 1 0 4.5 0a2.25 2.25 0 1 0 -4.5 0M626.91 168.18a2.25 2.25 0 1 0 4.5 0a2.25 2.25 0 1 0 -4.5 0M614.49 185.99a2.25 2.25 0 1 0 4.5 0a2.25 2.25 0 1 0 -4.5 0M483.06 155.74a2.25 2.25 0 1 0 4.5 0a2.25 2.25 0 1 0 -4.5 0M553.14 89.91a2.25 2.25 0 1 0 4.5 0a2.25 2.25 0 1 0 -4.5 0M622.12 154.28a2.25 2.25 0 1 0 4.5 0a2.25 2.25 0 1 0 -4.5 0M603.71 99.38a2.25 2.25 0 1 0 4.5 0a2.25 2.25 0 1 0 -4.5 0M623.73 123.31a2.25 2.25 0 1 0 4.5 0a2.25 2.25 0 1 0 -4.5 0M579.47 200.51a2.25 2.25 0 1 0 4.5 0a2.25 2.25 0 1 0 -4.5 0M527.69 199.42a2.25 2.25 0 1 0 4.5 0a2.25 2.25 0 1 0 -4.5 0M598.58 204.18a2.25 2.25 0 1 0 4.5 0a2.25 2.25 0 1 0 -4.5 0M559.46 193.44a2.25 2.25 0 1 0 4.5 0a2.25 2.25 0 1 0 -4.5 0M623.85 139.8a2.25 2.25 0 1 0 4.5 0a2.25 2.25 0 1 0 -4.5 0M501.02 114.66a2.25 2.25 0 1 0 4.5 0a2.25 2.25 0 1 0 -4.5 0M478.75 151.98a2.25 2.25 0 1 0 4.5 0a2.25 2.25 0 1 0 -4.5 0M585.27 97.44a2.25 2.25 0 1 0 4.5 0a2.25 2.25 0 1 0 -4.5 0M562.02 87.6a2.25 2.25 0 1 0 4.5 0a2.25 2.25 0 1 0 -4.5 0M578.57 89.08a2.25 2.25 0 1 0 4.5 0a2.25 2.25 0 1 0 -4.5 0M485.13 161.74a2.25 2.25 0 1 0 4.5 0a2.25 2.25 0 1 0 -4.5 0M627.82 123.09a2.25 2.25 0 1 0 4.5 0a2.25 2.25 0 1 0 -4.5 0M620.45 176.9a2.25 2.25 0 1 0 4.5 0a2.25 2.25 0 1 0 -4.5 0M533.64 99.28a2.25 2.25 0 1 0 4.5 0a2.25 2.25 0 1 0 -4.5 0M481.62 140.51a2.25 2.25 0 1 0 4.5 0a2.25 2.25 0 1 0 -4.5 0M564.79 197.29a2.25 2.25 0 1 0 4.5 0a2.25 2.25 0 1 0 -4.5 0M610.29 109.89a2.25 2.25 0 1 0 4.5 0a2.25 2.25 0 1 0 -4.5 0M545.19 190.65a2.25 2.25 0 1 0 4.5 0a2.25 2.25 0 1 0 -4.5 0M554.89 192.08a2.25 2.25 0 1 0 4.5 0a2.25 2.25 0 1 0 -4.5 0M627.47 177.27a2.25 2.25 0 1 0 4.5 0a2.25 2.25 0 1 0 -4.5 0M627.17 138.92a2.25 2.25 0 1 0 4.5 0a2.25 2.25 0 1 0 -4.5 0M599.53 101.95a2.25 2.25 0 1 0 4.5 0a2.25 2.25 0 1 0 -4.5 0M544.36 198.18a2.25 2.25 0 1 0 4.5 0a2.25 2.25 0 1 0 -4.5 0M525.12 191.51a2.25 2.25 0 1 0 4.5 0a2.25 2.25 0 1 0 -4.5 0M545.34 92.59a2.25 2.25 0 1 0 4.5 0a2.25 2.25 0 1 0 -4.5 0M486.03 153.51a2.25 2.25 0 1 0 4.5 0a2.25 2.25 0 1 0 -4.5 0M617.07 111.33a2.25 2.25 0 1 0 4.5 0a2.25 2.25 0 1 0 -4.5 0M603.5 106.4a2.25 2.25 0 1 0 4.5 0a2.25 2.25 0 1 0 -4.5 0M523.57 103.69a2.25 2.25 0 1 0 4.5 0a2.25 2.25 0 1 0 -4.5 0M476.16 169.1a2.25 2.25 0 1 0 4.5 0a2.25 2.25 0 1 0 -4.5 0M614.77 110.29a2.25 2.25 0 1 0 4.5 0a2.25 2.25 0 1 0 -4.5 0M624.73 173a2.25 2.25 0 1 0 4.5 0a2.25 2.25 0 1 0 -4.5 0M624.15 126.5a2.25 2.25 0 1 0 4.5 0a2.25 2.25 0 1 0 -4.5 0M501.27 128.02a2.25 2.25 0 1 0 4.5 0a2.25 2.25 0 1 0 -4.5 0M519.6 103.95a2.25 2.25 0 1 0 4.5 0a2.25 2.25 0 1 0 -4.5 0M608.33 185.08a2.25 2.25 0 1 0 4.5 0a2.25 2.25 0 1 0 -4.5 0M617.13 114.4a2.25 2.25 0 1 0 4.5 0a2.25 2.25 0 1 0 -4.5 0M545.18 194.67a2.25 2.25 0 1 0 4.5 0a2.25 2.25 0 1 0 -4.5 0M596.14 198.54a2.25 2.25 0 1 0 4.5 0a2.25 2.25 0 1 0 -4.5 0M537.43 101.27a2.25 2.25 0 1 0 4.5 0a2.25 2.25 0 1 0 -4.5 0M509.91 104.94a2.25 2.25 0 1 0 4.5 0a2.25 2.25 0 1 0 -4.5 0M538.6 192a2.25 2.25 0 1 0 4.5 0a2.25 2.25 0 1 0 -4.5 0M499.3 183.12a2.25 2.25 0 1 0 4.5 0a2.25 2.25 0 1 0 -4.5 0M492.55 169.08a2.25 2.25 0 1 0 4.5 0a2.25 2.25 0 1 0 -4.5 0M493.77 135.94a2.25 2.25 0 1 0 4.5 0a2.25 2.25 0 1 0 -4.5 0M624.43 163.56a2.25 2.25 0 1 0 4.5 0a2.25 2.25 0 1 0 -4.5 0M508.11 117.02a2.25 2.25 0 1 0 4.5 0a2.25 2.25 0 1 0 -4.5 0M519.17 107.18a2.25 2.25 0 1 0 4.5 0a2.25 2.25 0 1 0 -4.5 0M483.08 159.33a2.25 2.25 0 1 0 4.5 0a2.25 2.25 0 1 0 -4.5 0M506.23 118.32a2.25 2.25 0 1 0 4.5 0a2.25 2.25 0 1 0 -4.5 0M624.17 138.78a2.25 2.25 0 1 0 4.5 0a2.25 2.25 0 1 0 -4.5 0M468.8 171.03a2.25 2.25 0 1 0 4.5 0a2.25 2.25 0 1 0 -4.5 0M622.86 180.73a2.25 2.25 0 1 0 4.5 0a2.25 2.25 0 1 0 -4.5 0M596.14 96.94a2.25 2.25 0 1 0 4.5 0a2.25 2.25 0 1 0 -4.5 0M619.05 123.65a2.25 2.25 0 1 0 4.5 0a2.25 2.25 0 1 0 -4.5 0M618.93 143.15a2.25 2.25 0 1 0 4.5 0a2.25 2.25 0 1 0 -4.5 0M479.27 158.67a2.25 2.25 0 1 0 4.5 0a2.25 2.25 0 1 0 -4.5 0M506.36 125.25a2.25 2.25 0 1 0 4.5 0a2.25 2.25 0 1 0 -4.5 0M629.2 173.15a2.25 2.25 0 1 0 4.5 0a2.25 2.25 0 1 0 -4.5 0M586.79 201.3a2.25 2.25 0 1 0 4.5 0a2.25 2.25 0 1 0 -4.5 0M553.36 84.78a2.25 2.25 0 1 0 4.5 0a2.25 2.25 0 1 0 -4.5 0M624.2 140.92a2.25 2.25 0 1 0 4.5 0a2.25 2.25 0 1 0 -4.5 0M580.62 93.54a2.25 2.25 0 1 0 4.5 0a2.25 2.25 0 1 0 -4.5 0M518.71 106.78a2.25 2.25 0 1 0 4.5 0a2.25 2.25 0 1 0 -4.5 0M548.23 192.85a2.25 2.25 0 1 0 4.5 0a2.25 2.25 0 1 0 -4.5 0M599.66 202.74a2.25 2.25 0 1 0 4.5 0a2.25 2.25 0 1 0 -4.5 0M569.32 93.63a2.25 2.25 0 1 0 4.5 0a2.25 2.25 0 1 0 -4.5 0M618.27 143.48a2.25 2.25 0 1 0 4.5 0a2.25 2.25 0 1 0 -4.5 0M622.85 121.94a2.25 2.25 0 1 0 4.5 0a2.25 2.25 0 1 0 -4.5 0M561.2 195.72a2.25 2.25 0 1 0 4.5 0a2.25 2.25 0 1 0 -4.5 0M627.14 172.34a2.25 2.25 0 1 0 4.5 0a2.25 2.25 0 1 0 -4.5 0M578.42 92.15a2.25 2.25 0 1 0 4.5 0a2.25 2.25 0 1 0 -4.5 0M490.92 176.56a2.25 2.25 0 1 0 4.5 0a2.25 2.25 0 1 0 -4.5 0M604.18 91.43a2.25 2.25 0 1 0 4.5 0a2.25 2.25 0 1 0 -4.5 0M603.18 195.44a2.25 2.25 0 1 0 4.5 0a2.25 2.25 0 1 0 -4.5 0M481.74 163.48a2.25 2.25 0 1 0 4.5 0a2.25 2.25 0 1 0 -4.5 0M528 90.25a2.25 2.25 0 1 0 4.5 0a2.25 2.25 0 1 0 -4.5 0M564.01 194.31a2.25 2.25 0 1 0 4.5 0a2.25 2.25 0 1 0 -4.5 0M470.64 162.49a2.25 2.25 0 1 0 4.5 0a2.25 2.25 0 1 0 -4.5 0M531.62 194.39a2.25 2.25 0 1 0 4.5 0a2.25 2.25 0 1 0 -4.5 0M606.66 106.72a2.25 2.25 0 1 0 4.5 0a2.25 2.25 0 1 0 -4.5 0M579.4 94.86a2.25 2.25 0 1 0 4.5 0a2.25 2.25 0 1 0 -4.5 0M592.85 91.29a2.25 2.25 0 1 0 4.5 0a2.25 2.25 0 1 0 -4.5 0M617.1 181.39a2.25 2.25 0 1 0 4.5 0a2.25 2.25 0 1 0 -4.5 0M522.3 101.38a2.25 2.25 0 1 0 4.5 0a2.25 2.25 0 1 0 -4.5 0M575.43 88.63a2.25 2.25 0 1 0 4.5 0a2.25 2.25 0 1 0 -4.5 0M580.73 199.95a2.25 2.25 0 1 0 4.5 0a2.25 2.25 0 1 0 -4.5 0M511.18 190.36a2.25 2.25 0 1 0 4.5 0a2.25 2.25 0 1 0 -4.5 0M579.39 201.08a2.25 2.25 0 1 0 4.5 0a2.25 2.25 0 1 0 -4.5 0M622.37 121.46a2.25 2.25 0 1 0 4.5 0a2.25 2.25 0 1 0 -4.5 0M540.57 96.41a2.25 2.25 0 1 0 4.5 0a2.25 2.25 0 1 0 -4.5 0M558.44 92.37a2.25 2.25 0 1 0 4.5 0a2.25 2.25 0 1 0 -4.5 0M553.46 92.62a2.25 2.25 0 1 0 4.5 0a2.25 2.25 0 1 0 -4.5 0M544.48 94.41a2.25 2.25 0 1 0 4.5 0a2.25 2.25 0 1 0 -4.5 0M599.92 95.93a2.25 2.25 0 1 0 4.5 0a2.25 2.25 0 1 0 -4.5 0M575.04 88.62a2.25 2.25 0 1 0 4.5 0a2.25 2.25 0 1 0 -4.5 0M483.71 168.69a2.25 2.25 0 1 0 4.5 0a2.25 2.25 0 1 0 -4.5 0M510.84 108.21a2.25 2.25 0 1 0 4.5 0a2.25 2.25 0 1 0 -4.5 0M547.72 196.26a2.25 2.25 0 1 0 4.5 0a2.25 2.25 0 1 0 -4.5 0M514.45 102a2.25 2.25 0 1 0 4.5 0a2.25 2.25 0 1 0 -4.5 0M515.77 103.34a2.25 2.25 0 1 0 4.5 0a2.25 2.25 0 1 0 -4.5 0M618.78 183.97a2.25 2.25 0 1 0 4.5 0a2.25 2.25 0 1 0 -4.5 0M502.12 123.67a2.25 2.25 0 1 0 4.5 0a2.25 2.25 0 1 0 -4.5 0M593.35 95.06a2.25 2.25 0 1 0 4.5 0a2.25 2.25 0 1 0 -4.5 0M602.98 105.66a2.25 2.25 0 1 0 4.5 0a2.25 2.25 0 1 0 -4.5 0M613.63 114.41a2.25 2.25 0 1 0 4.5 0a2.25 2.25 0 1 0 -4.5 0M592.87 202.73a2.25 2.25 0 1 0 4.5 0a2.25 2.25 0 1 0 -4.5 0M493.4 169.99a2.25 2.25 0 1 0 4.5 0a2.25 2.25 0 1 0 -4.5 0M624.82 178.96a2.25 2.25 0 1 0 4.5 0a2.25 2.25 0 1 0 -4.5 0M613.75 182.46a2.25 2.25 0 1 0 4.5 0a2.25 2.25 0 1 0 -4.5 0M628.42 158.58a2.25 2.25 0 1 0 4.5 0a2.25 2.25 0 1 0 -4.5 0M631.12 164.24a2.25 2.25 0 1 0 4.5 0a2.25 2.25 0 1 0 -4.5 0M571.51 198.5a2.25 2.25 0 1 0 4.5 0a2.25 2.25 0 1 0 -4.5 0M489.53 138.9a2.25 2.25 0 1 0 4.5 0a2.25 2.25 0 1 0 -4.5 0M551.46 95.1a2.25 2.25 0 1 0 4.5 0a2.25 2.25 0 1 0 -4.5 0M578.64 91.18a2.25 2.25 0 1 0 4.5 0a2.25 2.25 0 1 0 -4.5 0M505.58 115.32a2.25 2.25 0 1 0 4.5 0a2.25 2.25 0 1 0 -4.5 0M605.37 102.31a2.25 2.25 0 1 0 4.5 0a2.25 2.25 0 1 0 -4.5 0M532.79 196.25a2.25 2.25 0 1 0 4.5 0a2.25 2.25 0 1 0 -4.5 0M502.07 188.95a2.25 2.25 0 1 0 4.5 0a2.25 2.25 0 1 0 -4.5 0M603.67 196.08a2.25 2.25 0 1 0 4.5 0a2.25 2.25 0 1 0 -4.5 0M518.78 188.73a2.25 2.25 0 1 0 4.5 0a2.25 2.25 0 1 0 -4.5 0M616.97 185.12a2.25 2.25 0 1 0 4.5 0a2.25 2.25 0 1 0 -4.5 0M600.22 91.06a2.25 2.25 0 1 0 4.5 0a2.25 2.25 0 1 0 -4.5 0M600.63 89.28a2.25 2.25 0 1 0 4.5 0a2.25 2.25 0 1 0 -4.5 0M625.48 162.66a2.25 2.25 0 1 0 4.5 0a2.25 2.25 0 1 0 -4.5 0M498.43 134.88a2.25 2.25 0 1 0 4.5 0a2.25 2.25 0 1 0 -4.5 0M598.54 195.89a2.25 2.25 0 1 0 4.5 0a2.25 2.25 0 1 0 -4.5 0M602.01 106.05a2.25 2.25 0 1 0 4.5 0a2.25 2.25 0 1 0 -4.5 0M555.29 88.71a2.25 2.25 0 1 0 4.5 0a2.25 2.25 0 1 0 -4.5 0M517.01 106.84a2.25 2.25 0 1 0 4.5 0a2.25 2.25 0 1 0 -4.5 0M556.03 195.52a2.25 2.25 0 1 0 4.5 0a2.25 2.25 0 1 0 -4.5 0M592.91 200.3a2.25 2.25 0 1 0 4.5 0a2.25 2.25 0 1 0 -4.5 0M620.69 141.51a2.25 2.25 0 1 0 4.5 0a2.25 2.25 0 1 0 -4.5 0M495.21 130.62a2.25 2.25 0 1 0 4.5 0a2.25 2.25 0 1 0 -4.5 0M473.08 171.04a2.25 2.25 0 1 0 4.5 0a2.25 2.25 0 1 0 -4.5 0M521.84 103.89a2.25 2.25 0 1 0 4.5 0a2.25 2.25 0 1 0 -4.5 0M569.28 90.67a2.25 2.25 0 1 0 4.5 0a2.25 2.25 0 1 0 -4.5 0M549.1 93.03a2.25 2.25 0 1 0 4.5 0a2.25 2.25 0 1 0 -4.5 0M508.34 109.27a2.25 2.25 0 1 0 4.5 0a2.25 2.25 0 1 0 -4.5 0M509.55 115.59a2.25 2.25 0 1 0 4.5 0a2.25 2.25 0 1 0 -4.5 0M536.86 93.22a2.25 2.25 0 1 0 4.5 0a2.25 2.25 0 1 0 -4.5 0M469.23 161.82a2.25 2.25 0 1 0 4.5 0a2.25 2.25 0 1 0 -4.5 0M581.55 96.64a2.25 2.25 0 1 0 4.5 0a2.25 2.25 0 1 0 -4.5 0M628.67 164.06a2.25 2.25 0 1 0 4.5 0a2.25 2.25 0 1 0 -4.5 0M629.97 171.98a2.25 2.25 0 1 0 4.5 0a2.25 2.25 0 1 0 -4.5 0M621.85 112.83a2.25 2.25 0 1 0 4.5 0a2.25 2.25 0 1 0 -4.5 0M556.73 92.61a2.25 2.25 0 1 0 4.5 0a2.25 2.25 0 1 0 -4.5 0M625.77 141.75a2.25 2.25 0 1 0 4.5 0a2.25 2.25 0 1 0 -4.5 0M618.35 126.9a2.25 2.25 0 1 0 4.5 0a2.25 2.25 0 1 0 -4.5 0M491.27 175.43a2.25 2.25 0 1 0 4.5 0a2.25 2.25 0 1 0 -4.5 0M594.58 96.27a2.25 2.25 0 1 0 4.5 0a2.25 2.25 0 1 0 -4.5 0M610.83 101.51a2.25 2.25 0 1 0 4.5 0a2.25 2.25 0 1 0 -4.5 0M614.37 182.68a2.25 2.25 0 1 0 4.5 0a2.25 2.25 0 1 0 -4.5 0M625.41 177.15a2.25 2.25 0 1 0 4.5 0a2.25 2.25 0 1 0 -4.5 0M523.14 193.08a2.25 2.25 0 1 0 4.5 0a2.25 2.25 0 1 0 -4.5 0M491.31 177.6a2.25 2.25 0 1 0 4.5 0a2.25 2.25 0 1 0 -4.5 0M615.09 114.53a2.25 2.25 0 1 0 4.5 0a2.25 2.25 0 1 0 -4.5 0M549.95 195.76a2.25 2.25 0 1 0 4.5 0a2.25 2.25 0 1 0 -4.5 0M587.38 201.63a2.25 2.25 0 1 0 4.5 0a2.25 2.25 0 1 0 -4.5 0M623.15 169.31a2.25 2.25 0 1 0 4.5 0a2.25 2.25 0 1 0 -4.5 0M490.99 167.76a2.25 2.25 0 1 0 4.5 0a2.25 2.25 0 1 0 -4.5 0M607.45 99.4a2.25 2.25 0 1 0 4.5 0a2.25 2.25 0 1 0 -4.5 0M581.5 96.93a2.25 2.25 0 1 0 4.5 0a2.25 2.25 0 1 0 -4.5 0M619.03 184.46a2.25 2.25 0 1 0 4.5 0a2.25 2.25 0 1 0 -4.5 0M541.51 196.2a2.25 2.25 0 1 0 4.5 0a2.25 2.25 0 1 0 -4.5 0M484.35 131.78a2.25 2.25 0 1 0 4.5 0a2.25 2.25 0 1 0 -4.5 0M502.27 185.38a2.25 2.25 0 1 0 4.5 0a2.25 2.25 0 1 0 -4.5 0M591.8 89.04a2.25 2.25 0 1 0 4.5 0a2.25 2.25 0 1 0 -4.5 0M601.67 192.08a2.25 2.25 0 1 0 4.5 0a2.25 2.25 0 1 0 -4.5 0M531.5 93.36a2.25 2.25 0 1 0 4.5 0a2.25 2.25 0 1 0 -4.5 0M495.22 136.22a2.25 2.25 0 1 0 4.5 0a2.25 2.25 0 1 0 -4.5 0M592.24 93.91a2.25 2.25 0 1 0 4.5 0a2.25 2.25 0 1 0 -4.5 0M628.23 123.07a2.25 2.25 0 1 0 4.5 0a2.25 2.25 0 1 0 -4.5 0M611.88 189.56a2.25 2.25 0 1 0 4.5 0a2.25 2.25 0 1 0 -4.5 0M556.43 87.32a2.25 2.25 0 1 0 4.5 0a2.25 2.25 0 1 0 -4.5 0M496.82 135.64a2.25 2.25 0 1 0 4.5 0a2.25 2.25 0 1 0 -4.5 0M587.32 200.28a2.25 2.25 0 1 0 4.5 0a2.25 2.25 0 1 0 -4.5 0M579.79 93.2a2.25 2.25 0 1 0 4.5 0a2.25 2.25 0 1 0 -4.5 0M482.62 140.55a2.25 2.25 0 1 0 4.5 0a2.25 2.25 0 1 0 -4.5 0M533.67 195.45a2.25 2.25 0 1 0 4.5 0a2.25 2.25 0 1 0 -4.5 0M545.15 198.93a2.25 2.25 0 1 0 4.5 0a2.25 2.25 0 1 0 -4.5 0M487.33 161.62a2.25 2.25 0 1 0 4.5 0a2.25 2.25 0 1 0 -4.5 0M622.73 143.77a2.25 2.25 0 1 0 4.5 0a2.25 2.25 0 1 0 -4.5 0M628.35 160.44a2.25 2.25 0 1 0 4.5 0a2.25 2.25 0 1 0 -4.5 0M501.53 111.93a2.25 2.25 0 1 0 4.5 0a2.25 2.25 0 1 0 -4.5 0M490.44 136.66a2.25 2.25 0 1 0 4.5 0a2.25 2.25 0 1 0 -4.5 0M607.46 189.16a2.25 2.25 0 1 0 4.5 0a2.25 2.25 0 1 0 -4.5 0M621.74 134.82a2.25 2.25 0 1 0 4.5 0a2.25 2.25 0 1 0 -4.5 0M549.16 193.82a2.25 2.25 0 1 0 4.5 0a2.25 2.25 0 1 0 -4.5 0M611.06 109.66a2.25 2.25 0 1 0 4.5 0a2.25 2.25 0 1 0 -4.5 0M508.75 122.18a2.25 2.25 0 1 0 4.5 0a2.25 2.25 0 1 0 -4.5 0M603.15 91.16a2.25 2.25 0 1 0 4.5 0a2.25 2.25 0 1 0 -4.5 0M630.2 171.08a2.25 2.25 0 1 0 4.5 0a2.25 2.25 0 1 0 -4.5 0M472.82 160.79a2.25 2.25 0 1 0 4.5 0a2.25 2.25 0 1 0 -4.5 0M471.7 165.13a2.25 2.25 0 1 0 4.5 0a2.25 2.25 0 1 0 -4.5 0M628 113.71a2.25 2.25 0 1 0 4.5 0a2.25 2.25 0 1 0 -4.5 0M626.11 137.38a2.25 2.25 0 1 0 4.5 0a2.25 2.25 0 1 0 -4.5 0M542.56 192.25a2.25 2.25 0 1 0 4.5 0a2.25 2.25 0 1 0 -4.5 0M623.79 164.73a2.25 2.25 0 1 0 4.5 0a2.25 2.25 0 1 0 -4.5 0M557.19 194.09a2.25 2.25 0 1 0 4.5 0a2.25 2.25 0 1 0 -4.5 0M545.88 94.7a2.25 2.25 0 1 0 4.5 0a2.25 2.25 0 1 0 -4.5 0M622.29 120a2.25 2.25 0 1 0 4.5 0a2.25 2.25 0 1 0 -4.5 0M625.01 145.79a2.25 2.25 0 1 0 4.5 0a2.25 2.25 0 1 0 -4.5 0M582.17 198.21a2.25 2.25 0 1 0 4.5 0a2.25 2.25 0 1 0 -4.5 0M607.22 185.75a2.25 2.25 0 1 0 4.5 0a2.25 2.25 0 1 0 -4.5 0M510.78 194.75a2.25 2.25 0 1 0 4.5 0a2.25 2.25 0 1 0 -4.5 0M538.46 192.52a2.25 2.25 0 1 0 4.5 0a2.25 2.25 0 1 0 -4.5 0M618.66 122.17a2.25 2.25 0 1 0 4.5 0a2.25 2.25 0 1 0 -4.5 0M618.85 121.61a2.25 2.25 0 1 0 4.5 0a2.25 2.25 0 1 0 -4.5 0M581.28 203.12a2.25 2.25 0 1 0 4.5 0a2.25 2.25 0 1 0 -4.5 0M522.59 98.58a2.25 2.25 0 1 0 4.5 0a2.25 2.25 0 1 0 -4.5 0M628.82 133.81a2.25 2.25 0 1 0 4.5 0a2.25 2.25 0 1 0 -4.5 0M540.27 98.23a2.25 2.25 0 1 0 4.5 0a2.25 2.25 0 1 0 -4.5 0M487.52 136.4a2.25 2.25 0 1 0 4.5 0a2.25 2.25 0 1 0 -4.5 0M480.03 172.79a2.25 2.25 0 1 0 4.5 0a2.25 2.25 0 1 0 -4.5 0M630.49 130.18a2.25 2.25 0 1 0 4.5 0a2.25 2.25 0 1 0 -4.5 0M504.17 184.82a2.25 2.25 0 1 0 4.5 0a2.25 2.25 0 1 0 -4.5 0M576.84 198.56a2.25 2.25 0 1 0 4.5 0a2.25 2.25 0 1 0 -4.5 0M581.86 91.72a2.25 2.25 0 1 0 4.5 0a2.25 2.25 0 1 0 -4.5 0M597.01 198.3a2.25 2.25 0 1 0 4.5 0a2.25 2.25 0 1 0 -4.5 0M494.27 136.53a2.25 2.25 0 1 0 4.5 0a2.25 2.25 0 1 0 -4.5 0M479.31 167.36a2.25 2.25 0 1 0 4.5 0a2.25 2.25 0 1 0 -4.5 0M580.45 95.93a2.25 2.25 0 1 0 4.5 0a2.25 2.25 0 1 0 -4.5 0M583.16 196.52a2.25 2.25 0 1 0 4.5 0a2.25 2.25 0 1 0 -4.5 0M552.56 87.81a2.25 2.25 0 1 0 4.5 0a2.25 2.25 0 1 0 -4.5 0M548.88 192.27a2.25 2.25 0 1 0 4.5 0a2.25 2.25 0 1 0 -4.5 0M478.51 175.57a2.25 2.25 0 1 0 4.5 0a2.25 2.25 0 1 0 -4.5 0M573.96 198.2a2.25 2.25 0 1 0 4.5 0a2.25 2.25 0 1 0 -4.5 0M625.58 165.51a2.25 2.25 0 1 0 4.5 0a2.25 2.25 0 1 0 -4.5 0M625.56 123.76a2.25 2.25 0 1 0 4.5 0a2.25 2.25 0 1 0 -4.5 0M490.69 178.24a2.25 2.25 0 1 0 4.5 0a2.25 2.25 0 1 0 -4.5 0M559.66 88.39a2.25 2.25 0 1 0 4.5 0a2.25 2.25 0 1 0 -4.5 0M535.63 100.06a2.25 2.25 0 1 0 4.5 0a2.25 2.25 0 1 0 -4.5 0M517.23 110.61a2.25 2.25 0 1 0 4.5 0a2.25 2.25 0 1 0 -4.5 0M521.02 102.32a2.25 2.25 0 1 0 4.5 0a2.25 2.25 0 1 0 -4.5 0M582.36 200.93a2.25 2.25 0 1 0 4.5 0a2.25 2.25 0 1 0 -4.5 0M609.87 185.65a2.25 2.25 0 1 0 4.5 0a2.25 2.25 0 1 0 -4.5 0M623.46 114.89a2.25 2.25 0 1 0 4.5 0a2.25 2.25 0 1 0 -4.5 0M598.12 98.07a2.25 2.25 0 1 0 4.5 0a2.25 2.25 0 1 0 -4.5 0M625.07 183.31a2.25 2.25 0 1 0 4.5 0a2.25 2.25 0 1 0 -4.5 0M621.68 146.59a2.25 2.25 0 1 0 4.5 0a2.25 2.25 0 1 0 -4.5 0M625.73 181.95a2.25 2.25 0 1 0 4.5 0a2.25 2.25 0 1 0 -4.5 0M493.59 181.96a2.25 2.25 0 1 0 4.5 0a2.25 2.25 0 1 0 -4.5 0M476.37 174.12a2.25 2.25 0 1 0 4.5 0a2.25 2.25 0 1 0 -4.5 0M629.13 164.18a2.25 2.25 0 1 0 4.5 0a2.25 2.25 0 1 0 -4.5 0M486.87 155.47a2.25 2.25 0 1 0 4.5 0a2.25 2.25 0 1 0 -4.5 0M567.17 92.84a2.25 2.25 0 1 0 4.5 0a2.25 2.25 0 1 0 -4.5 0M616.63 109.7a2.25 2.25 0 1 0 4.5 0a2.25 2.25 0 1 0 -4.5 0M623.98 169.9a2.25 2.25 0 1 0 4.5 0a2.25 2.25 0 1 0 -4.5 0M623.55 165.98a2.25 2.25 0 1 0 4.5 0a2.25 2.25 0 1 0 -4.5 0M511.99 104.28a2.25 2.25 0 1 0 4.5 0a2.25 2.25 0 1 0 -4.5 0M505.56 117.9a2.25 2.25 0 1 0 4.5 0a2.25 2.25 0 1 0 -4.5 0M522.7 101.23a2.25 2.25 0 1 0 4.5 0a2.25 2.25 0 1 0 -4.5 0M616.38 119.51a2.25 2.25 0 1 0 4.5 0a2.25 2.25 0 1 0 -4.5 0M619.35 147.46a2.25 2.25 0 1 0 4.5 0a2.25 2.25 0 1 0 -4.5 0M544.35 95.83a2.25 2.25 0 1 0 4.5 0a2.25 2.25 0 1 0 -4.5 0M600.87 199.58a2.25 2.25 0 1 0 4.5 0a2.25 2.25 0 1 0 -4.5 0M632.7 161.5a2.25 2.25 0 1 0 4.5 0a2.25 2.25 0 1 0 -4.5 0M576.6 89.49a2.25 2.25 0 1 0 4.5 0a2.25 2.25 0 1 0 -4.5 0M574.9 94.38a2.25 2.25 0 1 0 4.5 0a2.25 2.25 0 1 0 -4.5 0M500.67 193.52a2.25 2.25 0 1 0 4.5 0a2.25 2.25 0 1 0 -4.5 0M591.11 197.96a2.25 2.25 0 1 0 4.5 0a2.25 2.25 0 1 0 -4.5 0M514.53 103.13a2.25 2.25 0 1 0 4.5 0a2.25 2.25 0 1 0 -4.5 0M624.62 157.38a2.25 2.25 0 1 0 4.5 0a2.25 2.25 0 1 0 -4.5 0M558.9 195.93a2.25 2.25 0 1 0 4.5 0a2.25 2.25 0 1 0 -4.5 0M493.67 123.92a2.25 2.25 0 1 0 4.5 0a2.25 2.25 0 1 0 -4.5 0M506.28 188.42a2.25 2.25 0 1 0 4.5 0a2.25 2.25 0 1 0 -4.5 0M560.05 193.64a2.25 2.25 0 1 0 4.5 0a2.25 2.25 0 1 0 -4.5 0M491.55 177.42a2.25 2.25 0 1 0 4.5 0a2.25 2.25 0 1 0 -4.5 0M585.49 92.93a2.25 2.25 0 1 0 4.5 0a2.25 2.25 0 1 0 -4.5 0M574.39 196.97a2.25 2.25 0 1 0 4.5 0a2.25 2.25 0 1 0 -4.5 0M535.09 199.55a2.25 2.25 0 1 0 4.5 0a2.25 2.25 0 1 0 -4.5 0M510.8 102.01a2.25 2.25 0 1 0 4.5 0a2.25 2.25 0 1 0 -4.5 0M484.15 139.01a2.25 2.25 0 1 0 4.5 0a2.25 2.25 0 1 0 -4.5 0M630.12 155.12a2.25 2.25 0 1 0 4.5 0a2.25 2.25 0 1 0 -4.5 0M525 194.63a2.25 2.25 0 1 0 4.5 0a2.25 2.25 0 1 0 -4.5 0M617.52 109.21a2.25 2.25 0 1 0 4.5 0a2.25 2.25 0 1 0 -4.5 0M502.51 129.56a2.25 2.25 0 1 0 4.5 0a2.25 2.25 0 1 0 -4.5 0M564.03 88.8a2.25 2.25 0 1 0 4.5 0a2.25 2.25 0 1 0 -4.5 0M485.25 155.96a2.25 2.25 0 1 0 4.5 0a2.25 2.25 0 1 0 -4.5 0M498.06 125.25a2.25 2.25 0 1 0 4.5 0a2.25 2.25 0 1 0 -4.5 0M467.91 172.96a2.25 2.25 0 1 0 4.5 0a2.25 2.25 0 1 0 -4.5 0M608.95 189.2a2.25 2.25 0 1 0 4.5 0a2.25 2.25 0 1 0 -4.5 0M572.4 195.41a2.25 2.25 0 1 0 4.5 0a2.25 2.25 0 1 0 -4.5 0M485.35 172.05a2.25 2.25 0 1 0 4.5 0a2.25 2.25 0 1 0 -4.5 0M508.96 118.59a2.25 2.25 0 1 0 4.5 0a2.25 2.25 0 1 0 -4.5 0M561.59 88.41a2.25 2.25 0 1 0 4.5 0a2.25 2.25 0 1 0 -4.5 0M621.96 184.59a2.25 2.25 0 1 0 4.5 0a2.25 2.25 0 1 0 -4.5 0M550.58 195.29a2.25 2.25 0 1 0 4.5 0a2.25 2.25 0 1 0 -4.5 0M581.96 198.56a2.25 2.25 0 1 0 4.5 0a2.25 2.25 0 1 0 -4.5 0M503.35 123.76a2.25 2.25 0 1 0 4.5 0a2.25 2.25 0 1 0 -4.5 0M489.7 172.83a2.25 2.25 0 1 0 4.5 0a2.25 2.25 0 1 0 -4.5 0M481.06 156.35a2.25 2.25 0 1 0 4.5 0a2.25 2.25 0 1 0 -4.5 0M601.15 106.56a2.25 2.25 0 1 0 4.5 0a2.25 2.25 0 1 0 -4.5 0M494.52 178.49a2.25 2.25 0 1 0 4.5 0a2.25 2.25 0 1 0 -4.5 0M594.14 204.54a2.25 2.25 0 1 0 4.5 0a2.25 2.25 0 1 0 -4.5 0M508.84 116.5a2.25 2.25 0 1 0 4.5 0a2.25 2.25 0 1 0 -4.5 0M623.7 136.24a2.25 2.25 0 1 0 4.5 0a2.25 2.25 0 1 0 -4.5 0M485.32 166.22a2.25 2.25 0 1 0 4.5 0a2.25 2.25 0 1 0 -4.5 0M630.31 128.29a2.25 2.25 0 1 0 4.5 0a2.25 2.25 0 1 0 -4.5 0M522.65 193.36a2.25 2.25 0 1 0 4.5 0a2.25 2.25 0 1 0 -4.5 0M536.7 94.45a2.25 2.25 0 1 0 4.5 0a2.25 2.25 0 1 0 -4.5 0M582.88 91.44a2.25 2.25 0 1 0 4.5 0a2.25 2.25 0 1 0 -4.5 0M586.76 195.79a2.25 2.25 0 1 0 4.5 0a2.25 2.25 0 1 0 -4.5 0M575.68 88.2a2.25 2.25 0 1 0 4.5 0a2.25 2.25 0 1 0 -4.5 0M490.78 137.28a2.25 2.25 0 1 0 4.5 0a2.25 2.25 0 1 0 -4.5 0M621.53 171.34a2.25 2.25 0 1 0 4.5 0a2.25 2.25 0 1 0 -4.5 0M492.98 172.79a2.25 2.25 0 1 0 4.5 0a2.25 2.25 0 1 0 -4.5 0M537.81 201.33a2.25 2.25 0 1 0 4.5 0a2.25 2.25 0 1 0 -4.5 0M481.86 140.77a2.25 2.25 0 1 0 4.5 0a2.25 2.25 0 1 0 -4.5 0M536.9 97.99a2.25 2.25 0 1 0 4.5 0a2.25 2.25 0 1 0 -4.5 0M625.86 165.06a2.25 2.25 0 1 0 4.5 0a2.25 2.25 0 1 0 -4.5 0M496.59 179.09a2.25 2.25 0 1 0 4.5 0a2.25 2.25 0 1 0 -4.5 0M495.53 181.64a2.25 2.25 0 1 0 4.5 0a2.25 2.25 0 1 0 -4.5 0M627.05 168.47a2.25 2.25 0 1 0 4.5 0a2.25 2.25 0 1 0 -4.5 0M577.01 195.42a2.25 2.25 0 1 0 4.5 0a2.25 2.25 0 1 0 -4.5 0M500.11 127.44a2.25 2.25 0 1 0 4.5 0a2.25 2.25 0 1 0 -4.5 0M580.96 200.67a2.25 2.25 0 1 0 4.5 0a2.25 2.25 0 1 0 -4.5 0M502.7 190.43a2.25 2.25 0 1 0 4.5 0a2.25 2.25 0 1 0 -4.5 0M508.21 105.48a2.25 2.25 0 1 0 4.5 0a2.25 2.25 0 1 0 -4.5 0M601.88 194.05a2.25 2.25 0 1 0 4.5 0a2.25 2.25 0 1 0 -4.5 0M621.45 122.48a2.25 2.25 0 1 0 4.5 0a2.25 2.25 0 1 0 -4.5 0M614.27 112.35a2.25 2.25 0 1 0 4.5 0a2.25 2.25 0 1 0 -4.5 0M592.44 202.5a2.25 2.25 0 1 0 4.5 0a2.25 2.25 0 1 0 -4.5 0M494.91 128.67a2.25 2.25 0 1 0 4.5 0a2.25 2.25 0 1 0 -4.5 0M576.08 195.45a2.25 2.25 0 1 0 4.5 0a2.25 2.25 0 1 0 -4.5 0M489.15 172.22a2.25 2.25 0 1 0 4.5 0a2.25 2.25 0 1 0 -4.5 0M581.5 196.34a2.25 2.25 0 1 0 4.5 0a2.25 2.25 0 1 0 -4.5 0M493.98 131.25a2.25 2.25 0 1 0 4.5 0a2.25 2.25 0 1 0 -4.5 0M509.66 111.31a2.25 2.25 0 1 0 4.5 0a2.25 2.25 0 1 0 -4.5 0M488.73 180.39a2.25 2.25 0 1 0 4.5 0a2.25 2.25 0 1 0 -4.5 0M568.58 196.05a2.25 2.25 0 1 0 4.5 0a2.25 2.25 0 1 0 -4.5 0M626.2 138.69a2.25 2.25 0 1 0 4.5 0a2.25 2.25 0 1 0 -4.5 0M580.31 95.59a2.25 2.25 0 1 0 4.5 0a2.25 2.25 0 1 0 -4.5 0M509.44 186.12a2.25 2.25 0 1 0 4.5 0a2.25 2.25 0 1 0 -4.5 0M543.71 190.72a2.25 2.25 0 1 0 4.5 0a2.25 2.25 0 1 0 -4.5 0M601.46 94.8a2.25 2.25 0 1 0 4.5 0a2.25 2.25 0 1 0 -4.5 0M547.06 87.51a2.25 2.25 0 1 0 4.5 0a2.25 2.25 0 1 0 -4.5 0M505.02 187.69a2.25 2.25 0 1 0 4.5 0a2.25 2.25 0 1 0 -4.5 0M553.73 93.39a2.25 2.25 0 1 0 4.5 0a2.25 2.25 0 1 0 -4.5 0M483.53 153.68a2.25 2.25 0 1 0 4.5 0a2.25 2.25 0 1 0 -4.5 0M610.23 113.1a2.25 2.25 0 1 0 4.5 0a2.25 2.25 0 1 0 -4.5 0M602.64 100.96a2.25 2.25 0 1 0 4.5 0a2.25 2.25 0 1 0 -4.5 0M476.76 163.2a2.25 2.25 0 1 0 4.5 0a2.25 2.25 0 1 0 -4.5 0M605.68 189.78a2.25 2.25 0 1 0 4.5 0a2.25 2.25 0 1 0 -4.5 0M601.6 93.92a2.25 2.25 0 1 0 4.5 0a2.25 2.25 0 1 0 -4.5 0M504.14 123.57a2.25 2.25 0 1 0 4.5 0a2.25 2.25 0 1 0 -4.5 0M490.99 179.51a2.25 2.25 0 1 0 4.5 0a2.25 2.25 0 1 0 -4.5 0M492.99 138.6a2.25 2.25 0 1 0 4.5 0a2.25 2.25 0 1 0 -4.5 0M470.24 167.14a2.25 2.25 0 1 0 4.5 0a2.25 2.25 0 1 0 -4.5 0M621.18 174.72a2.25 2.25 0 1 0 4.5 0a2.25 2.25 0 1 0 -4.5 0M574.45 204.88a2.25 2.25 0 1 0 4.5 0a2.25 2.25 0 1 0 -4.5 0M551.88 190.42a2.25 2.25 0 1 0 4.5 0a2.25 2.25 0 1 0 -4.5 0M506.06 115.62a2.25 2.25 0 1 0 4.5 0a2.25 2.25 0 1 0 -4.5 0M469.42 165.33a2.25 2.25 0 1 0 4.5 0a2.25 2.25 0 1 0 -4.5 0M597.25 86.3a2.25 2.25 0 1 0 4.5 0a2.25 2.25 0 1 0 -4.5 0M511.37 108.62a2.25 2.25 0 1 0 4.5 0a2.25 2.25 0 1 0 -4.5 0M488.13 170.55a2.25 2.25 0 1 0 4.5 0a2.25 2.25 0 1 0 -4.5 0M495.77 130.68a2.25 2.25 0 1 0 4.5 0a2.25 2.25 0 1 0 -4.5 0M527.74 93.21a2.25 2.25 0 1 0 4.5 0a2.25 2.25 0 1 0 -4.5 0M521.1 189.57a2.25 2.25 0 1 0 4.5 0a2.25 2.25 0 1 0 -4.5 0M574.37 200.79a2.25 2.25 0 1 0 4.5 0a2.25 2.25 0 1 0 -4.5 0M499.14 181.77a2.25 2.25 0 1 0 4.5 0a2.25 2.25 0 1 0 -4.5 0M481.49 148.58a2.25 2.25 0 1 0 4.5 0a2.25 2.25 0 1 0 -4.5 0M533.07 100.03a2.25 2.25 0 1 0 4.5 0a2.25 2.25 0 1 0 -4.5 0M623.37 139.89a2.25 2.25 0 1 0 4.5 0a2.25 2.25 0 1 0 -4.5 0M588.24 91.1a2.25 2.25 0 1 0 4.5 0a2.25 2.25 0 1 0 -4.5 0M506.17 196.15a2.25 2.25 0 1 0 4.5 0a2.25 2.25 0 1 0 -4.5 0M506.93 183.38a2.25 2.25 0 1 0 4.5 0a2.25 2.25 0 1 0 -4.5 0M623.48 140.35a2.25 2.25 0 1 0 4.5 0a2.25 2.25 0 1 0 -4.5 0M536.03 196.5a2.25 2.25 0 1 0 4.5 0a2.25 2.25 0 1 0 -4.5 0M576.89 94.36a2.25 2.25 0 1 0 4.5 0a2.25 2.25 0 1 0 -4.5 0M546.46 191.9a2.25 2.25 0 1 0 4.5 0a2.25 2.25 0 1 0 -4.5 0M577.86 86.51a2.25 2.25 0 1 0 4.5 0a2.25 2.25 0 1 0 -4.5 0M561.18 93.78a2.25 2.25 0 1 0 4.5 0a2.25 2.25 0 1 0 -4.5 0M552.25 92.94a2.25 2.25 0 1 0 4.5 0a2.25 2.25 0 1 0 -4.5 0M621.96 123.14a2.25 2.25 0 1 0 4.5 0a2.25 2.25 0 1 0 -4.5 0M593.49 198.28a2.25 2.25 0 1 0 4.5 0a2.25 2.25 0 1 0 -4.5 0M624.19 136.42a2.25 2.25 0 1 0 4.5 0a2.25 2.25 0 1 0 -4.5 0M564.07 196.19a2.25 2.25 0 1 0 4.5 0a2.25 2.25 0 1 0 -4.5 0M580.5 196.14a2.25 2.25 0 1 0 4.5 0a2.25 2.25 0 1 0 -4.5 0M507.28 118.54a2.25 2.25 0 1 0 4.5 0a2.25 2.25 0 1 0 -4.5 0M620.9 140.47a2.25 2.25 0 1 0 4.5 0a2.25 2.25 0 1 0 -4.5 0M619.38 180.52a2.25 2.25 0 1 0 4.5 0a2.25 2.25 0 1 0 -4.5 0M506.34 110.6a2.25 2.25 0 1 0 4.5 0a2.25 2.25 0 1 0 -4.5 0M538.79 94.99a2.25 2.25 0 1 0 4.5 0a2.25 2.25 0 1 0 -4.5 0M486.88 135.35a2.25 2.25 0 1 0 4.5 0a2.25 2.25 0 1 0 -4.5 0M616.97 187.68a2.25 2.25 0 1 0 4.5 0a2.25 2.25 0 1 0 -4.5 0M628.62 180.77a2.25 2.25 0 1 0 4.5 0a2.25 2.25 0 1 0 -4.5 0M527.97 99.6a2.25 2.25 0 1 0 4.5 0a2.25 2.25 0 1 0 -4.5 0M484.71 160.94a2.25 2.25 0 1 0 4.5 0a2.25 2.25 0 1 0 -4.5 0M489.66 178.91a2.25 2.25 0 1 0 4.5 0a2.25 2.25 0 1 0 -4.5 0M550.23 195.54a2.25 2.25 0 1 0 4.5 0a2.25 2.25 0 1 0 -4.5 0M472.81 173.04a2.25 2.25 0 1 0 4.5 0a2.25 2.25 0 1 0 -4.5 0M560.09 87.3a2.25 2.25 0 1 0 4.5 0a2.25 2.25 0 1 0 -4.5 0M486.63 149.54a2.25 2.25 0 1 0 4.5 0a2.25 2.25 0 1 0 -4.5 0M536.46 198.29a2.25 2.25 0 1 0 4.5 0a2.25 2.25 0 1 0 -4.5 0M589 198.85a2.25 2.25 0 1 0 4.5 0a2.25 2.25 0 1 0 -4.5 0M491.94 176.08a2.25 2.25 0 1 0 4.5 0a2.25 2.25 0 1 0 -4.5 0M488.64 170.63a2.25 2.25 0 1 0 4.5 0a2.25 2.25 0 1 0 -4.5 0M518.39 187.77a2.25 2.25 0 1 0 4.5 0a2.25 2.25 0 1 0 -4.5 0M591.08 199.71a2.25 2.25 0 1 0 4.5 0a2.25 2.25 0 1 0 -4.5 0M624.12 144.94a2.25 2.25 0 1 0 4.5 0a2.25 2.25 0 1 0 -4.5 0M533.71 201.04a2.25 2.25 0 1 0 4.5 0a2.25 2.25 0 1 0 -4.5 0M557.76 197.88a2.25 2.25 0 1 0 4.5 0a2.25 2.25 0 1 0 -4.5 0M617.28 179.16a2.25 2.25 0 1 0 4.5 0a2.25 2.25 0 1 0 -4.5 0" fill="#b3dfe5"/>
<line x1="428.2" y1="99.2" x2="684" y2="99.2" stroke="#ff1a1a" stroke-width="1.25" stroke-dasharray="1.1 1.1"/>
<line x1="428.2" y1="145.7" x2="684" y2="145.7" stroke="#1a1aff" stroke-width="1.25" stroke-dasharray="1.1 1.1"/>
<line x1="428.2" y1="192.19" x2="684" y2="192.19" stroke="#ff1a1a" stroke-width="1.25" stroke-dasharray="1.1 1.1"/>
<path d="M427.6 38V277.2H684" stroke="#000" stroke-width="1.3" fill="none"/>
<text x="472.8" y="287.8" font-size="8.3" text-anchor="middle" fill="#4d4d4d">50</text>
<text x="539.7" y="287.8" font-size="8.3" text-anchor="middle" fill="#4d4d4d">60</text>
<text x="606.6" y="287.8" font-size="8.3" text-anchor="middle" fill="#4d4d4d">70</text>
<text x="673.5" y="287.8" font-size="8.3" text-anchor="middle" fill="#4d4d4d">80</text>
<text x="427.4" y="94" font-size="8.3" text-anchor="end" fill="#4d4d4d">5</text>
<text x="427.4" y="148.7" font-size="8.3" text-anchor="end" fill="#4d4d4d">0</text>
<text x="427.4" y="203.4" font-size="8.3" text-anchor="end" fill="#4d4d4d">-5</text>
<text x="427.4" y="258.1" font-size="8.3" text-anchor="end" fill="#4d4d4d">-10</text>
<text x="479.6" y="300.1" font-size="10.9" textLength="158.1" lengthAdjust="spacingAndGlyphs" fill="#000">(VA by baPWV + VA by cfPWV) / 2</text>
<text transform="translate(411.3 221.2) rotate(-90)" font-size="10.9" textLength="134.3" lengthAdjust="spacingAndGlyphs" fill="#000">VA by baPWV - VA by cfPWV</text>
<text x="427.9" y="30.4" font-size="13.2" textLength="99" lengthAdjust="spacingAndGlyphs" fill="#000">Bland-Altman Plot</text>
<text x="391.7" y="12.9" font-size="14" textLength="8.9" lengthAdjust="spacingAndGlyphs" fill="#4a4a4a">B</text>
<text x="617.4" y="88" font-family="Liberation Serif" font-size="10.4" textLength="41.5" lengthAdjust="spacingAndGlyphs" fill="#000">+1.96SD</text>
<text x="627.8" y="101.2" font-family="Liberation Serif" font-size="10.4" textLength="20.2" lengthAdjust="spacingAndGlyphs" fill="#000">4.25</text>
<text x="625.5" y="137.4" font-family="Liberation Serif" font-size="10.4" textLength="25.7" lengthAdjust="spacingAndGlyphs" fill="#000">Mean</text>
<text x="627.8" y="150.9" font-family="Liberation Serif" font-size="10.4" textLength="20.3" lengthAdjust="spacingAndGlyphs" fill="#000">0.00</text>
<text x="618.9" y="197" font-family="Liberation Serif" font-size="10.4" textLength="38.1" lengthAdjust="spacingAndGlyphs" fill="#000">-1.96SD</text>
<text x="625.9" y="210.6" font-family="Liberation Serif" font-size="10.4" textLength="24.1" lengthAdjust="spacingAndGlyphs" fill="#000">-4.25</text>
</svg>
</body></html>
